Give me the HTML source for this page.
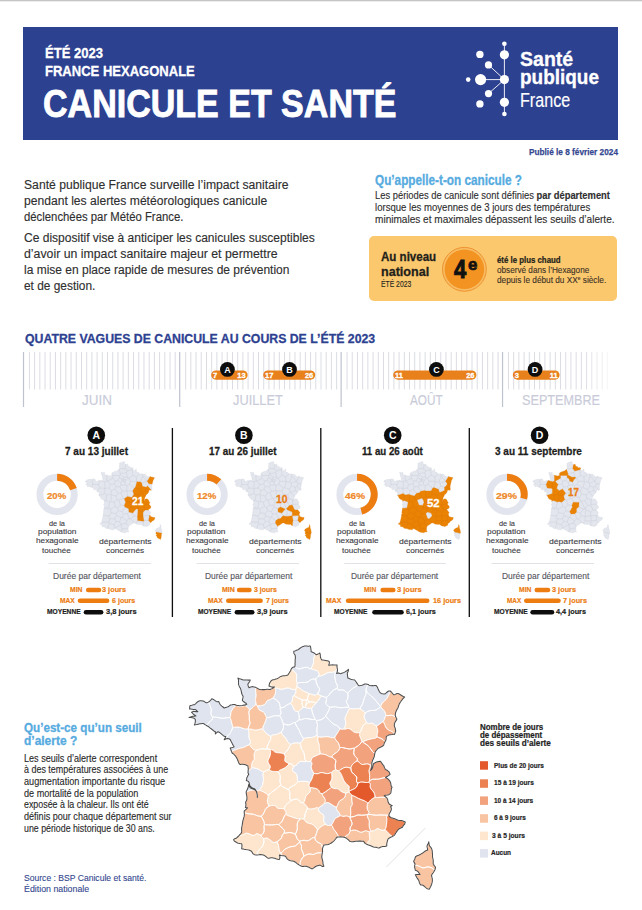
<!DOCTYPE html><html lang="fr"><head><meta charset="utf-8"><title>Canicule et santé — été 2023</title><style>
html,body{margin:0;padding:0;background:#fff}
body{width:642px;height:910px;position:relative;overflow:hidden;font-family:"Liberation Sans",sans-serif}
.t{position:absolute;white-space:nowrap;line-height:1;transform-origin:0 0;letter-spacing:0}
.t sup{font-size:0.6em;vertical-align:0;position:relative;top:-0.55em}
.abs{position:absolute}
svg{position:absolute;left:0;top:0;overflow:visible}

</style></head><body>
<div class="abs" style="left:0;top:0;width:642px;height:1px;background:#c6c6c6"></div>
<div class="abs" style="left:0;top:1px;width:642px;height:1px;background:#ececec"></div>
<div class="abs" style="left:23px;top:27px;width:595px;height:113px;background:#2d4191"></div>
<div class="abs" style="left:369px;top:236px;width:248px;height:65px;background:#fbc86e;border-radius:5px"></div>
<svg width="642" height="910" viewBox="0 0 642 910"><g fill="#fff" stroke="#fff"><line x1="504.4" y1="44" x2="504.4" y2="114" stroke-width="0.9"/><line x1="480.6" y1="79.6" x2="504.4" y2="79.6" stroke-width="0.9"/><line x1="488.5" y1="64.9" x2="504.4" y2="79.6" stroke-width="0.9"/><line x1="488.5" y1="93.6" x2="504.4" y2="79.6" stroke-width="0.9"/></g><g fill="#fff"><circle cx="504.4" cy="43.8" r="2.3"/><circle cx="504.4" cy="54.8" r="4.6"/><circle cx="504.4" cy="79.6" r="4.6"/><circle cx="504.4" cy="102.3" r="4.6"/><circle cx="504.4" cy="114" r="2.3"/><circle cx="480.6" cy="79.6" r="5.6"/><circle cx="468.2" cy="79.6" r="2.3"/><circle cx="479.9" cy="54.4" r="3.7"/><circle cx="488.5" cy="64.9" r="3.6"/><circle cx="488.5" cy="93.6" r="3.6"/><circle cx="479.9" cy="103.9" r="3.7"/></g><circle cx="464.4" cy="269.3" r="21.9" fill="#f8bd62" stroke="#ee9231" stroke-width="1"/><circle cx="464.4" cy="269.3" r="19.8" fill="#f39322"/><rect x="28.91" y="352" width="1" height="37.5" fill="#dcdde4" opacity="1.00"/><rect x="34.11" y="352" width="1" height="37.5" fill="#dcdde4" opacity="1.00"/><rect x="39.32" y="352" width="1" height="37.5" fill="#dcdde4" opacity="1.00"/><rect x="44.53" y="352" width="1" height="37.5" fill="#dcdde4" opacity="1.00"/><rect x="49.73" y="352" width="1" height="37.5" fill="#dcdde4" opacity="1.00"/><rect x="54.94" y="352" width="1" height="37.5" fill="#dcdde4" opacity="1.00"/><rect x="60.15" y="352" width="1" height="37.5" fill="#dcdde4" opacity="1.00"/><rect x="65.36" y="352" width="1" height="37.5" fill="#dcdde4" opacity="1.00"/><rect x="70.56" y="352" width="1" height="37.5" fill="#dcdde4" opacity="1.00"/><rect x="75.77" y="352" width="1" height="37.5" fill="#dcdde4" opacity="1.00"/><rect x="80.98" y="352" width="1" height="37.5" fill="#dcdde4" opacity="1.00"/><rect x="86.18" y="352" width="1" height="37.5" fill="#dcdde4" opacity="1.00"/><rect x="91.39" y="352" width="1" height="37.5" fill="#dcdde4" opacity="1.00"/><rect x="96.60" y="352" width="1" height="37.5" fill="#dcdde4" opacity="1.00"/><rect x="101.81" y="352" width="1" height="37.5" fill="#dcdde4" opacity="1.00"/><rect x="107.01" y="352" width="1" height="37.5" fill="#dcdde4" opacity="1.00"/><rect x="112.22" y="352" width="1" height="37.5" fill="#dcdde4" opacity="1.00"/><rect x="117.43" y="352" width="1" height="37.5" fill="#dcdde4" opacity="1.00"/><rect x="122.63" y="352" width="1" height="37.5" fill="#dcdde4" opacity="1.00"/><rect x="127.84" y="352" width="1" height="37.5" fill="#dcdde4" opacity="1.00"/><rect x="133.05" y="352" width="1" height="37.5" fill="#dcdde4" opacity="1.00"/><rect x="138.25" y="352" width="1" height="37.5" fill="#dcdde4" opacity="1.00"/><rect x="143.46" y="352" width="1" height="37.5" fill="#dcdde4" opacity="1.00"/><rect x="148.67" y="352" width="1" height="37.5" fill="#dcdde4" opacity="1.00"/><rect x="153.87" y="352" width="1" height="37.5" fill="#dcdde4" opacity="1.00"/><rect x="159.08" y="352" width="1" height="37.5" fill="#dcdde4" opacity="1.00"/><rect x="164.29" y="352" width="1" height="37.5" fill="#dcdde4" opacity="1.00"/><rect x="169.50" y="352" width="1" height="37.5" fill="#dcdde4" opacity="1.00"/><rect x="174.70" y="352" width="1" height="37.5" fill="#dcdde4" opacity="1.00"/><rect x="185.12" y="352" width="1" height="37.5" fill="#dcdde4" opacity="1.00"/><rect x="190.32" y="352" width="1" height="37.5" fill="#dcdde4" opacity="1.00"/><rect x="195.53" y="352" width="1" height="37.5" fill="#dcdde4" opacity="1.00"/><rect x="200.74" y="352" width="1" height="37.5" fill="#dcdde4" opacity="1.00"/><rect x="205.94" y="352" width="1" height="37.5" fill="#dcdde4" opacity="1.00"/><rect x="211.15" y="352" width="1" height="37.5" fill="#dcdde4" opacity="1.00"/><rect x="216.36" y="352" width="1" height="37.5" fill="#dcdde4" opacity="1.00"/><rect x="221.57" y="352" width="1" height="37.5" fill="#dcdde4" opacity="1.00"/><rect x="226.77" y="352" width="1" height="37.5" fill="#dcdde4" opacity="1.00"/><rect x="231.98" y="352" width="1" height="37.5" fill="#dcdde4" opacity="1.00"/><rect x="237.19" y="352" width="1" height="37.5" fill="#dcdde4" opacity="1.00"/><rect x="242.39" y="352" width="1" height="37.5" fill="#dcdde4" opacity="1.00"/><rect x="247.60" y="352" width="1" height="37.5" fill="#dcdde4" opacity="1.00"/><rect x="252.81" y="352" width="1" height="37.5" fill="#dcdde4" opacity="1.00"/><rect x="258.01" y="352" width="1" height="37.5" fill="#dcdde4" opacity="1.00"/><rect x="263.22" y="352" width="1" height="37.5" fill="#dcdde4" opacity="1.00"/><rect x="268.43" y="352" width="1" height="37.5" fill="#dcdde4" opacity="1.00"/><rect x="273.64" y="352" width="1" height="37.5" fill="#dcdde4" opacity="1.00"/><rect x="278.84" y="352" width="1" height="37.5" fill="#dcdde4" opacity="1.00"/><rect x="284.05" y="352" width="1" height="37.5" fill="#dcdde4" opacity="1.00"/><rect x="289.26" y="352" width="1" height="37.5" fill="#dcdde4" opacity="1.00"/><rect x="294.46" y="352" width="1" height="37.5" fill="#dcdde4" opacity="1.00"/><rect x="299.67" y="352" width="1" height="37.5" fill="#dcdde4" opacity="1.00"/><rect x="304.88" y="352" width="1" height="37.5" fill="#dcdde4" opacity="1.00"/><rect x="310.08" y="352" width="1" height="37.5" fill="#dcdde4" opacity="1.00"/><rect x="315.29" y="352" width="1" height="37.5" fill="#dcdde4" opacity="1.00"/><rect x="320.50" y="352" width="1" height="37.5" fill="#dcdde4" opacity="1.00"/><rect x="325.71" y="352" width="1" height="37.5" fill="#dcdde4" opacity="1.00"/><rect x="330.91" y="352" width="1" height="37.5" fill="#dcdde4" opacity="1.00"/><rect x="336.12" y="352" width="1" height="37.5" fill="#dcdde4" opacity="1.00"/><rect x="346.53" y="352" width="1" height="37.5" fill="#dcdde4" opacity="1.00"/><rect x="351.74" y="352" width="1" height="37.5" fill="#dcdde4" opacity="1.00"/><rect x="356.95" y="352" width="1" height="37.5" fill="#dcdde4" opacity="1.00"/><rect x="362.15" y="352" width="1" height="37.5" fill="#dcdde4" opacity="1.00"/><rect x="367.36" y="352" width="1" height="37.5" fill="#dcdde4" opacity="1.00"/><rect x="372.57" y="352" width="1" height="37.5" fill="#dcdde4" opacity="1.00"/><rect x="377.78" y="352" width="1" height="37.5" fill="#dcdde4" opacity="1.00"/><rect x="382.98" y="352" width="1" height="37.5" fill="#dcdde4" opacity="1.00"/><rect x="388.19" y="352" width="1" height="37.5" fill="#dcdde4" opacity="1.00"/><rect x="393.40" y="352" width="1" height="37.5" fill="#dcdde4" opacity="1.00"/><rect x="398.60" y="352" width="1" height="37.5" fill="#dcdde4" opacity="1.00"/><rect x="403.81" y="352" width="1" height="37.5" fill="#dcdde4" opacity="1.00"/><rect x="409.02" y="352" width="1" height="37.5" fill="#dcdde4" opacity="1.00"/><rect x="414.22" y="352" width="1" height="37.5" fill="#dcdde4" opacity="1.00"/><rect x="419.43" y="352" width="1" height="37.5" fill="#dcdde4" opacity="1.00"/><rect x="424.64" y="352" width="1" height="37.5" fill="#dcdde4" opacity="1.00"/><rect x="429.85" y="352" width="1" height="37.5" fill="#dcdde4" opacity="1.00"/><rect x="435.05" y="352" width="1" height="37.5" fill="#dcdde4" opacity="1.00"/><rect x="440.26" y="352" width="1" height="37.5" fill="#dcdde4" opacity="1.00"/><rect x="445.47" y="352" width="1" height="37.5" fill="#dcdde4" opacity="1.00"/><rect x="450.67" y="352" width="1" height="37.5" fill="#dcdde4" opacity="1.00"/><rect x="455.88" y="352" width="1" height="37.5" fill="#dcdde4" opacity="1.00"/><rect x="461.09" y="352" width="1" height="37.5" fill="#dcdde4" opacity="1.00"/><rect x="466.29" y="352" width="1" height="37.5" fill="#dcdde4" opacity="1.00"/><rect x="471.50" y="352" width="1" height="37.5" fill="#dcdde4" opacity="1.00"/><rect x="476.71" y="352" width="1" height="37.5" fill="#dcdde4" opacity="1.00"/><rect x="481.92" y="352" width="1" height="37.5" fill="#dcdde4" opacity="1.00"/><rect x="487.12" y="352" width="1" height="37.5" fill="#dcdde4" opacity="1.00"/><rect x="492.33" y="352" width="1" height="37.5" fill="#dcdde4" opacity="1.00"/><rect x="497.54" y="352" width="1" height="37.5" fill="#dcdde4" opacity="1.00"/><rect x="507.95" y="352" width="1" height="37.5" fill="#dcdde4" opacity="1.00"/><rect x="513.16" y="352" width="1" height="37.5" fill="#dcdde4" opacity="1.00"/><rect x="518.37" y="352" width="1" height="37.5" fill="#dcdde4" opacity="1.00"/><rect x="523.57" y="352" width="1" height="37.5" fill="#dcdde4" opacity="1.00"/><rect x="528.78" y="352" width="1" height="37.5" fill="#dcdde4" opacity="1.00"/><rect x="533.99" y="352" width="1" height="37.5" fill="#dcdde4" opacity="1.00"/><rect x="539.19" y="352" width="1" height="37.5" fill="#dcdde4" opacity="1.00"/><rect x="544.40" y="352" width="1" height="37.5" fill="#dcdde4" opacity="1.00"/><rect x="549.61" y="352" width="1" height="37.5" fill="#dcdde4" opacity="1.00"/><rect x="554.81" y="352" width="1" height="37.5" fill="#dcdde4" opacity="1.00"/><rect x="560.02" y="352" width="1" height="37.5" fill="#dcdde4" opacity="1.00"/><rect x="565.23" y="352" width="1" height="37.5" fill="#dcdde4" opacity="1.00"/><rect x="570.44" y="352" width="1" height="37.5" fill="#dcdde4" opacity="1.00"/><rect x="575.64" y="352" width="1" height="37.5" fill="#dcdde4" opacity="1.00"/><rect x="580.85" y="352" width="1" height="37.5" fill="#dcdde4" opacity="1.00"/><rect x="586.06" y="352" width="1" height="37.5" fill="#dcdde4" opacity="0.95"/><rect x="591.26" y="352" width="1" height="37.5" fill="#dcdde4" opacity="0.77"/><rect x="596.47" y="352" width="1" height="37.5" fill="#dcdde4" opacity="0.60"/><rect x="601.68" y="352" width="1" height="37.5" fill="#dcdde4" opacity="0.43"/><rect x="606.88" y="352" width="1" height="37.5" fill="#dcdde4" opacity="0.25"/><rect x="22.90" y="352" width="1.2" height="55" fill="#bfc2cf"/><rect x="179.11" y="352" width="1.2" height="55" fill="#bfc2cf"/><rect x="340.53" y="352" width="1.2" height="55" fill="#bfc2cf"/><rect x="501.94" y="352" width="1.2" height="55" fill="#bfc2cf"/><rect x="211.20" y="370.4" width="36.40" height="9.3" rx="4.65" fill="#e8801b"/><text x="213.10" y="377.9" font-size="7.5" font-weight="bold" fill="#fff" stroke="#fff" stroke-width="0.3" font-family="Liberation Sans">7</text><text x="245.70" y="377.9" font-size="7.5" font-weight="bold" fill="#fff" stroke="#fff" stroke-width="0.3" text-anchor="end" font-family="Liberation Sans">13</text><circle cx="227.40" cy="369.4" r="7.4" fill="#0d0d0d"/><text x="227.40" y="372.6" font-size="9" font-weight="bold" fill="#fff" text-anchor="middle" font-family="Liberation Sans">A</text><rect x="263.20" y="370.4" width="52.00" height="9.3" rx="4.65" fill="#e8801b"/><text x="265.10" y="377.9" font-size="7.5" font-weight="bold" fill="#fff" stroke="#fff" stroke-width="0.3" font-family="Liberation Sans">17</text><text x="313.30" y="377.9" font-size="7.5" font-weight="bold" fill="#fff" stroke="#fff" stroke-width="0.3" text-anchor="end" font-family="Liberation Sans">26</text><circle cx="289.50" cy="369.4" r="7.4" fill="#0d0d0d"/><text x="289.50" y="372.6" font-size="9" font-weight="bold" fill="#fff" text-anchor="middle" font-family="Liberation Sans">B</text><rect x="393.20" y="370.4" width="83.20" height="9.3" rx="4.65" fill="#e8801b"/><text x="395.10" y="377.9" font-size="7.5" font-weight="bold" fill="#fff" stroke="#fff" stroke-width="0.3" font-family="Liberation Sans">11</text><text x="474.50" y="377.9" font-size="7.5" font-weight="bold" fill="#fff" stroke="#fff" stroke-width="0.3" text-anchor="end" font-family="Liberation Sans">26</text><circle cx="436.40" cy="369.4" r="7.4" fill="#0d0d0d"/><text x="436.40" y="372.6" font-size="9" font-weight="bold" fill="#fff" text-anchor="middle" font-family="Liberation Sans">C</text><rect x="512.80" y="370.4" width="46.80" height="9.3" rx="4.65" fill="#e8801b"/><text x="514.70" y="377.9" font-size="7.5" font-weight="bold" fill="#fff" stroke="#fff" stroke-width="0.3" font-family="Liberation Sans">3</text><text x="557.70" y="377.9" font-size="7.5" font-weight="bold" fill="#fff" stroke="#fff" stroke-width="0.3" text-anchor="end" font-family="Liberation Sans">11</text><circle cx="535.10" cy="369.4" r="7.4" fill="#0d0d0d"/><text x="535.10" y="372.6" font-size="9" font-weight="bold" fill="#fff" text-anchor="middle" font-family="Liberation Sans">D</text><circle cx="96.3" cy="435.2" r="8.8" fill="#0d0d0d"/><text x="96.3" y="439.1" font-size="10.5" font-weight="bold" fill="#fff" text-anchor="middle" font-family="Liberation Sans">A</text><circle cx="57.10" cy="494.4" r="17.2" fill="none" stroke="#e3e5ee" stroke-width="6.9"/><path d="M57.10,477.20 A17.2,17.2 0 0 1 73.46,489.08" fill="none" stroke="#ee7d11" stroke-width="6.9"/><rect x="48.6" y="563" width="102.4" height="0.9" fill="#dedfe3"/><rect x="85.90" y="587.70" width="15.40" height="4.6" rx="2.3" fill="#ee7d11"/><rect x="77.70" y="598.40" width="31.70" height="4.6" rx="2.3" fill="#ee7d11"/><rect x="83.70" y="609.90" width="19.70" height="4.6" rx="2.3" fill="#0d0d0d"/><circle cx="243.9" cy="435.2" r="8.8" fill="#0d0d0d"/><text x="243.9" y="439.1" font-size="10.5" font-weight="bold" fill="#fff" text-anchor="middle" font-family="Liberation Sans">B</text><circle cx="207.07" cy="494.4" r="17.2" fill="none" stroke="#e3e5ee" stroke-width="6.9"/><path d="M207.07,477.20 A17.2,17.2 0 0 1 218.84,481.86" fill="none" stroke="#ee7d11" stroke-width="6.9"/><rect x="196.6" y="563" width="102.4" height="0.9" fill="#dedfe3"/><rect x="236.80" y="587.70" width="14.90" height="4.6" rx="2.3" fill="#ee7d11"/><rect x="226.00" y="598.40" width="36.90" height="4.6" rx="2.3" fill="#ee7d11"/><rect x="234.60" y="609.90" width="19.90" height="4.6" rx="2.3" fill="#0d0d0d"/><circle cx="392.7" cy="435.2" r="8.8" fill="#0d0d0d"/><text x="392.7" y="439.1" font-size="10.5" font-weight="bold" fill="#fff" text-anchor="middle" font-family="Liberation Sans">C</text><circle cx="357.04" cy="494.4" r="17.2" fill="none" stroke="#e3e5ee" stroke-width="6.9"/><path d="M357.04,477.20 A17.2,17.2 0 0 1 361.32,511.06" fill="none" stroke="#ee7d11" stroke-width="6.9"/><rect x="344.2" y="563" width="101.6" height="0.9" fill="#dedfe3"/><rect x="380.40" y="587.70" width="15.20" height="4.6" rx="2.3" fill="#ee7d11"/><rect x="345.80" y="598.40" width="83.70" height="4.6" rx="2.3" fill="#ee7d11"/><rect x="372.20" y="609.90" width="31.60" height="4.6" rx="2.3" fill="#0d0d0d"/><circle cx="539.6" cy="435.2" r="8.8" fill="#0d0d0d"/><text x="539.6" y="439.1" font-size="10.5" font-weight="bold" fill="#fff" text-anchor="middle" font-family="Liberation Sans">D</text><circle cx="507.01" cy="494.4" r="17.2" fill="none" stroke="#e3e5ee" stroke-width="6.9"/><path d="M507.01,477.20 A17.2,17.2 0 0 1 523.67,498.68" fill="none" stroke="#ee7d11" stroke-width="6.9"/><rect x="491.7" y="563" width="102.4" height="0.9" fill="#dedfe3"/><rect x="534.50" y="587.70" width="15.80" height="4.6" rx="2.3" fill="#ee7d11"/><rect x="524.00" y="598.40" width="36.80" height="4.6" rx="2.3" fill="#ee7d11"/><rect x="530.30" y="609.90" width="24.00" height="4.6" rx="2.3" fill="#0d0d0d"/><rect x="171.75" y="428" width="1.3" height="189" fill="#0d0d0d"/><rect x="320.15000000000003" y="428" width="1.3" height="189" fill="#0d0d0d"/><rect x="468.65000000000003" y="428" width="1.3" height="189" fill="#0d0d0d"/><path d="M129.05,478.24L132.77,475.29L132.24,469.63L127.17,471.06L126.42,472.57L127.43,477.10L128.21,477.92ZM148.59,520.43L149.55,515.48L143.02,515.86L143.89,520.71ZM149.55,515.48L149.95,515.09L150.22,513.22L150.88,512.77L148.88,510.28L148.69,510.10L145.43,509.90L143.10,511.97L143.01,515.86L143.02,515.86ZM137.56,516.38L138.00,509.69L137.34,508.72L135.99,508.96L132.67,513.11L133.84,515.87L137.50,516.43ZM132.24,469.63L132.77,475.29L136.43,476.89L139.70,474.07L138.58,472.62L136.47,471.87L136.14,470.25L136.50,469.02L135.59,469.45L134.34,470.71L132.78,470.50L133.00,468.72ZM122.11,529.01L121.11,524.57L115.01,527.79L114.91,528.59L116.09,528.94L118.75,530.61L120.42,531.44L120.81,531.65ZM129.54,484.26L134.23,488.15L135.37,487.61L136.91,481.73L136.57,481.37L130.63,481.29ZM126.17,523.04L121.17,524.36L121.11,524.57L122.11,529.01L128.14,528.07L128.13,527.95L128.46,526.72L128.63,526.46ZM129.27,518.75L127.39,513.65L123.45,513.89L122.17,517.15L126.71,520.60ZM143.57,521.18L137.62,520.52L135.69,523.42L135.70,523.43L137.08,524.29L138.66,524.33L139.84,524.45L141.29,524.16L141.74,524.87L142.70,525.41L143.21,525.64ZM106.93,480.99L107.59,481.14L112.84,478.26L112.92,475.43L112.58,474.86L112.35,474.99L111.55,475.45L109.86,475.97L108.04,475.49L106.70,475.18ZM111.85,473.66L111.57,474.31L112.44,474.63ZM122.13,511.75L123.45,513.89L127.39,513.65L128.95,511.93L128.72,508.68L124.94,506.90ZM111.07,501.49L109.78,501.97L108.58,508.04L110.34,509.24L115.23,506.55L114.10,502.14ZM104.03,501.21L104.01,501.28L104.79,502.94L103.91,504.12L103.61,504.92L104.82,505.63L106.34,507.48L106.61,508.13L108.58,508.04L109.78,501.97L105.83,500.43ZM106.45,508.14L104.64,506.11L104.00,508.20L104.00,508.25ZM123.25,498.32L124.32,498.69L127.44,496.38L126.99,490.89L126.59,490.54L122.21,491.27L121.00,492.86ZM117.45,507.62L118.34,510.71L122.13,511.75L124.94,506.90L124.25,505.43L120.58,505.12ZM92.77,484.53L98.53,484.53L100.26,480.72L98.76,480.40L97.51,480.98L96.40,481.72L95.65,480.85L94.94,479.17L92.84,478.77L92.10,479.61L91.95,479.60ZM120.58,505.12L124.25,505.43L125.66,502.26L124.32,498.69L123.25,498.32L118.66,500.10ZM115.23,506.55L110.34,509.24L111.16,512.58L115.86,513.73L118.34,510.71L117.45,507.62ZM119.54,475.47L112.92,475.43L112.84,478.26L115.28,481.20L117.84,480.39L119.46,477.53ZM117.84,480.39L115.28,481.20L114.51,484.07L116.06,486.76L119.88,486.61L121.01,485.23L120.58,482.62ZM92.77,484.53L91.95,479.60L89.98,479.36L87.99,479.68L86.62,480.13L85.60,480.86L85.55,482.24L87.28,481.99L88.03,482.71L86.69,482.75L86.28,483.12L86.89,483.67L87.92,484.33L86.72,484.47L85.57,484.61L87.31,485.25L87.36,486.73L88.85,486.36L89.82,486.45L91.31,487.13ZM137.62,520.52L137.50,516.43L133.84,515.87L130.95,518.84L133.95,522.88L134.34,522.81L135.69,523.42ZM119.50,521.83L116.16,521.49L113.89,524.81L115.01,527.79L121.11,524.57L121.17,524.36ZM108.80,522.05L109.39,523.25L113.89,524.81L116.16,521.49L114.71,518.92L109.82,518.85ZM108.65,516.04L111.16,512.58L110.34,509.24L108.58,508.04L106.61,508.13L107.25,509.72L106.60,508.31L106.45,508.14L104.00,508.25L103.68,511.03L103.31,513.37L104.17,513.49L103.28,514.27L103.18,515.03ZM130.95,518.84L129.27,518.75L126.71,520.60L126.17,523.04L128.63,526.46L129.20,525.58L130.48,525.07L131.92,524.07L133.35,522.99L133.95,522.88ZM100.75,480.58L100.34,480.74L100.26,480.72L98.53,484.53L99.67,487.98L104.67,488.38L104.98,481.82ZM123.25,498.32L121.00,492.86L118.09,493.35L116.01,496.05L117.12,499.69L118.66,500.10ZM114.97,489.10L111.58,490.63L110.78,494.36L111.28,494.86L116.01,496.05L118.09,493.35ZM108.80,522.05L109.82,518.85L108.65,516.04L103.18,515.03L102.90,517.10L102.35,519.51L101.87,521.53L101.57,522.21ZM122.21,491.27L119.88,486.61L116.06,486.76L114.97,489.10L118.09,493.35L121.00,492.86ZM104.80,493.56L104.70,488.40L104.67,488.38L99.67,487.98L97.02,491.39L96.97,491.61L98.87,491.89L99.08,493.13L99.71,493.73L98.47,494.47L99.19,495.45ZM121.01,485.23L119.88,486.61L122.21,491.27L126.59,490.54L126.85,485.73L125.51,484.94ZM118.34,510.71L115.86,513.73L116.43,515.67L121.33,517.55L122.17,517.15L123.45,513.89L122.13,511.75ZM114.71,518.92L116.43,515.67L115.86,513.73L111.16,512.58L108.65,516.04L109.82,518.85ZM132.67,513.11L128.95,511.93L127.39,513.65L129.27,518.75L130.95,518.84L133.84,515.87ZM104.80,493.56L106.86,495.04L110.78,494.36L111.58,490.63L108.95,488.14L104.70,488.40ZM106.70,475.18L105.95,475.00L105.00,475.20L104.58,473.63L104.67,472.50L102.79,472.73L101.14,472.07L101.55,473.48L101.75,474.95L102.70,477.61L102.79,479.33L103.64,480.84L103.05,481.05L101.26,480.39L100.75,480.58L104.98,481.82L106.93,480.99ZM130.63,481.29L136.57,481.37L136.43,476.89L132.77,475.29L129.05,478.24ZM104.98,481.82L104.67,488.38L104.70,488.40L108.95,488.14L110.43,484.41L107.59,481.14L106.93,480.99ZM147.18,481.26L147.18,481.22L142.72,476.11L140.55,482.08L141.77,483.06ZM140.55,482.08L142.72,476.11L142.50,474.07L141.61,473.72L139.81,474.20L139.70,474.07L136.43,476.89L136.57,481.37L136.91,481.73ZM99.67,487.98L98.53,484.53L92.77,484.53L91.31,487.13L91.77,487.33L92.70,487.97L94.00,489.05L93.90,489.85L94.91,489.36L95.97,489.84L97.30,490.33L97.02,491.39ZM150.23,476.46L150.08,476.37L148.27,476.89L147.18,476.30L146.34,475.53L145.49,474.60L144.52,474.24L143.11,474.31L142.50,474.07L142.72,476.11L147.18,481.22ZM127.44,496.38L131.86,497.54L133.93,494.15L132.71,490.99L126.99,490.89ZM133.00,468.72L133.11,467.89L131.65,467.51L130.38,467.94L130.09,466.72L128.18,466.17L127.47,463.98L126.20,464.72L125.87,464.49L125.15,468.58L127.17,471.06L132.24,469.63ZM127.43,477.10L126.42,472.57L120.41,473.67L120.10,474.76L124.35,477.26ZM110.43,484.41L114.51,484.07L115.28,481.20L112.84,478.26L107.59,481.14ZM125.15,468.58L125.87,464.49L124.76,463.75L124.37,461.55L123.47,461.87L121.19,462.44L119.46,463.32L119.61,464.54L119.41,466.17L119.31,467.55L119.72,468.62L119.69,468.63ZM109.39,523.25L108.80,522.05L101.57,522.21L101.42,522.56L101.05,523.11L99.85,523.70L100.18,524.29L102.04,524.79L102.09,526.59L104.61,527.11L105.76,528.22L107.57,528.46ZM107.57,528.46L108.41,528.57L110.76,529.62L114.19,529.80L114.32,528.41L114.91,528.59L115.01,527.79L113.89,524.81L109.39,523.25ZM122.11,529.01L120.81,531.65L122.03,532.27L125.13,532.85L127.38,531.86L128.98,531.93L128.25,531.04L128.16,529.41L128.14,528.07ZM148.94,483.69L147.68,486.12L151.31,490.31L151.38,490.32L152.01,489.22L151.71,487.44L151.90,484.98L152.16,483.98ZM114.51,484.07L110.43,484.41L108.95,488.14L111.58,490.63L114.97,489.10L116.06,486.76ZM123.09,478.77L123.31,480.59L124.13,479.79L123.30,478.65ZM118.83,469.25L118.43,469.82L116.87,470.94L115.00,471.39L113.17,472.16L112.28,472.63L111.85,473.66L112.44,474.63L112.77,474.76L112.58,474.86L112.92,475.43L119.54,475.47L120.10,474.76L120.41,473.67ZM126.19,479.86L124.89,482.13L125.51,484.94L126.85,485.73L129.54,484.26L130.63,481.29L129.05,478.24L128.21,477.92ZM121.69,479.06L119.46,477.53L117.84,480.39L120.58,482.62L122.15,481.27ZM110.78,494.36L106.86,495.04L105.83,500.43L109.78,501.97L111.07,501.49L111.28,494.86ZM120.41,473.67L126.42,472.57L127.17,471.06L125.15,468.58L119.69,468.63L119.05,468.94L118.83,469.25ZM122.17,517.15L121.33,517.55L119.50,521.83L121.17,524.36L126.17,523.04L126.71,520.60ZM114.71,518.92L116.16,521.49L119.50,521.83L121.33,517.55L116.43,515.67ZM148.59,520.43L143.89,520.71L143.57,521.18L143.21,525.64L144.33,526.16L145.10,526.12L146.42,526.63L147.56,526.01L149.28,525.26L149.58,523.62L150.75,522.74ZM105.83,500.43L106.86,495.04L104.80,493.56L99.19,495.45L100.03,496.60L100.89,498.36L102.40,499.57L104.33,500.07L104.03,501.21ZM116.01,496.05L111.28,494.86L111.07,501.49L114.10,502.14L117.12,499.69ZM117.12,499.69L114.10,502.14L115.23,506.55L117.45,507.62L120.58,505.12L118.66,500.10ZM147.18,481.26L141.77,483.06L142.30,486.14L146.04,487.24L147.68,486.12L148.94,483.69ZM126.59,490.54L126.99,490.89L132.71,490.99L134.23,488.15L129.54,484.26L126.85,485.73ZM124.89,482.13L123.04,481.21L122.15,481.27L120.58,482.62L121.01,485.23L125.51,484.94ZM121.69,479.06L122.15,481.27L123.04,481.21L123.31,480.59L123.09,478.77ZM124.13,479.79L126.19,479.86L128.21,477.92L127.43,477.10L124.35,477.26L123.30,478.65ZM123.31,480.59L123.04,481.21L124.89,482.13L126.19,479.86L124.13,479.79ZM124.35,477.26L120.10,474.76L119.54,475.47L119.46,477.53L121.69,479.06L123.09,478.77L123.30,478.65ZM161.89,533.36L162.13,532.62L161.72,529.90L160.96,527.68L160.95,526.30L160.29,524.43L160.06,525.46L159.91,527.31L157.96,527.94L156.04,529.01L155.18,530.73L156.29,531.74L156.20,532.05Z" fill="#e4e6ee" stroke="#cbcfda" stroke-width="0.3" stroke-linejoin="round"/><path d="M143.38,504.44L143.50,499.85L139.29,498.55L137.29,500.66L140.09,505.54L143.01,504.93ZM124.32,498.69L125.66,502.26L131.41,502.44L132.88,500.96L131.86,497.54L127.44,496.38ZM149.55,515.48L148.59,520.43L150.75,522.74L150.76,522.73L151.24,522.13L151.94,521.28L152.61,520.83L153.46,520.45L154.06,520.00L154.81,518.40L154.98,517.57L152.82,517.31L150.74,516.62L149.95,515.11L149.95,515.09ZM138.67,494.80L141.02,492.32L140.06,489.36L135.37,487.61L134.23,488.15L132.71,490.99L133.93,494.15ZM146.21,490.53L141.43,492.42L145.44,496.33L146.21,494.69L147.77,493.39L148.56,492.03ZM137.56,516.38L143.01,515.86L143.10,511.97L138.00,509.69ZM138.00,509.69L143.10,511.97L145.43,509.90L143.01,504.93L140.09,505.54L137.45,508.47L137.34,508.72ZM141.43,492.42L141.02,492.32L138.67,494.80L139.29,498.55L143.50,499.85L144.46,499.13L144.64,498.03L145.44,496.33ZM135.99,508.96L137.34,508.72L137.45,508.47L133.59,501.11L132.88,500.96L131.41,502.44L131.17,506.93ZM128.72,508.68L128.95,511.93L132.67,513.11L135.99,508.96L131.17,506.93ZM140.06,489.36L142.30,486.14L141.77,483.06L140.55,482.08L136.91,481.73L135.37,487.61ZM124.94,506.90L128.72,508.68L131.17,506.93L131.41,502.44L125.66,502.26L124.25,505.43ZM147.18,481.22L147.18,481.26L148.94,483.69L152.16,483.98L152.44,482.91L153.04,480.42L153.97,478.72L154.57,477.70L152.94,477.16L151.19,477.03L150.23,476.46ZM140.09,505.54L137.29,500.66L133.59,501.11L137.45,508.47ZM146.21,490.53L146.04,487.24L142.30,486.14L140.06,489.36L141.02,492.32L141.43,492.42ZM133.59,501.11L137.29,500.66L139.29,498.55L138.67,494.80L133.93,494.15L131.86,497.54L132.88,500.96ZM143.38,504.44L143.01,504.93L145.43,509.90L148.69,510.10L148.16,509.58L150.19,508.57L151.10,507.05L149.96,505.16L148.78,504.11ZM143.50,499.85L143.38,504.44L148.78,504.11L148.76,504.09L150.02,502.88L149.02,501.31L148.36,499.71L146.85,498.73L145.10,499.23L144.61,500.31L143.95,501.40L144.44,499.26L144.46,499.13ZM143.57,521.18L143.89,520.71L143.02,515.86L143.01,515.86L137.56,516.38L137.50,516.43L137.62,520.52ZM147.68,486.12L146.04,487.24L146.21,490.53L148.56,492.03L148.75,491.70L148.94,490.47L149.73,490.02L151.31,490.31ZM156.20,532.05L155.78,533.61L157.24,534.69L155.90,534.98L157.08,536.72L157.55,538.06L159.33,538.83L160.56,539.46L161.24,537.29L161.35,534.98L161.89,533.36Z" fill="#ea8204" stroke="#dc7a08" stroke-width="0.25" stroke-linejoin="round"/><path d="M292.58,504.44L292.70,499.85L288.49,498.55L286.49,500.66L289.29,505.54L292.21,504.93ZM278.25,478.24L281.97,475.29L281.44,469.63L276.37,471.06L275.62,472.57L276.63,477.10L277.41,477.92ZM273.52,498.69L274.86,502.26L280.61,502.44L282.08,500.96L281.06,497.54L276.64,496.38ZM297.79,520.43L298.75,515.48L292.22,515.86L293.09,520.71ZM286.76,516.38L287.20,509.69L286.54,508.72L285.19,508.96L281.87,513.11L283.04,515.87L286.70,516.43ZM281.44,469.63L281.97,475.29L285.63,476.89L288.90,474.07L287.78,472.62L285.67,471.87L285.34,470.25L285.70,469.02L284.79,469.45L283.54,470.71L281.98,470.50L282.20,468.72ZM271.31,529.01L270.31,524.57L264.21,527.79L264.11,528.59L265.29,528.94L267.95,530.61L269.62,531.44L270.01,531.65ZM278.74,484.26L283.43,488.15L284.57,487.61L286.11,481.73L285.77,481.37L279.83,481.29ZM275.37,523.04L270.37,524.36L270.31,524.57L271.31,529.01L277.34,528.07L277.33,527.95L277.66,526.72L277.83,526.46ZM278.47,518.75L276.59,513.65L272.65,513.89L271.37,517.15L275.91,520.60ZM256.13,480.99L256.79,481.14L262.04,478.26L262.12,475.43L261.78,474.86L261.55,474.99L260.75,475.45L259.06,475.97L257.24,475.49L255.90,475.18ZM261.05,473.66L260.77,474.31L261.64,474.63ZM271.33,511.75L272.65,513.89L276.59,513.65L278.15,511.93L277.92,508.68L274.14,506.90ZM260.27,501.49L258.98,501.97L257.78,508.04L259.54,509.24L264.43,506.55L263.30,502.14ZM253.23,501.21L253.21,501.28L253.99,502.94L253.11,504.12L252.81,504.92L254.02,505.63L255.54,507.48L255.81,508.13L257.78,508.04L258.98,501.97L255.03,500.43ZM255.65,508.14L253.84,506.11L253.20,508.20L253.20,508.25ZM272.45,498.32L273.52,498.69L276.64,496.38L276.19,490.89L275.79,490.54L271.41,491.27L270.20,492.86ZM266.65,507.62L267.54,510.71L271.33,511.75L274.14,506.90L273.45,505.43L269.78,505.12ZM287.87,494.80L290.22,492.32L289.26,489.36L284.57,487.61L283.43,488.15L281.91,490.99L283.13,494.15ZM241.97,484.53L247.73,484.53L249.46,480.72L247.96,480.40L246.71,480.98L245.60,481.72L244.85,480.85L244.14,479.17L242.04,478.77L241.30,479.61L241.15,479.60ZM269.78,505.12L273.45,505.43L274.86,502.26L273.52,498.69L272.45,498.32L267.86,500.10ZM264.43,506.55L259.54,509.24L260.36,512.58L265.06,513.73L267.54,510.71L266.65,507.62ZM295.41,490.53L290.63,492.42L294.64,496.33L295.41,494.69L296.97,493.39L297.76,492.03ZM286.76,516.38L292.21,515.86L292.30,511.97L287.20,509.69ZM268.74,475.47L262.12,475.43L262.04,478.26L264.48,481.20L267.04,480.39L268.66,477.53ZM267.04,480.39L264.48,481.20L263.71,484.07L265.26,486.76L269.08,486.61L270.21,485.23L269.78,482.62ZM241.97,484.53L241.15,479.60L239.18,479.36L237.19,479.68L235.82,480.13L234.80,480.86L234.75,482.24L236.48,481.99L237.23,482.71L235.89,482.75L235.48,483.12L236.09,483.67L237.12,484.33L235.92,484.47L234.77,484.61L236.51,485.25L236.56,486.73L238.05,486.36L239.02,486.45L240.51,487.13ZM268.70,521.83L265.36,521.49L263.09,524.81L264.21,527.79L270.31,524.57L270.37,524.36ZM258.00,522.05L258.59,523.25L263.09,524.81L265.36,521.49L263.91,518.92L259.02,518.85ZM257.85,516.04L260.36,512.58L259.54,509.24L257.78,508.04L255.81,508.13L256.45,509.72L255.80,508.31L255.65,508.14L253.20,508.25L252.88,511.03L252.51,513.37L253.37,513.49L252.48,514.27L252.38,515.03ZM249.95,480.58L249.54,480.74L249.46,480.72L247.73,484.53L248.87,487.98L253.87,488.38L254.18,481.82ZM272.45,498.32L270.20,492.86L267.29,493.35L265.21,496.05L266.32,499.69L267.86,500.10ZM264.17,489.10L260.78,490.63L259.98,494.36L260.48,494.86L265.21,496.05L267.29,493.35ZM290.63,492.42L290.22,492.32L287.87,494.80L288.49,498.55L292.70,499.85L293.66,499.13L293.84,498.03L294.64,496.33ZM258.00,522.05L259.02,518.85L257.85,516.04L252.38,515.03L252.10,517.10L251.55,519.51L251.07,521.53L250.77,522.21ZM271.41,491.27L269.08,486.61L265.26,486.76L264.17,489.10L267.29,493.35L270.20,492.86ZM285.19,508.96L286.54,508.72L286.65,508.47L282.79,501.11L282.08,500.96L280.61,502.44L280.37,506.93ZM254.00,493.56L253.90,488.40L253.87,488.38L248.87,487.98L246.22,491.39L246.17,491.61L248.07,491.89L248.28,493.13L248.91,493.73L247.67,494.47L248.39,495.45ZM270.21,485.23L269.08,486.61L271.41,491.27L275.79,490.54L276.05,485.73L274.71,484.94ZM267.54,510.71L265.06,513.73L265.63,515.67L270.53,517.55L271.37,517.15L272.65,513.89L271.33,511.75ZM263.91,518.92L265.63,515.67L265.06,513.73L260.36,512.58L257.85,516.04L259.02,518.85ZM281.87,513.11L278.15,511.93L276.59,513.65L278.47,518.75L280.15,518.84L283.04,515.87ZM254.00,493.56L256.06,495.04L259.98,494.36L260.78,490.63L258.15,488.14L253.90,488.40ZM255.90,475.18L255.15,475.00L254.20,475.20L253.78,473.63L253.87,472.50L251.99,472.73L250.34,472.07L250.75,473.48L250.95,474.95L251.90,477.61L251.99,479.33L252.84,480.84L252.25,481.05L250.46,480.39L249.95,480.58L254.18,481.82L256.13,480.99ZM279.83,481.29L285.77,481.37L285.63,476.89L281.97,475.29L278.25,478.24ZM289.26,489.36L291.50,486.14L290.97,483.06L289.75,482.08L286.11,481.73L284.57,487.61ZM254.18,481.82L253.87,488.38L253.90,488.40L258.15,488.14L259.63,484.41L256.79,481.14L256.13,480.99ZM296.38,481.26L296.38,481.22L291.92,476.11L289.75,482.08L290.97,483.06ZM289.75,482.08L291.92,476.11L291.70,474.07L290.81,473.72L289.01,474.20L288.90,474.07L285.63,476.89L285.77,481.37L286.11,481.73ZM248.87,487.98L247.73,484.53L241.97,484.53L240.51,487.13L240.97,487.33L241.90,487.97L243.20,489.05L243.10,489.85L244.11,489.36L245.17,489.84L246.50,490.33L246.22,491.39ZM299.43,476.46L299.28,476.37L297.47,476.89L296.38,476.30L295.54,475.53L294.69,474.60L293.72,474.24L292.31,474.31L291.70,474.07L291.92,476.11L296.38,481.22ZM276.64,496.38L281.06,497.54L283.13,494.15L281.91,490.99L276.19,490.89ZM282.20,468.72L282.31,467.89L280.85,467.51L279.58,467.94L279.29,466.72L277.38,466.17L276.67,463.98L275.40,464.72L275.07,464.49L274.35,468.58L276.37,471.06L281.44,469.63ZM276.63,477.10L275.62,472.57L269.61,473.67L269.30,474.76L273.55,477.26ZM259.63,484.41L263.71,484.07L264.48,481.20L262.04,478.26L256.79,481.14ZM274.35,468.58L275.07,464.49L273.96,463.75L273.57,461.55L272.67,461.87L270.39,462.44L268.66,463.32L268.81,464.54L268.61,466.17L268.51,467.55L268.92,468.62L268.89,468.63ZM274.14,506.90L277.92,508.68L280.37,506.93L280.61,502.44L274.86,502.26L273.45,505.43ZM258.59,523.25L258.00,522.05L250.77,522.21L250.62,522.56L250.25,523.11L249.05,523.70L249.38,524.29L251.24,524.79L251.29,526.59L253.81,527.11L254.96,528.22L256.77,528.46ZM256.77,528.46L257.61,528.57L259.96,529.62L263.39,529.80L263.52,528.41L264.11,528.59L264.21,527.79L263.09,524.81L258.59,523.25ZM271.31,529.01L270.01,531.65L271.23,532.27L274.33,532.85L276.58,531.86L278.18,531.93L277.45,531.04L277.36,529.41L277.34,528.07ZM296.38,481.22L296.38,481.26L298.14,483.69L301.36,483.98L301.64,482.91L302.24,480.42L303.17,478.72L303.77,477.70L302.14,477.16L300.39,477.03L299.43,476.46ZM298.14,483.69L296.88,486.12L300.51,490.31L300.58,490.32L301.21,489.22L300.91,487.44L301.10,484.98L301.36,483.98ZM289.29,505.54L286.49,500.66L282.79,501.11L286.65,508.47ZM295.41,490.53L295.24,487.24L291.50,486.14L289.26,489.36L290.22,492.32L290.63,492.42ZM282.79,501.11L286.49,500.66L288.49,498.55L287.87,494.80L283.13,494.15L281.06,497.54L282.08,500.96ZM263.71,484.07L259.63,484.41L258.15,488.14L260.78,490.63L264.17,489.10L265.26,486.76ZM292.58,504.44L292.21,504.93L294.63,509.90L297.89,510.10L297.36,509.58L299.39,508.57L300.30,507.05L299.16,505.16L297.98,504.11ZM292.70,499.85L292.58,504.44L297.98,504.11L297.96,504.09L299.22,502.88L298.22,501.31L297.56,499.71L296.05,498.73L294.30,499.23L293.81,500.31L293.15,501.40L293.64,499.26L293.66,499.13ZM272.29,478.77L272.51,480.59L273.33,479.79L272.50,478.65ZM268.03,469.25L267.63,469.82L266.07,470.94L264.20,471.39L262.37,472.16L261.48,472.63L261.05,473.66L261.64,474.63L261.97,474.76L261.78,474.86L262.12,475.43L268.74,475.47L269.30,474.76L269.61,473.67ZM275.39,479.86L274.09,482.13L274.71,484.94L276.05,485.73L278.74,484.26L279.83,481.29L278.25,478.24L277.41,477.92ZM270.89,479.06L268.66,477.53L267.04,480.39L269.78,482.62L271.35,481.27ZM259.98,494.36L256.06,495.04L255.03,500.43L258.98,501.97L260.27,501.49L260.48,494.86ZM269.61,473.67L275.62,472.57L276.37,471.06L274.35,468.58L268.89,468.63L268.25,468.94L268.03,469.25ZM271.37,517.15L270.53,517.55L268.70,521.83L270.37,524.36L275.37,523.04L275.91,520.60ZM263.91,518.92L265.36,521.49L268.70,521.83L270.53,517.55L265.63,515.67ZM297.79,520.43L293.09,520.71L292.77,521.18L292.41,525.64L293.53,526.16L294.30,526.12L295.62,526.63L296.76,526.01L298.48,525.26L298.78,523.62L299.95,522.74ZM255.03,500.43L256.06,495.04L254.00,493.56L248.39,495.45L249.23,496.60L250.09,498.36L251.60,499.57L253.53,500.07L253.23,501.21ZM265.21,496.05L260.48,494.86L260.27,501.49L263.30,502.14L266.32,499.69ZM266.32,499.69L263.30,502.14L264.43,506.55L266.65,507.62L269.78,505.12L267.86,500.10ZM296.38,481.26L290.97,483.06L291.50,486.14L295.24,487.24L296.88,486.12L298.14,483.69ZM275.79,490.54L276.19,490.89L281.91,490.99L283.43,488.15L278.74,484.26L276.05,485.73ZM296.88,486.12L295.24,487.24L295.41,490.53L297.76,492.03L297.95,491.70L298.14,490.47L298.93,490.02L300.51,490.31ZM274.09,482.13L272.24,481.21L271.35,481.27L269.78,482.62L270.21,485.23L274.71,484.94ZM270.89,479.06L271.35,481.27L272.24,481.21L272.51,480.59L272.29,478.77ZM273.33,479.79L275.39,479.86L277.41,477.92L276.63,477.10L273.55,477.26L272.50,478.65ZM272.51,480.59L272.24,481.21L274.09,482.13L275.39,479.86L273.33,479.79ZM273.55,477.26L269.30,474.76L268.74,475.47L268.66,477.53L270.89,479.06L272.29,478.77L272.50,478.65Z" fill="#e4e6ee" stroke="#cbcfda" stroke-width="0.3" stroke-linejoin="round"/><path d="M298.75,515.48L299.15,515.09L299.42,513.22L300.08,512.77L298.08,510.28L297.89,510.10L294.63,509.90L292.30,511.97L292.21,515.86L292.22,515.86ZM298.75,515.48L297.79,520.43L299.95,522.74L299.96,522.73L300.44,522.13L301.14,521.28L301.81,520.83L302.66,520.45L303.26,520.00L304.01,518.40L304.18,517.57L302.02,517.31L299.94,516.62L299.15,515.11L299.15,515.09ZM292.77,521.18L286.82,520.52L284.89,523.42L284.90,523.43L286.28,524.29L287.86,524.33L289.04,524.45L290.49,524.16L290.94,524.87L291.90,525.41L292.41,525.64ZM286.82,520.52L286.70,516.43L283.04,515.87L280.15,518.84L283.15,522.88L283.54,522.81L284.89,523.42ZM280.15,518.84L278.47,518.75L275.91,520.60L275.37,523.04L277.83,526.46L278.40,525.58L279.68,525.07L281.12,524.07L282.55,522.99L283.15,522.88ZM287.20,509.69L292.30,511.97L294.63,509.90L292.21,504.93L289.29,505.54L286.65,508.47L286.54,508.72ZM277.92,508.68L278.15,511.93L281.87,513.11L285.19,508.96L280.37,506.93ZM292.77,521.18L293.09,520.71L292.22,515.86L292.21,515.86L286.76,516.38L286.70,516.43L286.82,520.52ZM305.40,532.05L304.98,533.61L306.44,534.69L305.10,534.98L306.28,536.72L306.75,538.06L308.53,538.83L309.76,539.46L310.44,537.29L310.55,534.98L311.09,533.36ZM311.09,533.36L311.33,532.62L310.92,529.90L310.16,527.68L310.15,526.30L309.49,524.43L309.26,525.46L309.11,527.31L307.16,527.94L305.24,529.01L304.38,530.73L305.49,531.74L305.40,532.05Z" fill="#ea8204" stroke="#dc7a08" stroke-width="0.25" stroke-linejoin="round"/><path d="M427.45,478.24L431.17,475.29L430.64,469.63L425.57,471.06L424.82,472.57L425.83,477.10L426.61,477.92ZM430.64,469.63L431.17,475.29L434.83,476.89L438.10,474.07L436.98,472.62L434.87,471.87L434.54,470.25L434.90,469.02L433.99,469.45L432.74,470.71L431.18,470.50L431.40,468.72ZM427.94,484.26L432.63,488.15L433.77,487.61L435.31,481.73L434.97,481.37L429.03,481.29ZM405.33,480.99L405.99,481.14L411.24,478.26L411.32,475.43L410.98,474.86L410.75,474.99L409.95,475.45L408.26,475.97L406.44,475.49L405.10,475.18ZM410.25,473.66L409.97,474.31L410.84,474.63ZM402.43,501.21L402.41,501.28L403.19,502.94L402.31,504.12L402.01,504.92L403.22,505.63L404.74,507.48L405.01,508.13L406.98,508.04L408.18,501.97L404.23,500.43ZM404.85,508.14L403.04,506.11L402.40,508.20L402.40,508.25ZM391.17,484.53L396.93,484.53L398.66,480.72L397.16,480.40L395.91,480.98L394.80,481.72L394.05,480.85L393.34,479.17L391.24,478.77L390.50,479.61L390.35,479.60ZM418.98,505.12L422.65,505.43L424.06,502.26L422.72,498.69L421.65,498.32L417.06,500.10ZM417.94,475.47L411.32,475.43L411.24,478.26L413.68,481.20L416.24,480.39L417.86,477.53ZM416.24,480.39L413.68,481.20L412.91,484.07L414.46,486.76L418.28,486.61L419.41,485.23L418.98,482.62ZM391.17,484.53L390.35,479.60L388.38,479.36L386.39,479.68L385.02,480.13L384.00,480.86L383.95,482.24L385.68,481.99L386.43,482.71L385.09,482.75L384.68,483.12L385.29,483.67L386.32,484.33L385.12,484.47L383.97,484.61L385.71,485.25L385.76,486.73L387.25,486.36L388.22,486.45L389.71,487.13ZM399.15,480.58L398.74,480.74L398.66,480.72L396.93,484.53L398.07,487.98L403.07,488.38L403.38,481.82ZM413.37,489.10L409.98,490.63L409.18,494.36L409.68,494.86L414.41,496.05L416.49,493.35ZM420.61,491.27L418.28,486.61L414.46,486.76L413.37,489.10L416.49,493.35L419.40,492.86ZM403.20,493.56L403.10,488.40L403.07,488.38L398.07,487.98L395.42,491.39L395.37,491.61L397.27,491.89L397.48,493.13L398.11,493.73L396.87,494.47L397.59,495.45ZM419.41,485.23L418.28,486.61L420.61,491.27L424.99,490.54L425.25,485.73L423.91,484.94ZM431.07,513.11L427.35,511.93L425.79,513.65L427.67,518.75L429.35,518.84L432.24,515.87ZM403.20,493.56L405.26,495.04L409.18,494.36L409.98,490.63L407.35,488.14L403.10,488.40ZM405.10,475.18L404.35,475.00L403.40,475.20L402.98,473.63L403.07,472.50L401.19,472.73L399.54,472.07L399.95,473.48L400.15,474.95L401.10,477.61L401.19,479.33L402.04,480.84L401.45,481.05L399.66,480.39L399.15,480.58L403.38,481.82L405.33,480.99ZM429.03,481.29L434.97,481.37L434.83,476.89L431.17,475.29L427.45,478.24ZM438.46,489.36L440.70,486.14L440.17,483.06L438.95,482.08L435.31,481.73L433.77,487.61ZM403.38,481.82L403.07,488.38L403.10,488.40L407.35,488.14L408.83,484.41L405.99,481.14L405.33,480.99ZM445.58,481.26L445.58,481.22L441.12,476.11L438.95,482.08L440.17,483.06ZM438.95,482.08L441.12,476.11L440.90,474.07L440.01,473.72L438.21,474.20L438.10,474.07L434.83,476.89L434.97,481.37L435.31,481.73ZM398.07,487.98L396.93,484.53L391.17,484.53L389.71,487.13L390.17,487.33L391.10,487.97L392.40,489.05L392.30,489.85L393.31,489.36L394.37,489.84L395.70,490.33L395.42,491.39ZM448.63,476.46L448.48,476.37L446.67,476.89L445.58,476.30L444.74,475.53L443.89,474.60L442.92,474.24L441.51,474.31L440.90,474.07L441.12,476.11L445.58,481.22ZM431.40,468.72L431.51,467.89L430.05,467.51L428.78,467.94L428.49,466.72L426.58,466.17L425.87,463.98L424.60,464.72L424.27,464.49L423.55,468.58L425.57,471.06L430.64,469.63ZM425.83,477.10L424.82,472.57L418.81,473.67L418.50,474.76L422.75,477.26ZM408.83,484.41L412.91,484.07L413.68,481.20L411.24,478.26L405.99,481.14ZM423.55,468.58L424.27,464.49L423.16,463.75L422.77,461.55L421.87,461.87L419.59,462.44L417.86,463.32L418.01,464.54L417.81,466.17L417.71,467.55L418.12,468.62L418.09,468.63ZM444.61,490.53L444.44,487.24L440.70,486.14L438.46,489.36L439.42,492.32L439.83,492.42ZM412.91,484.07L408.83,484.41L407.35,488.14L409.98,490.63L413.37,489.10L414.46,486.76ZM421.49,478.77L421.71,480.59L422.53,479.79L421.70,478.65ZM417.23,469.25L416.83,469.82L415.27,470.94L413.40,471.39L411.57,472.16L410.68,472.63L410.25,473.66L410.84,474.63L411.17,474.76L410.98,474.86L411.32,475.43L417.94,475.47L418.50,474.76L418.81,473.67ZM424.59,479.86L423.29,482.13L423.91,484.94L425.25,485.73L427.94,484.26L429.03,481.29L427.45,478.24L426.61,477.92ZM420.09,479.06L417.86,477.53L416.24,480.39L418.98,482.62L420.55,481.27ZM418.81,473.67L424.82,472.57L425.57,471.06L423.55,468.58L418.09,468.63L417.45,468.94L417.23,469.25ZM445.58,481.26L440.17,483.06L440.70,486.14L444.44,487.24L446.08,486.12L447.34,483.69ZM424.99,490.54L425.39,490.89L431.11,490.99L432.63,488.15L427.94,484.26L425.25,485.73ZM423.29,482.13L421.44,481.21L420.55,481.27L418.98,482.62L419.41,485.23L423.91,484.94ZM420.09,479.06L420.55,481.27L421.44,481.21L421.71,480.59L421.49,478.77ZM422.53,479.79L424.59,479.86L426.61,477.92L425.83,477.10L422.75,477.26L421.70,478.65ZM421.71,480.59L421.44,481.21L423.29,482.13L424.59,479.86L422.53,479.79ZM422.75,477.26L418.50,474.76L417.94,475.47L417.86,477.53L420.09,479.06L421.49,478.77L421.70,478.65ZM454.60,532.05L454.18,533.61L455.64,534.69L454.30,534.98L455.48,536.72L455.95,538.06L457.73,538.83L458.96,539.46L459.64,537.29L459.75,534.98L460.29,533.36Z" fill="#e4e6ee" stroke="#cbcfda" stroke-width="0.3" stroke-linejoin="round"/><path d="M441.78,504.44L441.90,499.85L437.69,498.55L435.69,500.66L438.49,505.54L441.41,504.93ZM422.72,498.69L424.06,502.26L429.81,502.44L431.28,500.96L430.26,497.54L425.84,496.38ZM446.99,520.43L447.95,515.48L441.42,515.86L442.29,520.71ZM447.95,515.48L448.35,515.09L448.62,513.22L449.28,512.77L447.28,510.28L447.09,510.10L443.83,509.90L441.50,511.97L441.41,515.86L441.42,515.86ZM447.95,515.48L446.99,520.43L449.15,522.74L449.16,522.73L449.64,522.13L450.34,521.28L451.01,520.83L451.86,520.45L452.46,520.00L453.21,518.40L453.38,517.57L451.22,517.31L449.14,516.62L448.35,515.11L448.35,515.09ZM435.96,516.38L436.40,509.69L435.74,508.72L434.39,508.96L431.07,513.11L432.24,515.87L435.90,516.43ZM420.51,529.01L419.51,524.57L413.41,527.79L413.31,528.59L414.49,528.94L417.15,530.61L418.82,531.44L419.21,531.65ZM424.57,523.04L419.57,524.36L419.51,524.57L420.51,529.01L426.54,528.07L426.53,527.95L426.86,526.72L427.03,526.46ZM427.67,518.75L425.79,513.65L421.85,513.89L420.57,517.15L425.11,520.60ZM441.97,521.18L436.02,520.52L434.09,523.42L434.10,523.43L435.48,524.29L437.06,524.33L438.24,524.45L439.69,524.16L440.14,524.87L441.10,525.41L441.61,525.64ZM420.53,511.75L421.85,513.89L425.79,513.65L427.35,511.93L427.12,508.68L423.34,506.90ZM409.47,501.49L408.18,501.97L406.98,508.04L408.74,509.24L413.63,506.55L412.50,502.14ZM421.65,498.32L422.72,498.69L425.84,496.38L425.39,490.89L424.99,490.54L420.61,491.27L419.40,492.86ZM415.85,507.62L416.74,510.71L420.53,511.75L423.34,506.90L422.65,505.43L418.98,505.12ZM437.07,494.80L439.42,492.32L438.46,489.36L433.77,487.61L432.63,488.15L431.11,490.99L432.33,494.15ZM413.63,506.55L408.74,509.24L409.56,512.58L414.26,513.73L416.74,510.71L415.85,507.62ZM444.61,490.53L439.83,492.42L443.84,496.33L444.61,494.69L446.17,493.39L446.96,492.03ZM435.96,516.38L441.41,515.86L441.50,511.97L436.40,509.69ZM436.02,520.52L435.90,516.43L432.24,515.87L429.35,518.84L432.35,522.88L432.74,522.81L434.09,523.42ZM417.90,521.83L414.56,521.49L412.29,524.81L413.41,527.79L419.51,524.57L419.57,524.36ZM407.20,522.05L407.79,523.25L412.29,524.81L414.56,521.49L413.11,518.92L408.22,518.85ZM407.05,516.04L409.56,512.58L408.74,509.24L406.98,508.04L405.01,508.13L405.65,509.72L405.00,508.31L404.85,508.14L402.40,508.25L402.08,511.03L401.71,513.37L402.57,513.49L401.68,514.27L401.58,515.03ZM429.35,518.84L427.67,518.75L425.11,520.60L424.57,523.04L427.03,526.46L427.60,525.58L428.88,525.07L430.32,524.07L431.75,522.99L432.35,522.88ZM421.65,498.32L419.40,492.86L416.49,493.35L414.41,496.05L415.52,499.69L417.06,500.10ZM436.40,509.69L441.50,511.97L443.83,509.90L441.41,504.93L438.49,505.54L435.85,508.47L435.74,508.72ZM439.83,492.42L439.42,492.32L437.07,494.80L437.69,498.55L441.90,499.85L442.86,499.13L443.04,498.03L443.84,496.33ZM407.20,522.05L408.22,518.85L407.05,516.04L401.58,515.03L401.30,517.10L400.75,519.51L400.27,521.53L399.97,522.21ZM434.39,508.96L435.74,508.72L435.85,508.47L431.99,501.11L431.28,500.96L429.81,502.44L429.57,506.93ZM427.12,508.68L427.35,511.93L431.07,513.11L434.39,508.96L429.57,506.93ZM416.74,510.71L414.26,513.73L414.83,515.67L419.73,517.55L420.57,517.15L421.85,513.89L420.53,511.75ZM413.11,518.92L414.83,515.67L414.26,513.73L409.56,512.58L407.05,516.04L408.22,518.85ZM425.84,496.38L430.26,497.54L432.33,494.15L431.11,490.99L425.39,490.89ZM423.34,506.90L427.12,508.68L429.57,506.93L429.81,502.44L424.06,502.26L422.65,505.43ZM407.79,523.25L407.20,522.05L399.97,522.21L399.82,522.56L399.45,523.11L398.25,523.70L398.58,524.29L400.44,524.79L400.49,526.59L403.01,527.11L404.16,528.22L405.97,528.46ZM405.97,528.46L406.81,528.57L409.16,529.62L412.59,529.80L412.72,528.41L413.31,528.59L413.41,527.79L412.29,524.81L407.79,523.25ZM420.51,529.01L419.21,531.65L420.43,532.27L423.53,532.85L425.78,531.86L427.38,531.93L426.65,531.04L426.56,529.41L426.54,528.07ZM445.58,481.22L445.58,481.26L447.34,483.69L450.56,483.98L450.84,482.91L451.44,480.42L452.37,478.72L452.97,477.70L451.34,477.16L449.59,477.03L448.63,476.46ZM447.34,483.69L446.08,486.12L449.71,490.31L449.78,490.32L450.41,489.22L450.11,487.44L450.30,484.98L450.56,483.98ZM438.49,505.54L435.69,500.66L431.99,501.11L435.85,508.47ZM431.99,501.11L435.69,500.66L437.69,498.55L437.07,494.80L432.33,494.15L430.26,497.54L431.28,500.96ZM441.78,504.44L441.41,504.93L443.83,509.90L447.09,510.10L446.56,509.58L448.59,508.57L449.50,507.05L448.36,505.16L447.18,504.11ZM441.90,499.85L441.78,504.44L447.18,504.11L447.16,504.09L448.42,502.88L447.42,501.31L446.76,499.71L445.25,498.73L443.50,499.23L443.01,500.31L442.35,501.40L442.84,499.26L442.86,499.13ZM409.18,494.36L405.26,495.04L404.23,500.43L408.18,501.97L409.47,501.49L409.68,494.86ZM420.57,517.15L419.73,517.55L417.90,521.83L419.57,524.36L424.57,523.04L425.11,520.60ZM413.11,518.92L414.56,521.49L417.90,521.83L419.73,517.55L414.83,515.67ZM446.99,520.43L442.29,520.71L441.97,521.18L441.61,525.64L442.73,526.16L443.50,526.12L444.82,526.63L445.96,526.01L447.68,525.26L447.98,523.62L449.15,522.74ZM441.97,521.18L442.29,520.71L441.42,515.86L441.41,515.86L435.96,516.38L435.90,516.43L436.02,520.52ZM404.23,500.43L405.26,495.04L403.20,493.56L397.59,495.45L398.43,496.60L399.29,498.36L400.80,499.57L402.73,500.07L402.43,501.21ZM414.41,496.05L409.68,494.86L409.47,501.49L412.50,502.14L415.52,499.69ZM415.52,499.69L412.50,502.14L413.63,506.55L415.85,507.62L418.98,505.12L417.06,500.10ZM446.08,486.12L444.44,487.24L444.61,490.53L446.96,492.03L447.15,491.70L447.34,490.47L448.13,490.02L449.71,490.31ZM460.29,533.36L460.53,532.62L460.12,529.90L459.36,527.68L459.35,526.30L458.69,524.43L458.46,525.46L458.31,527.31L456.36,527.94L454.44,529.01L453.58,530.73L454.69,531.74L454.60,532.05Z" fill="#ea8204" stroke="#dc7a08" stroke-width="0.25" stroke-linejoin="round"/><path d="M590.98,504.44L591.10,499.85L586.89,498.55L584.89,500.66L587.69,505.54L590.61,504.93ZM576.65,478.24L580.37,475.29L579.84,469.63L574.77,471.06L574.02,472.57L575.03,477.10L575.81,477.92ZM571.92,498.69L573.26,502.26L579.01,502.44L580.48,500.96L579.46,497.54L575.04,496.38ZM596.19,520.43L597.15,515.48L590.62,515.86L591.49,520.71ZM597.15,515.48L597.55,515.09L597.82,513.22L598.48,512.77L596.48,510.28L596.29,510.10L593.03,509.90L590.70,511.97L590.61,515.86L590.62,515.86ZM597.15,515.48L596.19,520.43L598.35,522.74L598.36,522.73L598.84,522.13L599.54,521.28L600.21,520.83L601.06,520.45L601.66,520.00L602.41,518.40L602.58,517.57L600.42,517.31L598.34,516.62L597.55,515.11L597.55,515.09ZM585.16,516.38L585.60,509.69L584.94,508.72L583.59,508.96L580.27,513.11L581.44,515.87L585.10,516.43ZM579.84,469.63L580.37,475.29L584.03,476.89L587.30,474.07L586.18,472.62L584.07,471.87L583.74,470.25L584.10,469.02L583.19,469.45L581.94,470.71L580.38,470.50L580.60,468.72ZM569.71,529.01L568.71,524.57L562.61,527.79L562.51,528.59L563.69,528.94L566.35,530.61L568.02,531.44L568.41,531.65ZM577.14,484.26L581.83,488.15L582.97,487.61L584.51,481.73L584.17,481.37L578.23,481.29ZM573.77,523.04L568.77,524.36L568.71,524.57L569.71,529.01L575.74,528.07L575.73,527.95L576.06,526.72L576.23,526.46ZM576.87,518.75L574.99,513.65L571.05,513.89L569.77,517.15L574.31,520.60ZM591.17,521.18L585.22,520.52L583.29,523.42L583.30,523.43L584.68,524.29L586.26,524.33L587.44,524.45L588.89,524.16L589.34,524.87L590.30,525.41L590.81,525.64ZM558.67,501.49L557.38,501.97L556.18,508.04L557.94,509.24L562.83,506.55L561.70,502.14ZM551.63,501.21L551.61,501.28L552.39,502.94L551.51,504.12L551.21,504.92L552.42,505.63L553.94,507.48L554.21,508.13L556.18,508.04L557.38,501.97L553.43,500.43ZM554.05,508.14L552.24,506.11L551.60,508.20L551.60,508.25ZM570.85,498.32L571.92,498.69L575.04,496.38L574.59,490.89L574.19,490.54L569.81,491.27L568.60,492.86ZM565.05,507.62L565.94,510.71L569.73,511.75L572.54,506.90L571.85,505.43L568.18,505.12ZM586.27,494.80L588.62,492.32L587.66,489.36L582.97,487.61L581.83,488.15L580.31,490.99L581.53,494.15ZM540.37,484.53L546.13,484.53L547.86,480.72L546.36,480.40L545.11,480.98L544.00,481.72L543.25,480.85L542.54,479.17L540.44,478.77L539.70,479.61L539.55,479.60ZM568.18,505.12L571.85,505.43L573.26,502.26L571.92,498.69L570.85,498.32L566.26,500.10ZM562.83,506.55L557.94,509.24L558.76,512.58L563.46,513.73L565.94,510.71L565.05,507.62ZM593.81,490.53L589.03,492.42L593.04,496.33L593.81,494.69L595.37,493.39L596.16,492.03ZM585.16,516.38L590.61,515.86L590.70,511.97L585.60,509.69ZM567.14,475.47L560.52,475.43L560.44,478.26L562.88,481.20L565.44,480.39L567.06,477.53ZM565.44,480.39L562.88,481.20L562.11,484.07L563.66,486.76L567.48,486.61L568.61,485.23L568.18,482.62ZM540.37,484.53L539.55,479.60L537.58,479.36L535.59,479.68L534.22,480.13L533.20,480.86L533.15,482.24L534.88,481.99L535.63,482.71L534.29,482.75L533.88,483.12L534.49,483.67L535.52,484.33L534.32,484.47L533.17,484.61L534.91,485.25L534.96,486.73L536.45,486.36L537.42,486.45L538.91,487.13ZM585.22,520.52L585.10,516.43L581.44,515.87L578.55,518.84L581.55,522.88L581.94,522.81L583.29,523.42ZM567.10,521.83L563.76,521.49L561.49,524.81L562.61,527.79L568.71,524.57L568.77,524.36ZM556.40,522.05L556.99,523.25L561.49,524.81L563.76,521.49L562.31,518.92L557.42,518.85ZM556.25,516.04L558.76,512.58L557.94,509.24L556.18,508.04L554.21,508.13L554.85,509.72L554.20,508.31L554.05,508.14L551.60,508.25L551.28,511.03L550.91,513.37L551.77,513.49L550.88,514.27L550.78,515.03ZM578.55,518.84L576.87,518.75L574.31,520.60L573.77,523.04L576.23,526.46L576.80,525.58L578.08,525.07L579.52,524.07L580.95,522.99L581.55,522.88ZM570.85,498.32L568.60,492.86L565.69,493.35L563.61,496.05L564.72,499.69L566.26,500.10ZM585.60,509.69L590.70,511.97L593.03,509.90L590.61,504.93L587.69,505.54L585.05,508.47L584.94,508.72ZM589.03,492.42L588.62,492.32L586.27,494.80L586.89,498.55L591.10,499.85L592.06,499.13L592.24,498.03L593.04,496.33ZM556.40,522.05L557.42,518.85L556.25,516.04L550.78,515.03L550.50,517.10L549.95,519.51L549.47,521.53L549.17,522.21ZM569.81,491.27L567.48,486.61L563.66,486.76L562.57,489.10L565.69,493.35L568.60,492.86ZM583.59,508.96L584.94,508.72L585.05,508.47L581.19,501.11L580.48,500.96L579.01,502.44L578.77,506.93ZM576.32,508.68L576.55,511.93L580.27,513.11L583.59,508.96L578.77,506.93ZM552.40,493.56L552.30,488.40L552.27,488.38L547.27,487.98L544.62,491.39L544.57,491.61L546.47,491.89L546.68,493.13L547.31,493.73L546.07,494.47L546.79,495.45ZM568.61,485.23L567.48,486.61L569.81,491.27L574.19,490.54L574.45,485.73L573.11,484.94ZM565.94,510.71L563.46,513.73L564.03,515.67L568.93,517.55L569.77,517.15L571.05,513.89L569.73,511.75ZM562.31,518.92L564.03,515.67L563.46,513.73L558.76,512.58L556.25,516.04L557.42,518.85ZM580.27,513.11L576.55,511.93L574.99,513.65L576.87,518.75L578.55,518.84L581.44,515.87ZM554.30,475.18L553.55,475.00L552.60,475.20L552.18,473.63L552.27,472.50L550.39,472.73L548.74,472.07L549.15,473.48L549.35,474.95L550.30,477.61L550.39,479.33L551.24,480.84L550.65,481.05L548.86,480.39L548.35,480.58L552.58,481.82L554.53,480.99ZM578.23,481.29L584.17,481.37L584.03,476.89L580.37,475.29L576.65,478.24ZM587.66,489.36L589.90,486.14L589.37,483.06L588.15,482.08L584.51,481.73L582.97,487.61ZM594.78,481.26L594.78,481.22L590.32,476.11L588.15,482.08L589.37,483.06ZM588.15,482.08L590.32,476.11L590.10,474.07L589.21,473.72L587.41,474.20L587.30,474.07L584.03,476.89L584.17,481.37L584.51,481.73ZM547.27,487.98L546.13,484.53L540.37,484.53L538.91,487.13L539.37,487.33L540.30,487.97L541.60,489.05L541.50,489.85L542.51,489.36L543.57,489.84L544.90,490.33L544.62,491.39ZM597.83,476.46L597.68,476.37L595.87,476.89L594.78,476.30L593.94,475.53L593.09,474.60L592.12,474.24L590.71,474.31L590.10,474.07L590.32,476.11L594.78,481.22ZM575.04,496.38L579.46,497.54L581.53,494.15L580.31,490.99L574.59,490.89ZM575.03,477.10L574.02,472.57L568.01,473.67L567.70,474.76L571.95,477.26ZM558.03,484.41L562.11,484.07L562.88,481.20L560.44,478.26L555.19,481.14ZM572.75,468.58L573.47,464.49L572.36,463.75L571.97,461.55L571.07,461.87L568.79,462.44L567.06,463.32L567.21,464.54L567.01,466.17L566.91,467.55L567.32,468.62L567.29,468.63ZM556.99,523.25L556.40,522.05L549.17,522.21L549.02,522.56L548.65,523.11L547.45,523.70L547.78,524.29L549.64,524.79L549.69,526.59L552.21,527.11L553.36,528.22L555.17,528.46ZM555.17,528.46L556.01,528.57L558.36,529.62L561.79,529.80L561.92,528.41L562.51,528.59L562.61,527.79L561.49,524.81L556.99,523.25ZM569.71,529.01L568.41,531.65L569.63,532.27L572.73,532.85L574.98,531.86L576.58,531.93L575.85,531.04L575.76,529.41L575.74,528.07ZM594.78,481.22L594.78,481.26L596.54,483.69L599.76,483.98L600.04,482.91L600.64,480.42L601.57,478.72L602.17,477.70L600.54,477.16L598.79,477.03L597.83,476.46ZM596.54,483.69L595.28,486.12L598.91,490.31L598.98,490.32L599.61,489.22L599.31,487.44L599.50,484.98L599.76,483.98ZM587.69,505.54L584.89,500.66L581.19,501.11L585.05,508.47ZM593.81,490.53L593.64,487.24L589.90,486.14L587.66,489.36L588.62,492.32L589.03,492.42ZM581.19,501.11L584.89,500.66L586.89,498.55L586.27,494.80L581.53,494.15L579.46,497.54L580.48,500.96ZM562.11,484.07L558.03,484.41L556.55,488.14L559.18,490.63L562.57,489.10L563.66,486.76ZM590.98,504.44L590.61,504.93L593.03,509.90L596.29,510.10L595.76,509.58L597.79,508.57L598.70,507.05L597.56,505.16L596.38,504.11ZM591.10,499.85L590.98,504.44L596.38,504.11L596.36,504.09L597.62,502.88L596.62,501.31L595.96,499.71L594.45,498.73L592.70,499.23L592.21,500.31L591.55,501.40L592.04,499.26L592.06,499.13ZM573.79,479.86L572.49,482.13L573.11,484.94L574.45,485.73L577.14,484.26L578.23,481.29L576.65,478.24L575.81,477.92ZM569.29,479.06L567.06,477.53L565.44,480.39L568.18,482.62L569.75,481.27ZM568.01,473.67L574.02,472.57L574.77,471.06L572.75,468.58L567.29,468.63L566.65,468.94L566.43,469.25ZM569.77,517.15L568.93,517.55L567.10,521.83L568.77,524.36L573.77,523.04L574.31,520.60ZM562.31,518.92L563.76,521.49L567.10,521.83L568.93,517.55L564.03,515.67ZM596.19,520.43L591.49,520.71L591.17,521.18L590.81,525.64L591.93,526.16L592.70,526.12L594.02,526.63L595.16,526.01L596.88,525.26L597.18,523.62L598.35,522.74ZM591.17,521.18L591.49,520.71L590.62,515.86L590.61,515.86L585.16,516.38L585.10,516.43L585.22,520.52ZM564.72,499.69L561.70,502.14L562.83,506.55L565.05,507.62L568.18,505.12L566.26,500.10ZM594.78,481.26L589.37,483.06L589.90,486.14L593.64,487.24L595.28,486.12L596.54,483.69ZM574.19,490.54L574.59,490.89L580.31,490.99L581.83,488.15L577.14,484.26L574.45,485.73ZM595.28,486.12L593.64,487.24L593.81,490.53L596.16,492.03L596.35,491.70L596.54,490.47L597.33,490.02L598.91,490.31ZM572.49,482.13L570.64,481.21L569.75,481.27L568.18,482.62L568.61,485.23L573.11,484.94ZM603.80,532.05L603.38,533.61L604.84,534.69L603.50,534.98L604.68,536.72L605.15,538.06L606.93,538.83L608.16,539.46L608.84,537.29L608.95,534.98L609.49,533.36ZM609.49,533.36L609.73,532.62L609.32,529.90L608.56,527.68L608.55,526.30L607.89,524.43L607.66,525.46L607.51,527.31L605.56,527.94L603.64,529.01L602.78,530.73L603.89,531.74L603.80,532.05Z" fill="#e4e6ee" stroke="#cbcfda" stroke-width="0.3" stroke-linejoin="round"/><path d="M554.53,480.99L555.19,481.14L560.44,478.26L560.52,475.43L560.18,474.86L559.95,474.99L559.15,475.45L557.46,475.97L555.64,475.49L554.30,475.18ZM559.45,473.66L559.17,474.31L560.04,474.63ZM569.73,511.75L571.05,513.89L574.99,513.65L576.55,511.93L576.32,508.68L572.54,506.90ZM548.35,480.58L547.94,480.74L547.86,480.72L546.13,484.53L547.27,487.98L552.27,488.38L552.58,481.82ZM562.57,489.10L559.18,490.63L558.38,494.36L558.88,494.86L563.61,496.05L565.69,493.35ZM552.40,493.56L554.46,495.04L558.38,494.36L559.18,490.63L556.55,488.14L552.30,488.40ZM552.58,481.82L552.27,488.38L552.30,488.40L556.55,488.14L558.03,484.41L555.19,481.14L554.53,480.99ZM580.60,468.72L580.71,467.89L579.25,467.51L577.98,467.94L577.69,466.72L575.78,466.17L575.07,463.98L573.80,464.72L573.47,464.49L572.75,468.58L574.77,471.06L579.84,469.63ZM572.54,506.90L576.32,508.68L578.77,506.93L579.01,502.44L573.26,502.26L571.85,505.43ZM570.69,478.77L570.91,480.59L571.73,479.79L570.90,478.65ZM566.43,469.25L566.03,469.82L564.47,470.94L562.60,471.39L560.77,472.16L559.88,472.63L559.45,473.66L560.04,474.63L560.37,474.76L560.18,474.86L560.52,475.43L567.14,475.47L567.70,474.76L568.01,473.67ZM558.38,494.36L554.46,495.04L553.43,500.43L557.38,501.97L558.67,501.49L558.88,494.86ZM553.43,500.43L554.46,495.04L552.40,493.56L546.79,495.45L547.63,496.60L548.49,498.36L550.00,499.57L551.93,500.07L551.63,501.21ZM563.61,496.05L558.88,494.86L558.67,501.49L561.70,502.14L564.72,499.69ZM569.29,479.06L569.75,481.27L570.64,481.21L570.91,480.59L570.69,478.77ZM571.73,479.79L573.79,479.86L575.81,477.92L575.03,477.10L571.95,477.26L570.90,478.65ZM570.91,480.59L570.64,481.21L572.49,482.13L573.79,479.86L571.73,479.79ZM571.95,477.26L567.70,474.76L567.14,475.47L567.06,477.53L569.29,479.06L570.69,478.77L570.90,478.65Z" fill="#ea8204" stroke="#dc7a08" stroke-width="0.25" stroke-linejoin="round"/><path d="M325.8,697.5L326.6,697.2L327.2,696.9L327.8,696.4L328.4,695.8L329.1,694.9L329.8,693.9L330.6,692.8L331.6,691.7L332.7,690.7L333.9,689.9L335.1,689.2L336.3,688.7L337.3,688.1L337.5,686.5L337.2,685.1L336.7,684.0L336.2,683.2L335.8,682.4L335.6,681.5L335.4,680.4L335.2,679.1L335.0,677.8L334.8,676.5L334.7,675.4L334.8,674.5L335.0,673.6L335.2,672.7L335.1,671.5L333.6,671.9L332.2,672.2L330.9,672.2L329.8,672.2L328.9,672.3L327.9,672.5L326.9,673.0L325.8,673.6L324.5,674.3L323.2,675.0L322.0,675.5L320.8,675.9L319.9,676.0L319.0,676.0L318.1,676.6L317.3,677.2L316.6,677.8L316.1,678.4L315.7,679.1L315.9,680.3L316.2,681.7L316.7,683.3L317.2,684.9L317.9,686.2L318.6,687.3L319.2,688.2L319.6,689.0L319.6,689.9L319.2,690.8L318.6,691.9L318.0,693.0L317.8,694.1L318.7,694.7L320.0,695.4L321.6,696.1L323.2,696.5L324.6,697.0ZM335.1,671.5L335.2,672.7L335.0,673.6L334.8,674.5L334.7,675.4L334.8,676.5L335.0,677.8L335.2,679.1L335.4,680.4L335.6,681.5L335.8,682.4L336.2,683.2L336.7,684.0L337.2,685.1L337.5,686.5L337.3,688.1L337.8,689.2L338.1,690.0L338.5,690.3L339.1,690.2L340.0,690.0L341.2,689.8L342.6,689.9L344.1,690.4L345.4,691.3L346.6,692.3L347.6,693.3L348.2,692.7L348.8,691.9L349.6,691.1L350.5,690.3L351.4,689.4L352.5,688.6L353.5,687.8L354.6,687.2L355.6,686.6L356.5,686.0L357.3,685.5L358.0,684.9L357.2,683.6L356.4,682.3L355.7,681.3L355.1,680.6L354.5,679.9L353.3,679.8L352.0,679.6L350.8,679.2L349.7,678.8L348.7,678.3L347.8,677.9L347.7,676.7L347.5,675.5L347.4,674.4L347.3,673.5L347.4,672.7L347.9,672.0L348.2,671.2L348.4,670.3L348.5,669.3L347.8,670.0L347.0,670.7L346.0,671.2L345.1,671.9L344.1,672.4L343.0,672.8L341.8,673.2L340.6,673.7L339.7,673.4L338.9,673.1L338.1,673.1L337.4,673.2L336.5,673.4L337.0,672.5L337.4,671.5L337.5,670.3L337.4,669.1L337.1,667.7L336.8,668.7L336.3,669.7L335.7,670.6ZM325.7,716.3L326.3,716.9L327.0,717.7L327.8,718.6L328.7,719.6L329.9,720.8L331.1,722.1L332.4,723.2L333.6,724.1L334.6,724.7L335.5,725.0L336.3,725.2L336.9,725.5L337.6,726.0L338.4,726.7L339.2,727.7L340.2,729.0L341.1,729.2L342.0,729.3L342.9,729.3L343.9,729.0L344.6,727.5L345.3,725.9L345.8,724.1L345.8,722.5L345.6,721.1L345.2,719.9L345.1,718.8L345.2,717.8L345.6,716.6L346.2,715.3L346.8,714.0L347.4,712.7L348.0,711.5L348.5,710.4L349.0,709.4L349.6,708.5L349.1,707.9L348.5,707.3L347.3,707.3L346.1,707.3L344.7,707.4L343.3,707.5L341.7,707.7L340.2,707.7L338.8,707.6L337.7,707.4L336.8,707.1L336.2,706.9L335.5,706.7L334.8,706.7L333.7,706.8L332.4,707.0L330.9,707.2L329.5,707.2L329.4,708.4L329.1,709.5L328.7,710.5L328.2,711.5L327.7,712.5L327.2,713.3L326.7,714.2L326.2,715.2ZM248.2,770.3L248.1,770.4L248.2,771.3L248.0,771.9L248.0,772.6L248.2,773.3L248.8,774.4L248.3,775.0L247.8,775.8L247.4,776.8L246.8,777.8L246.7,778.8L246.6,779.7L246.3,780.5L247.5,780.9L248.3,781.4L248.9,782.2L249.2,783.0L249.3,784.0L249.6,785.1L250.2,786.1L251.0,786.9L252.1,787.6L253.2,788.2L254.4,788.7L255.1,789.4L255.8,790.3L256.9,790.5L257.6,790.7L258.2,790.8L258.7,790.7L259.1,790.6L259.7,790.3L260.0,789.4L260.5,788.5L261.1,787.7L261.8,786.8L262.3,785.6L262.7,784.4L263.0,783.0L263.2,781.7L263.4,780.5L263.5,779.6L263.6,778.9L263.5,778.2L263.3,777.4L263.1,776.5L263.0,775.2L263.2,773.6L263.8,771.9L262.8,771.6L261.9,771.3L261.3,771.0L260.8,770.6L260.2,770.2L259.4,769.7L258.4,769.1L257.1,768.6L255.7,768.2L254.2,767.9L252.8,767.7L251.7,767.6L251.0,768.5L250.5,769.2L250.0,769.7L249.5,770.0L248.9,770.1ZM255.3,790.2L254.2,789.5L253.0,789.0L251.9,788.6L250.8,788.2L250.0,787.6L249.4,786.7L249.0,785.7L248.7,784.5L248.5,785.8L248.2,787.1L247.8,788.3L247.3,789.5L246.7,790.6L246.2,791.7L246.2,791.8L247.3,791.6L248.4,791.3L249.6,790.8L250.9,790.4L252.4,790.2L253.9,790.1ZM212.7,717.1L213.7,717.1L214.6,717.1L215.5,717.1L216.6,717.3L217.8,717.5L219.3,717.8L220.8,718.0L222.1,718.2L223.2,718.3L224.1,718.2L224.9,718.0L225.8,717.8L226.9,717.7L228.3,717.6L229.9,717.7L230.3,716.8L230.6,715.7L230.7,714.3L230.9,712.8L231.4,711.3L232.1,709.9L232.9,708.7L233.9,707.6L234.7,706.7L235.4,705.9L235.9,705.1L235.0,704.5L233.9,704.4L232.3,704.6L230.5,705.0L229.3,705.9L228.1,706.7L227.2,707.1L226.4,707.3L225.9,707.5L225.5,707.6L224.9,707.8L224.2,708.1L223.0,707.0L221.8,706.1L220.7,705.2L220.0,704.2L219.5,703.3L219.2,702.6L219.0,702.0L218.6,701.5L217.4,701.7L216.3,701.4L215.2,700.7L214.1,699.9L213.0,699.2L211.8,698.7L211.1,699.6L210.3,700.5L209.4,701.5L208.9,701.7L208.9,702.3L209.0,703.1L209.4,704.1L209.9,705.3L210.5,706.9L211.0,708.4L211.3,709.9L211.2,711.1L211.0,712.2L210.8,713.1L210.8,713.9L211.2,714.9L211.9,716.0ZM297.9,781.7L298.8,781.7L299.7,781.6L300.9,781.4L302.3,781.3L303.9,781.3L305.6,781.4L307.0,781.7L308.2,782.1L309.1,782.4L309.7,782.7L310.6,781.4L311.3,780.1L311.9,779.0L312.2,778.1L312.5,777.3L312.7,776.6L312.9,776.0L313.2,775.2L313.5,774.4L313.8,773.4L313.0,771.8L312.1,770.1L311.5,768.5L311.2,767.1L311.2,766.0L311.6,765.2L312.0,764.3L312.0,763.5L311.7,762.5L310.9,761.4L309.6,761.6L308.1,761.6L306.4,761.4L305.1,761.7L303.7,761.6L302.6,761.4L301.5,761.2L300.6,761.2L299.7,761.6L298.8,762.4L297.9,763.4L296.9,764.5L295.9,765.4L294.9,766.0L294.1,766.3L293.3,766.3L293.0,768.0L292.6,769.4L292.4,770.5L292.7,771.2L293.5,771.8L294.6,772.4L295.7,773.2L296.5,774.3L296.9,775.6L297.1,776.9L297.2,778.1L297.3,779.3L297.5,780.4ZM295.8,689.5L294.7,689.7L293.5,689.6L292.1,689.2L290.7,688.7L289.4,688.2L288.2,687.9L287.0,687.9L285.8,688.2L284.5,688.6L283.1,689.0L281.6,689.2L280.3,689.1L279.1,688.8L278.3,688.4L277.6,688.1L277.0,688.0L276.3,688.1L275.4,688.4L275.5,689.3L275.6,690.4L275.6,691.7L275.4,693.0L275.0,694.3L274.4,695.5L273.7,696.7L273.2,697.8L274.0,698.5L275.1,699.2L276.4,700.0L277.6,701.0L278.7,702.1L279.3,703.3L279.7,704.4L279.8,705.5L280.0,706.6L280.5,707.7L281.8,707.7L283.1,707.4L284.4,706.8L285.7,705.9L287.1,704.9L288.6,704.1L290.3,703.5L291.2,702.5L291.9,701.7L292.3,700.9L292.4,700.1L292.4,699.3L292.5,698.4L292.7,697.5L293.2,696.5L294.1,695.4L294.6,694.4L295.2,693.5L295.7,692.6L296.0,691.7L296.0,690.6ZM290.3,703.5L288.6,704.1L287.1,704.9L285.7,705.9L284.4,706.8L283.1,707.4L281.8,707.7L280.5,707.7L280.2,708.5L280.3,709.4L280.6,710.4L280.9,711.5L281.0,712.6L280.8,713.7L280.4,714.7L279.7,715.7L280.3,716.6L280.8,717.4L281.3,718.3L281.7,719.3L282.0,720.2L282.3,721.1L282.5,722.0L282.9,722.8L283.4,723.6L284.4,724.0L285.6,724.5L287.0,724.9L288.6,724.9L290.2,724.6L291.6,723.9L292.8,723.2L293.7,722.7L294.4,722.5L295.2,722.7L295.9,722.0L296.7,721.4L297.5,720.9L298.3,720.3L299.2,719.7L299.3,718.6L299.3,717.3L299.1,715.9L298.9,714.6L298.8,713.5L298.6,712.6L298.2,711.7L297.0,711.5L295.9,711.2L295.1,710.7L294.4,710.0L293.9,709.0L293.4,707.7L292.9,706.4L292.2,705.2L291.3,704.2ZM212.7,717.1L211.9,716.0L211.2,714.9L210.8,713.9L210.8,713.1L211.0,712.2L211.2,711.1L211.3,709.9L211.0,708.4L210.5,706.9L209.9,705.3L209.4,704.1L209.0,703.1L208.9,702.3L208.9,701.7L207.9,702.3L207.1,702.7L206.4,702.8L205.8,702.6L205.0,702.1L204.0,701.3L202.8,700.9L201.4,700.7L200.0,700.8L198.6,701.3L197.4,702.0L196.4,702.8L195.6,703.8L194.8,704.4L194.1,704.7L193.3,704.8L192.5,705.1L191.7,705.3L190.8,705.5L189.9,705.8L189.8,706.6L189.7,707.3L189.7,708.1L189.5,709.0L190.8,709.0L192.1,709.2L193.3,709.4L194.4,709.5L195.3,709.5L196.2,710.1L197.0,710.9L197.8,711.6L196.7,711.6L195.6,711.6L194.6,711.5L193.5,711.3L192.6,711.8L191.6,712.3L192.2,712.9L192.7,713.5L193.2,714.0L193.9,714.5L194.5,715.0L195.2,715.5L195.9,716.0L195.1,716.1L194.4,716.1L193.8,716.2L193.0,716.2L191.9,716.5L190.6,716.9L189.0,717.4L190.8,717.5L192.4,717.7L193.7,718.1L194.6,718.7L195.3,719.4L195.4,721.0L195.2,722.6L194.8,723.9L194.4,724.9L195.5,724.8L196.7,724.6L198.2,724.2L199.7,723.8L200.9,723.7L202.1,723.5L203.0,723.4L203.8,723.7L204.4,724.1L205.0,724.5L205.6,725.0L206.4,725.4L207.1,724.4L208.0,723.3L209.1,722.3L210.3,721.3L211.3,720.3L212.1,719.3L212.5,718.2ZM303.5,738.8L302.9,737.7L302.1,736.5L301.3,735.3L300.7,734.1L300.2,733.1L299.9,732.3L299.8,731.7L299.6,731.1L299.2,730.2L298.5,729.1L297.5,727.6L296.5,725.9L295.7,724.2L295.2,722.7L294.4,722.5L293.7,722.7L292.8,723.2L291.6,723.9L290.2,724.6L288.6,724.9L287.0,724.9L285.6,724.5L284.4,724.0L283.4,723.6L283.3,724.3L283.4,725.0L283.5,726.0L283.5,727.3L283.2,728.7L282.5,730.3L281.4,731.9L281.6,732.9L281.8,733.8L282.2,734.6L282.9,735.3L283.8,736.2L284.7,737.1L285.6,738.1L286.3,739.2L286.9,740.3L287.4,741.3L287.9,742.1L288.6,742.8L289.5,743.5L290.5,744.3L291.5,744.1L292.3,743.8L293.2,743.4L294.2,743.1L295.4,743.0L296.8,743.0L298.3,743.1L299.8,743.3L300.6,742.8L301.3,742.1L302.0,741.5L302.6,740.7L303.1,739.8ZM249.3,744.7L249.9,743.7L250.4,742.9L250.6,742.2L250.4,741.4L250.0,740.3L249.5,739.0L249.1,737.4L249.0,735.8L249.0,734.2L249.0,732.9L248.9,731.9L248.7,730.9L248.4,730.0L248.3,729.0L248.2,728.9L246.8,728.9L245.7,728.9L244.8,728.9L244.0,728.7L243.1,728.4L242.0,728.0L240.7,727.5L239.1,727.2L237.4,727.0L235.9,727.1L234.6,727.2L233.7,727.3L232.9,727.3L232.5,728.2L232.1,729.2L231.7,730.3L231.2,731.3L230.6,732.4L229.8,733.5L229.0,734.5L228.0,735.5L227.0,736.4L226.0,737.4L225.1,738.3L224.4,739.2L224.2,739.8L225.2,739.3L226.3,738.8L227.6,738.6L228.9,738.8L230.2,739.5L230.8,740.7L231.5,742.1L232.2,743.4L232.7,744.6L233.3,745.5L233.8,746.2L234.1,746.8L233.2,747.2L232.4,747.5L231.4,747.7L230.2,748.0L230.6,748.9L230.9,749.8L231.2,750.7L231.5,751.6L232.3,751.2L233.2,750.8L234.4,750.3L235.6,749.8L236.9,749.3L238.2,748.8L239.3,748.4L240.3,748.2L241.1,748.0L241.9,747.8L242.8,747.6L243.8,747.3L245.0,746.8L246.4,746.1L247.9,745.4ZM299.2,719.7L298.3,720.3L297.5,720.9L296.7,721.4L295.9,722.0L295.2,722.7L295.7,724.2L296.5,725.9L297.5,727.6L298.5,729.1L299.2,730.2L299.6,731.1L299.8,731.7L299.9,732.3L300.2,733.1L300.7,734.1L301.3,735.3L302.1,736.5L302.9,737.7L303.5,738.8L304.5,738.4L305.6,738.1L306.9,737.8L308.3,737.7L309.9,737.6L311.3,737.5L312.6,737.3L313.6,736.9L314.4,736.5L315.2,736.2L316.1,735.9L317.1,735.8L317.3,734.9L317.2,733.7L317.0,732.3L316.8,730.7L316.9,729.1L317.1,727.5L317.4,726.3L317.5,725.3L317.4,724.4L317.1,723.6L316.8,722.6L316.6,721.6L316.7,720.6L316.0,720.0L315.6,719.7L315.3,719.6L315.0,719.5L314.6,719.3L313.6,719.5L312.2,719.5L310.6,719.2L308.9,718.9L307.2,718.6L305.7,718.5L304.5,718.6L303.4,719.0L302.4,719.4L301.3,719.7L300.3,719.8ZM336.6,807.0L335.9,806.9L334.9,806.5L333.6,805.8L332.1,804.8L330.6,803.8L329.2,803.0L328.1,802.6L327.1,802.5L326.3,802.7L325.5,803.1L324.7,803.3L323.7,804.0L322.8,804.8L321.8,805.5L320.9,806.1L320.0,806.8L319.2,807.4L318.5,808.1L318.5,809.6L318.8,811.0L319.4,812.0L320.4,812.8L321.5,813.5L322.6,814.2L323.4,815.1L323.8,816.2L323.9,817.5L323.7,818.9L323.6,820.1L323.7,821.3L324.2,822.3L324.9,823.3L325.6,824.5L326.5,825.0L327.6,825.4L328.7,825.5L330.0,825.4L331.4,825.1L332.3,823.7L333.1,822.4L333.7,821.1L334.2,820.1L334.7,819.3L335.2,818.6L335.9,818.1L336.8,817.6L337.9,817.0L339.1,816.4L340.3,815.6L339.8,814.1L338.9,812.5L337.9,811.1L337.0,810.0L336.5,809.2L336.4,808.5L336.5,807.8ZM255.6,687.4L254.1,686.9L252.4,686.6L251.1,686.9L250.0,687.3L249.0,687.7L248.5,686.6L248.1,685.7L247.9,684.9L247.9,684.3L248.1,683.6L248.9,682.7L249.7,681.5L250.2,680.0L249.0,680.1L247.8,680.1L246.4,680.0L244.8,680.0L243.2,680.0L241.9,679.5L240.6,679.1L239.6,678.8L238.7,678.4L237.9,678.1L238.3,679.1L238.5,680.2L238.5,681.4L238.5,682.7L238.5,683.8L238.7,684.9L239.1,685.9L239.6,687.0L240.3,688.1L240.8,689.4L241.2,690.9L241.5,692.4L241.8,693.8L242.2,694.8L242.7,695.6L243.1,696.1L243.1,696.7L243.0,697.4L242.8,698.3L242.5,699.3L242.4,700.4L243.0,701.1L243.8,701.8L244.8,702.5L245.9,703.2L246.8,704.3L246.1,704.5L245.2,705.1L243.8,705.1L242.3,705.5L240.7,705.8L239.3,705.8L238.1,705.4L237.5,705.4L236.9,705.4L237.7,706.1L238.8,706.6L240.1,706.6L241.7,706.3L243.2,706.0L244.6,705.7L245.8,705.9L246.7,706.4L247.5,707.3L248.2,708.2L248.9,709.1L249.8,709.6L251.0,709.0L252.1,708.1L253.2,707.1L254.2,706.1L255.1,705.2L255.9,704.6L256.1,703.3L256.0,702.2L255.7,701.5L255.4,701.0L255.3,700.4L255.3,699.6L255.6,698.6L255.9,697.4L256.1,696.0L256.1,694.6L256.0,693.3L255.8,692.2L255.7,691.1L255.7,690.0L255.7,688.7ZM329.5,707.2L330.9,707.2L332.4,707.0L333.7,706.8L334.8,706.7L335.5,706.7L336.2,706.9L336.8,707.1L337.7,707.4L338.8,707.6L340.2,707.7L341.7,707.7L343.3,707.5L344.7,707.4L346.1,707.3L347.3,707.3L348.5,707.3L348.4,706.2L347.9,704.9L347.3,703.8L346.7,702.8L346.3,702.0L346.4,701.3L346.7,700.5L347.3,699.5L347.8,698.2L348.0,696.6L347.9,694.9L347.6,693.3L346.6,692.3L345.4,691.3L344.1,690.4L342.6,689.9L341.2,689.8L340.0,690.0L339.1,690.2L338.5,690.3L338.1,690.0L337.8,689.2L337.3,688.1L336.3,688.7L335.1,689.2L333.9,689.9L332.7,690.7L331.6,691.7L330.6,692.8L329.8,693.9L329.1,694.9L328.4,695.8L327.8,696.4L327.2,696.9L326.6,697.2L325.8,697.5L326.4,698.5L326.5,699.7L326.2,701.0L325.9,702.2L325.9,703.4L326.3,704.4L327.1,705.3L328.3,706.2ZM380.7,706.9L380.7,706.8L379.8,705.7L379.0,704.7L378.3,703.8L377.6,702.9L376.8,701.9L376.0,700.9L375.0,699.8L374.2,698.8L373.4,697.9L372.8,697.2L372.2,696.7L371.7,696.4L371.1,696.0L370.3,695.4L369.3,694.5L368.2,693.3L367.0,691.9L366.1,690.4L366.0,691.5L366.1,692.4L366.2,693.2L366.1,693.9L365.8,694.8L365.3,695.8L364.7,697.1L364.1,698.6L363.6,700.3L363.1,702.1L362.6,703.7L362.0,705.0L361.4,706.0L360.8,706.8L360.4,707.5L360.2,708.2L360.2,709.0L361.6,709.8L362.8,710.7L363.9,711.6L364.6,712.5L365.1,713.2L365.8,712.8L366.4,712.3L367.1,711.7L368.0,711.2L369.2,710.8L370.6,710.6L372.1,710.4L373.5,710.4L374.8,710.3L375.9,710.0L376.9,709.6L377.8,709.0L378.7,708.3L379.7,707.6ZM360.2,709.0L360.2,708.2L360.4,707.5L360.8,706.8L361.4,706.0L362.0,705.0L362.6,703.7L363.1,702.1L363.6,700.3L364.1,698.6L364.7,697.1L365.3,695.8L365.8,694.8L366.1,693.9L366.2,693.2L366.1,692.4L366.0,691.5L366.1,690.4L366.0,689.2L366.3,688.0L366.8,686.9L367.4,686.0L367.9,685.2L368.0,684.4L367.2,684.2L366.1,684.1L364.8,684.0L363.3,684.7L361.9,685.2L360.6,685.5L359.4,685.7L358.4,685.6L358.0,684.9L357.3,685.5L356.5,686.0L355.6,686.6L354.6,687.2L353.5,687.8L352.5,688.6L351.4,689.4L350.5,690.3L349.6,691.1L348.8,691.9L348.2,692.7L347.6,693.3L347.9,694.9L348.0,696.6L347.8,698.2L347.3,699.5L346.7,700.5L346.4,701.3L346.3,702.0L346.7,702.8L347.3,703.8L347.9,704.9L348.4,706.2L348.5,707.3L349.1,707.9L349.6,708.5L350.7,708.7L351.9,708.9L352.9,709.0L353.8,709.0L354.6,708.9L355.4,708.7L356.3,708.6L357.4,708.6L358.7,708.7ZM232.9,727.3L232.7,726.5L232.6,725.8L232.4,725.0L232.1,724.2L231.8,723.1L231.5,721.9L231.2,720.7L230.9,719.6L230.5,718.6L229.9,717.7L228.3,717.6L226.9,717.7L225.8,717.8L224.9,718.0L224.1,718.2L223.2,718.3L222.1,718.2L220.8,718.0L219.3,717.8L217.8,717.5L216.6,717.3L215.5,717.1L214.6,717.1L213.7,717.1L212.7,717.1L212.5,718.2L212.1,719.3L211.3,720.3L210.3,721.3L209.1,722.3L208.0,723.3L207.1,724.4L206.4,725.4L207.1,725.8L207.9,726.3L209.1,727.1L210.3,728.1L211.5,729.0L212.5,729.8L213.3,730.5L214.0,731.0L214.6,731.4L215.3,731.6L215.3,732.3L215.4,733.0L215.4,733.9L216.2,733.0L217.1,732.3L218.1,731.8L219.1,732.2L220.1,732.9L221.0,733.6L221.9,734.4L223.0,735.3L223.9,736.0L224.9,736.4L225.8,736.5L225.4,737.5L224.9,738.3L224.4,739.2L225.1,738.3L226.0,737.4L227.0,736.4L228.0,735.5L229.0,734.5L229.8,733.5L230.6,732.4L231.2,731.3L231.7,730.3L232.1,729.2L232.5,728.2ZM390.8,691.5L390.2,691.0L389.1,691.0L388.2,691.3L387.2,692.0L386.2,692.9L385.0,693.9L383.7,694.0L382.4,693.8L381.3,693.4L380.2,692.7L379.3,691.5L378.6,690.1L378.0,688.7L377.6,687.6L377.1,686.7L376.6,686.0L375.9,685.5L374.8,685.6L373.5,685.7L372.4,685.6L371.2,685.7L370.3,685.6L369.6,685.4L369.0,685.1L368.6,684.7L368.0,684.4L367.9,685.2L367.4,686.0L366.8,686.9L366.3,688.0L366.0,689.2L366.1,690.4L367.0,691.9L368.2,693.3L369.3,694.5L370.3,695.4L371.1,696.0L371.7,696.4L372.2,696.7L372.8,697.2L373.4,697.9L374.2,698.8L375.0,699.8L376.0,700.9L376.8,701.9L377.6,702.9L378.3,703.8L379.0,704.7L379.8,705.7L380.7,706.8L381.2,705.3L381.8,704.0L382.6,702.8L383.5,701.9L384.4,701.1L385.2,700.3L386.0,699.6L386.7,698.7L387.3,697.8L387.9,696.7L388.5,695.5L389.1,694.4L389.7,693.3L390.3,692.3ZM317.8,694.1L318.0,693.0L318.6,691.9L319.2,690.8L319.6,689.9L319.6,689.0L319.2,688.2L318.6,687.3L317.9,686.2L317.2,684.9L316.7,683.3L316.2,681.7L315.9,680.3L315.7,679.1L314.8,679.1L313.8,679.1L312.7,679.1L311.7,679.4L310.8,679.8L309.9,680.4L309.1,681.0L308.1,681.7L307.0,682.1L305.6,682.4L304.0,682.5L302.3,682.5L300.7,682.5L299.3,682.6L298.1,683.0L297.2,683.5L297.0,684.4L296.8,685.4L296.7,686.6L297.5,686.9L298.5,687.4L299.5,688.2L300.8,689.1L302.1,690.1L303.4,691.0L304.5,691.6L305.4,692.0L306.1,692.2L306.7,692.3L307.3,692.6L308.1,693.1L309.1,693.8L310.2,694.0L311.5,694.3L312.7,694.7L313.8,695.1L314.7,695.2L315.4,695.2L316.1,694.8L316.9,694.4ZM266.5,717.6L267.6,717.6L268.8,717.5L270.0,717.1L271.3,716.7L272.4,716.3L273.5,716.0L274.4,715.8L275.5,715.7L276.7,715.8L278.1,715.8L279.7,715.7L280.4,714.7L280.8,713.7L281.0,712.6L280.9,711.5L280.6,710.4L280.3,709.4L280.2,708.5L280.5,707.7L280.0,706.6L279.8,705.5L279.7,704.4L279.3,703.3L278.7,702.1L277.6,701.0L276.4,700.0L275.1,699.2L274.0,698.5L273.2,697.8L272.0,698.6L270.8,699.2L269.6,699.7L268.6,700.0L267.8,700.3L267.2,700.6L266.8,701.1L266.4,701.9L265.9,702.7L265.3,703.7L264.4,704.5L263.2,705.1L261.8,705.5L260.3,705.7L258.9,705.8L257.5,705.9L257.9,707.4L258.4,708.7L259.1,709.7L260.0,710.4L261.1,710.9L262.2,711.4L263.3,712.0L264.2,712.8L264.9,714.0L265.4,715.2L266.0,716.5ZM311.2,668.5L311.8,667.1L312.6,665.6L313.2,664.1L313.6,662.7L313.6,661.5L313.6,660.4L313.6,659.4L313.8,658.2L314.2,656.9L314.6,655.4L315.0,653.7L313.9,653.0L312.9,652.4L312.0,652.0L311.2,651.7L311.1,650.7L311.0,650.0L310.9,649.2L310.8,648.3L310.6,647.2L310.2,646.0L309.5,646.1L308.8,646.2L308.0,646.2L306.9,646.0L305.7,646.0L304.5,646.1L303.3,646.4L302.3,646.8L301.3,647.4L300.3,648.0L299.4,648.8L298.3,649.5L297.2,650.1L296.0,650.6L294.9,651.0L293.8,651.3L293.8,652.4L294.0,653.4L294.4,654.1L295.0,654.8L295.2,655.5L295.3,656.4L295.4,657.4L295.3,658.5L295.2,659.7L295.1,660.9L295.2,662.0L295.1,662.9L295.0,663.8L295.1,664.6L295.0,665.6L294.8,666.9L294.7,666.9L295.8,667.5L296.8,668.1L297.9,668.6L299.0,668.9L300.3,668.7L301.8,668.3L303.4,667.8L305.0,667.4L306.4,667.3L307.5,667.5L308.4,667.9L309.0,668.4L309.6,668.7L310.3,668.8ZM279.7,715.7L278.1,715.8L276.7,715.8L275.5,715.7L274.4,715.8L273.5,716.0L272.4,716.3L271.3,716.7L270.0,717.1L268.8,717.5L267.6,717.6L266.5,717.6L266.2,718.6L266.0,719.4L265.7,720.2L265.5,721.1L265.1,722.1L264.6,723.3L264.0,724.5L263.4,725.8L263.0,727.0L262.8,728.1L262.7,728.9L263.3,729.7L263.8,730.5L264.4,731.2L265.0,732.0L265.8,732.8L266.8,733.7L267.8,734.6L268.8,735.3L269.8,735.9L270.7,736.3L271.5,735.8L272.1,735.4L272.7,735.1L273.3,735.0L274.2,734.9L275.4,734.7L276.8,734.3L278.3,733.7L279.9,732.9L281.4,731.9L282.5,730.3L283.2,728.7L283.5,727.3L283.5,726.0L283.4,725.0L283.3,724.3L283.4,723.6L282.9,722.8L282.5,722.0L282.3,721.1L282.0,720.2L281.7,719.3L281.3,718.3L280.8,717.4L280.3,716.6ZM316.1,702.9L315.3,703.9L314.5,704.8L313.7,705.5L313.1,706.2L312.6,706.9L312.1,707.7L311.5,708.7L311.8,709.9L312.2,711.5L312.6,713.2L313.2,714.9L313.9,716.4L314.4,717.7L314.7,718.6L314.6,719.3L315.0,719.5L315.3,719.6L315.6,719.7L316.0,720.0L316.7,720.6L318.0,720.3L319.3,720.1L320.6,719.8L321.8,719.4L322.9,718.7L323.9,718.0L324.8,717.1L325.7,716.3L326.2,715.2L326.7,714.2L327.2,713.3L327.7,712.5L328.2,711.5L328.7,710.5L329.1,709.5L329.4,708.4L329.5,707.2L328.3,706.2L327.1,705.3L326.3,704.4L325.9,703.4L325.9,702.2L326.2,701.0L326.5,699.7L326.4,698.5L325.8,697.5L324.6,697.0L323.2,696.5L321.6,696.1L320.9,696.6L320.2,697.3L319.6,698.2L319.0,699.2L318.4,700.2L317.7,701.2L316.9,702.1ZM297.2,683.5L298.1,683.0L299.3,682.6L300.7,682.5L302.3,682.5L304.0,682.5L305.6,682.4L307.0,682.1L308.1,681.7L309.1,681.0L309.9,680.4L310.8,679.8L311.7,679.4L312.7,679.1L313.8,679.1L314.8,679.1L315.7,679.1L316.1,678.4L316.6,677.8L317.3,677.2L318.1,676.6L319.0,676.0L319.2,674.8L319.1,673.5L318.5,672.2L317.5,671.1L316.1,670.3L314.5,669.8L313.0,669.4L311.9,669.0L311.2,668.5L310.3,668.8L309.6,668.7L309.0,668.4L308.4,667.9L307.5,667.5L306.4,667.3L305.0,667.4L303.4,667.8L301.8,668.3L300.3,668.7L299.0,668.9L297.9,668.6L296.8,668.1L295.8,667.5L294.7,666.9L293.5,667.1L292.4,667.5L291.6,668.6L292.1,669.6L293.0,670.6L294.1,671.5L295.3,672.5L296.1,673.6L296.6,674.9L296.7,676.5L296.5,678.2L296.4,679.8L296.4,681.2L296.6,682.2L296.9,682.9ZM366.4,722.8L367.5,723.3L368.6,723.6L369.5,723.6L370.5,723.4L371.3,723.2L372.0,723.2L372.7,723.4L373.5,723.9L374.3,724.6L375.3,725.3L376.6,725.9L377.7,725.4L378.8,724.7L379.9,723.9L381.0,723.1L382.1,722.3L383.1,721.7L383.6,720.9L384.1,720.1L384.4,719.4L384.7,718.7L384.9,718.0L385.1,717.2L385.5,716.3L386.0,715.4L385.7,714.3L385.4,713.3L385.1,712.3L384.6,711.3L383.8,710.3L382.8,709.3L381.8,708.1L380.7,706.9L379.7,707.6L378.7,708.3L377.8,709.0L376.9,709.6L375.9,710.0L374.8,710.3L373.5,710.4L372.1,710.4L370.6,710.6L369.2,710.8L368.0,711.2L367.1,711.7L366.4,712.3L365.8,712.8L365.1,713.2L364.8,714.3L364.4,715.2L364.1,716.1L364.0,716.9L364.3,717.9L364.8,719.0L365.5,720.3L366.1,721.6ZM317.1,735.8L317.6,736.4L318.1,736.9L319.6,737.1L321.1,737.2L322.4,737.2L323.6,737.0L324.8,736.8L325.9,736.7L327.1,736.7L328.3,736.9L329.5,737.1L330.6,737.5L331.5,737.7L332.2,737.7L332.9,737.6L333.7,737.4L334.8,737.2L335.7,735.8L336.6,734.3L337.5,732.9L338.3,731.8L338.8,730.9L339.2,730.3L339.4,729.8L339.7,729.4L340.2,729.0L339.2,727.7L338.4,726.7L337.6,726.0L336.9,725.5L336.3,725.2L335.5,725.0L334.6,724.7L333.6,724.1L332.4,723.2L331.1,722.1L329.9,720.8L328.7,719.6L327.8,718.6L327.0,717.7L326.3,716.9L325.7,716.3L324.8,717.1L323.9,718.0L322.9,718.7L321.8,719.4L320.6,719.8L319.3,720.1L318.0,720.3L316.7,720.6L316.6,721.6L316.8,722.6L317.1,723.6L317.4,724.4L317.5,725.3L317.4,726.3L317.1,727.5L316.9,729.1L316.8,730.7L317.0,732.3L317.2,733.7L317.3,734.9ZM311.5,708.7L310.4,708.3L309.3,708.2L308.3,708.2L307.4,708.1L306.5,707.9L305.6,707.4L304.9,707.4L304.1,707.2L303.1,707.0L302.5,707.7L301.9,708.4L301.1,709.2L300.2,710.1L299.2,710.9L298.2,711.7L298.6,712.6L298.8,713.5L298.9,714.6L299.1,715.9L299.3,717.3L299.3,718.6L299.2,719.7L300.3,719.8L301.3,719.7L302.4,719.4L303.4,719.0L304.5,718.6L305.7,718.5L307.2,718.6L308.9,718.9L310.6,719.2L312.2,719.5L313.6,719.5L314.6,719.3L314.7,718.6L314.4,717.7L313.9,716.4L313.2,714.9L312.6,713.2L312.2,711.5L311.8,709.9Z" fill="#e0e4ee" stroke="#fff" stroke-width="0.9" stroke-linejoin="round"/><path d="M325.6,824.5L324.9,823.3L324.2,822.3L323.7,821.3L323.6,820.1L323.7,818.9L323.9,817.5L323.8,816.2L323.4,815.1L322.6,814.2L321.5,813.5L320.4,812.8L319.4,812.0L318.8,811.0L318.5,809.6L318.5,808.1L317.8,807.7L317.1,807.5L316.5,807.6L315.6,807.9L314.5,808.3L313.2,808.7L311.9,808.9L310.6,808.9L309.4,808.7L308.4,808.3L307.6,808.0L307.1,809.2L306.5,810.5L305.9,812.0L305.3,813.5L305.0,814.9L304.8,816.0L304.6,817.0L304.4,817.8L304.1,818.4L303.5,819.0L304.4,820.0L305.2,821.0L306.0,821.9L306.8,822.6L307.7,823.0L308.6,823.3L309.7,823.5L311.0,823.8L312.2,824.3L313.5,825.1L314.6,826.0L315.6,827.1L316.3,828.1L317.0,829.2L317.5,830.1L318.4,829.2L319.3,828.3L320.3,827.4L321.3,826.6L322.3,825.8L323.2,825.3L324.1,824.9L324.9,824.7ZM269.4,769.5L268.2,769.9L266.8,770.4L265.3,771.1L263.8,771.9L263.2,773.6L263.0,775.2L263.1,776.5L263.3,777.4L263.5,778.2L263.6,778.9L263.5,779.6L263.4,780.5L263.2,781.7L263.0,783.0L262.7,784.4L262.3,785.6L261.8,786.8L261.1,787.7L260.5,788.5L260.0,789.4L259.7,790.3L260.6,790.7L261.8,791.2L263.4,791.9L265.0,792.8L266.6,793.8L267.9,794.9L268.7,794.7L269.4,794.3L270.1,793.7L270.9,792.9L271.8,792.1L272.9,791.3L274.0,790.5L275.1,789.7L276.2,789.1L277.1,788.4L277.8,787.7L278.5,787.0L279.1,786.4L279.8,785.8L280.7,785.4L280.6,784.3L280.5,783.6L280.2,782.9L280.0,782.1L279.9,781.0L280.0,779.7L280.2,778.3L280.3,776.8L280.1,775.5L279.6,774.3L278.9,773.1L278.1,771.8L276.9,771.6L275.6,771.5L274.4,771.5L273.2,771.4L272.3,771.3L271.5,771.1L270.8,770.7L270.2,770.1ZM306.4,761.4L308.1,761.6L309.6,761.6L310.9,761.4L311.2,760.4L311.5,759.4L311.7,758.6L312.1,758.0L312.8,757.5L313.6,756.9L314.7,756.4L316.0,755.8L317.4,755.2L318.8,754.6L320.1,754.0L320.2,753.1L320.2,752.1L319.9,750.9L319.6,749.6L319.4,748.4L319.4,747.3L319.4,746.3L319.3,745.4L319.1,744.3L318.7,743.1L318.3,741.8L317.9,740.3L317.8,739.0L317.9,737.8L318.1,736.9L317.6,736.4L317.1,735.8L316.1,735.9L315.2,736.2L314.4,736.5L313.6,736.9L312.6,737.3L311.3,737.5L309.9,737.6L308.3,737.7L306.9,737.8L305.6,738.1L304.5,738.4L303.5,738.8L303.1,739.8L302.6,740.7L302.0,741.5L301.3,742.1L300.6,742.8L299.8,743.3L300.3,744.5L300.7,745.7L301.1,746.8L301.2,747.8L301.4,748.5L301.7,749.1L302.1,749.8L302.8,750.8L303.5,752.0L304.1,753.6L304.4,755.2L304.6,756.7L304.7,758.1L304.9,759.3L305.5,760.3ZM288.2,789.5L288.8,790.3L289.5,791.2L289.8,792.3L289.9,793.5L289.8,795.0L289.7,796.6L289.8,798.1L290.2,799.3L290.9,800.2L292.4,800.0L293.9,799.5L295.4,799.1L296.6,799.0L297.7,799.4L298.6,800.1L299.4,801.0L300.3,801.9L301.3,802.5L302.5,802.8L303.7,802.7L304.4,801.3L304.9,799.8L305.3,798.4L305.6,797.2L306.0,796.2L306.5,795.4L307.1,794.7L307.9,794.1L308.7,793.4L309.5,792.7L310.0,791.8L310.3,790.9L310.4,789.8L310.3,788.7L310.4,787.5L309.5,786.7L309.1,785.9L309.0,785.0L309.3,783.9L309.7,782.7L309.1,782.4L308.2,782.1L307.0,781.7L305.6,781.4L303.9,781.3L302.3,781.3L300.9,781.4L299.7,781.6L298.8,781.7L297.9,781.7L297.3,782.6L296.5,783.4L295.6,784.2L294.5,784.9L293.3,785.6L292.1,786.3L291.0,786.9L290.0,787.6L289.2,788.3L288.6,788.9ZM280.7,785.4L279.8,785.8L279.1,786.4L278.5,787.0L277.8,787.7L277.1,788.4L276.2,789.1L275.1,789.7L274.0,790.5L272.9,791.3L271.8,792.1L270.9,792.9L270.1,793.7L269.4,794.3L268.7,794.7L267.9,794.9L268.2,796.1L268.0,797.2L267.7,798.5L267.4,799.9L267.3,801.5L267.6,803.0L268.1,804.4L268.6,805.5L268.9,806.2L270.3,805.8L271.8,805.4L273.4,805.4L274.8,805.6L275.9,806.3L276.7,807.0L277.2,807.8L277.7,808.3L278.3,808.5L279.2,808.5L280.6,808.5L282.2,808.5L283.9,808.8L284.5,807.7L285.1,806.6L285.6,805.5L286.3,804.6L287.0,803.9L287.7,803.2L288.5,802.7L289.2,802.3L289.8,801.7L290.4,801.1L290.9,800.2L290.2,799.3L289.8,798.1L289.7,796.6L289.8,795.0L289.9,793.5L289.8,792.3L289.5,791.2L288.8,790.3L288.2,789.5L287.3,789.0L286.2,788.5L285.1,788.0L283.9,787.4L282.7,786.7L281.6,786.0ZM306.4,761.4L305.5,760.3L304.9,759.3L304.7,758.1L304.6,756.7L304.4,755.2L304.1,753.6L303.5,752.0L302.8,750.8L302.1,749.8L301.7,749.1L301.4,748.5L301.2,747.8L301.1,746.8L300.7,745.7L300.3,744.5L299.8,743.3L298.3,743.1L296.8,743.0L295.4,743.0L294.2,743.1L293.2,743.4L292.3,743.8L291.5,744.1L290.5,744.3L290.1,745.2L289.7,746.2L289.1,747.3L288.4,748.6L287.5,749.9L286.6,751.1L285.6,752.2L284.8,753.2L284.1,754.0L284.7,755.0L285.0,756.0L285.1,757.2L284.9,758.5L284.7,759.8L284.8,760.9L285.4,761.7L286.5,762.4L287.8,763.0L289.1,763.8L290.4,763.7L291.5,763.9L292.3,764.5L292.8,765.3L293.3,766.3L294.1,766.3L294.9,766.0L295.9,765.4L296.9,764.5L297.9,763.4L298.8,762.4L299.7,761.6L300.6,761.2L301.5,761.2L302.6,761.4L303.7,761.6L305.1,761.7ZM281.4,731.9L279.9,732.9L278.3,733.7L276.8,734.3L275.4,734.7L274.2,734.9L273.3,735.0L272.7,735.1L272.1,735.4L271.5,735.8L270.7,736.3L270.8,737.1L270.8,738.1L270.6,739.2L270.0,740.7L269.1,742.3L268.2,744.1L267.5,745.7L267.1,747.0L267.1,748.0L267.3,748.8L268.8,749.1L270.2,749.5L271.4,749.6L272.4,749.9L273.0,750.4L273.6,751.0L274.3,751.6L275.1,752.1L276.2,752.5L277.5,752.7L278.9,752.8L280.2,752.9L281.5,753.2L282.8,753.5L284.1,754.0L284.8,753.2L285.6,752.2L286.6,751.1L287.5,749.9L288.4,748.6L289.1,747.3L289.7,746.2L290.1,745.2L290.5,744.3L289.5,743.5L288.6,742.8L287.9,742.1L287.4,741.3L286.9,740.3L286.3,739.2L285.6,738.1L284.7,737.1L283.8,736.2L282.9,735.3L282.2,734.6L281.8,733.8L281.6,732.9ZM345.9,793.4L346.7,792.9L347.6,792.5L348.4,792.2L349.2,792.1L349.5,791.3L349.1,790.0L349.0,788.8L349.2,787.9L349.4,787.2L349.3,786.7L348.9,786.1L348.1,785.4L347.0,784.4L345.8,783.2L344.8,781.9L344.0,780.7L343.5,779.5L343.1,778.5L342.7,777.5L342.2,776.5L341.8,775.4L341.3,774.3L340.8,773.4L340.3,772.6L339.8,772.0L339.1,771.4L338.4,770.7L337.0,770.3L335.7,769.5L334.8,770.0L334.1,770.3L333.3,770.7L332.7,771.2L332.1,771.7L331.6,772.4L331.7,773.5L331.8,774.9L331.9,776.5L331.9,778.1L331.6,779.6L331.0,780.8L330.4,781.8L329.9,782.7L329.8,783.6L330.1,784.7L330.7,785.9L331.4,787.3L332.7,788.0L334.1,788.4L335.3,788.7L336.4,788.7L337.2,788.7L337.9,788.8L338.4,789.1L338.9,789.6L339.6,790.3L340.6,791.1L341.8,791.8L343.1,792.4L344.5,793.0ZM290.9,800.2L290.4,801.1L289.8,801.7L289.2,802.3L288.5,802.7L287.7,803.2L287.0,803.9L286.3,804.6L285.6,805.5L285.1,806.6L284.5,807.7L283.9,808.8L284.7,810.1L285.4,811.1L285.9,811.9L286.0,812.7L285.9,813.4L285.7,814.3L286.2,814.7L286.8,815.1L287.7,815.5L288.9,816.0L290.6,816.5L292.4,817.2L294.3,817.8L295.8,818.3L296.9,818.7L297.7,818.8L298.1,818.8L298.6,818.8L299.2,818.9L300.1,819.2L301.3,819.1L302.4,819.0L303.5,819.0L304.1,818.4L304.4,817.8L304.6,817.0L304.8,816.0L305.0,814.9L305.3,813.5L305.9,812.0L306.5,810.5L307.1,809.2L307.6,808.0L307.1,806.8L306.5,806.0L305.9,805.3L305.3,804.8L304.8,804.2L304.3,803.5L303.7,802.7L302.5,802.8L301.3,802.5L300.3,801.9L299.4,801.0L298.6,800.1L297.7,799.4L296.6,799.0L295.4,799.1L293.9,799.5L292.4,800.0ZM249.3,744.7L249.9,745.4L250.6,746.3L251.4,747.4L252.4,748.5L253.4,749.4L254.5,750.1L255.6,750.4L257.0,750.1L258.3,749.7L259.5,749.3L260.5,749.0L261.3,748.8L262.0,748.8L262.8,748.9L263.6,749.0L264.7,749.1L265.9,749.0L267.3,748.8L267.1,748.0L267.1,747.0L267.5,745.7L268.2,744.1L269.1,742.3L270.0,740.7L270.6,739.2L270.8,738.1L270.8,737.1L270.7,736.3L269.8,735.9L268.8,735.3L267.8,734.6L266.8,733.7L265.8,732.8L265.0,732.0L264.4,731.2L263.8,730.5L263.3,729.7L262.7,728.9L261.9,728.8L260.9,728.9L259.7,729.2L258.4,729.6L257.1,729.9L255.8,730.0L254.6,730.0L253.4,729.7L252.3,729.4L251.0,729.1L249.7,729.0L248.3,729.0L248.4,730.0L248.7,730.9L248.9,731.9L249.0,732.9L249.0,734.2L249.0,735.8L249.1,737.4L249.5,739.0L250.0,740.3L250.4,741.4L250.6,742.2L250.4,742.9L249.9,743.7ZM359.6,732.7L360.5,731.3L361.2,730.0L361.8,728.7L362.2,727.5L362.6,726.5L363.0,725.7L363.5,725.1L364.1,724.6L364.9,724.1L365.7,723.5L366.4,722.8L366.1,721.6L365.5,720.3L364.8,719.0L364.3,717.9L364.0,716.9L364.1,716.1L364.4,715.2L364.8,714.3L365.1,713.2L364.6,712.5L363.9,711.6L362.8,710.7L361.6,709.8L360.2,709.0L358.7,708.7L357.4,708.6L356.3,708.6L355.4,708.7L354.6,708.9L353.8,709.0L352.9,709.0L351.9,708.9L350.7,708.7L349.6,708.5L349.0,709.4L348.5,710.4L348.0,711.5L347.4,712.7L346.8,714.0L346.2,715.3L345.6,716.6L345.2,717.8L345.1,718.8L345.2,719.9L345.6,721.1L345.8,722.5L345.8,724.1L345.3,725.9L344.6,727.5L343.9,729.0L344.7,729.3L345.5,729.2L346.5,728.8L347.7,728.5L348.9,728.6L350.2,729.1L351.4,730.1L352.7,731.1L353.9,732.0L355.3,732.6L356.7,732.8L358.2,732.7ZM337.1,667.7L337.0,666.7L336.9,665.8L337.1,664.9L336.1,664.9L335.0,665.0L333.8,664.9L332.6,664.8L331.5,665.0L330.5,665.1L329.5,665.2L328.6,665.3L328.9,664.6L329.2,663.7L329.4,662.7L329.2,661.5L328.2,661.0L327.0,660.7L325.7,660.4L324.3,660.2L323.0,660.1L321.8,660.0L321.2,659.0L320.8,658.1L320.5,657.3L320.4,656.5L320.3,655.4L320.2,654.3L319.9,653.0L319.2,653.5L318.5,653.8L317.5,654.2L316.3,654.8L315.7,654.2L315.0,653.7L314.6,655.4L314.2,656.9L313.8,658.2L313.6,659.4L313.6,660.4L313.6,661.5L313.6,662.7L313.2,664.1L312.6,665.6L311.8,667.1L311.2,668.5L311.9,669.0L313.0,669.4L314.5,669.8L316.1,670.3L317.5,671.1L318.5,672.2L319.1,673.5L319.2,674.8L319.0,676.0L319.9,676.0L320.8,675.9L322.0,675.5L323.2,675.0L324.5,674.3L325.8,673.6L326.9,673.0L327.9,672.5L328.9,672.3L329.8,672.2L330.9,672.2L332.2,672.2L333.6,671.9L335.1,671.5L335.7,670.6L336.3,669.7L336.8,668.7ZM263.5,838.3L262.6,837.6L261.8,836.9L261.3,836.2L261.1,835.3L259.7,834.7L258.3,834.0L257.2,833.6L256.3,833.6L255.7,834.0L255.1,834.6L254.4,835.1L253.5,835.3L252.2,835.1L250.7,834.5L249.1,833.8L247.6,833.3L246.2,833.1L245.1,833.5L244.1,834.1L243.0,834.8L241.9,835.3L240.7,835.4L239.5,835.1L238.8,835.8L238.2,836.5L237.0,837.5L236.1,838.4L235.3,838.6L234.6,838.8L234.1,839.2L233.6,839.8L234.0,840.5L234.6,841.3L235.5,841.8L236.7,842.5L238.2,843.2L239.9,843.6L241.6,843.8L241.9,844.6L242.0,845.6L241.9,846.7L241.8,847.8L241.6,848.8L242.6,849.0L243.4,849.1L244.1,849.3L244.9,849.4L246.0,849.6L247.4,849.8L248.9,849.9L250.0,850.4L251.0,851.0L251.8,851.7L252.4,852.6L252.8,853.6L253.5,854.0L254.1,854.4L254.8,854.7L255.7,854.9L256.9,854.9L257.0,853.8L257.4,852.6L258.0,851.5L258.8,850.4L259.5,849.4L260.3,848.6L261.0,847.8L261.8,847.0L262.5,846.1L263.1,844.9L263.6,843.6L263.9,842.2L263.9,840.7L263.7,839.4ZM256.9,854.9L258.0,854.8L259.2,854.7L260.3,854.6L261.9,854.8L263.3,855.1L264.5,855.6L265.5,856.2L266.3,856.9L267.1,857.6L267.9,858.2L268.9,858.2L270.0,858.0L271.1,857.8L272.2,857.7L273.3,857.9L274.6,858.3L276.0,858.8L277.6,859.3L279.2,859.6L279.7,858.6L279.9,857.4L279.8,856.2L279.4,855.1L280.9,855.4L282.2,855.7L281.8,854.8L281.4,853.9L281.0,853.1L280.2,852.2L279.5,851.1L279.2,849.8L279.0,848.2L278.7,846.6L278.4,844.9L277.9,843.5L277.5,842.4L277.1,841.7L276.0,842.0L275.0,842.3L274.1,842.5L273.1,842.3L272.0,841.6L270.9,840.6L269.7,839.6L268.5,838.7L267.4,838.1L266.5,837.9L265.6,838.1L264.6,838.3L263.5,838.3L263.7,839.4L263.9,840.7L263.9,842.2L263.6,843.6L263.1,844.9L262.5,846.1L261.8,847.0L261.0,847.8L260.3,848.6L259.5,849.4L258.8,850.4L258.0,851.5L257.4,852.6L257.0,853.8ZM377.2,736.9L377.1,735.5L377.2,734.3L377.5,733.2L377.7,732.2L377.8,731.1L377.7,729.9L377.3,728.6L376.9,727.3L376.6,725.9L375.3,725.3L374.3,724.6L373.5,723.9L372.7,723.4L372.0,723.2L371.3,723.2L370.5,723.4L369.5,723.6L368.6,723.6L367.5,723.3L366.4,722.8L365.7,723.5L364.9,724.1L364.1,724.6L363.5,725.1L363.0,725.7L362.6,726.5L362.2,727.5L361.8,728.7L361.2,730.0L360.5,731.3L359.6,732.7L359.7,733.6L359.6,734.5L359.5,735.2L359.6,735.9L359.9,736.6L360.4,737.6L360.9,738.8L361.4,740.2L361.8,741.6L362.4,741.8L362.9,742.0L363.8,741.5L364.8,741.0L365.9,740.5L367.2,740.1L368.7,739.6L370.1,739.2L371.4,738.9L372.6,738.7L373.5,738.5L374.2,738.4L374.9,738.3L375.5,738.1L376.3,737.6ZM306.8,699.8L306.9,700.7L306.7,701.6L306.3,702.6L306.0,703.8L305.9,705.1L306.8,704.1L307.9,703.1L309.2,702.0L308.9,701.3L308.5,700.6L308.0,700.0L307.3,699.4ZM291.6,668.6L291.0,669.7L290.6,670.7L289.9,671.8L289.3,672.8L288.7,673.7L288.1,674.6L287.3,675.3L286.2,675.5L284.9,675.7L283.5,675.8L282.1,676.1L280.9,676.4L280.0,676.9L279.3,677.4L278.6,677.9L277.8,678.3L276.9,678.7L275.9,679.0L274.7,679.4L273.4,679.7L272.1,680.1L270.9,681.0L270.0,682.2L269.5,683.6L270.4,684.9L271.6,686.1L272.9,687.0L274.5,686.9L273.8,687.5L274.7,687.9L275.4,688.4L276.3,688.1L277.0,688.0L277.6,688.1L278.3,688.4L279.1,688.8L280.3,689.1L281.6,689.2L283.1,689.0L284.5,688.6L285.8,688.2L287.0,687.9L288.2,687.9L289.4,688.2L290.7,688.7L292.1,689.2L293.5,689.6L294.7,689.7L295.8,689.5L296.2,688.5L296.4,687.5L296.7,686.6L296.8,685.4L297.0,684.4L297.2,683.5L296.9,682.9L296.6,682.2L296.4,681.2L296.4,679.8L296.5,678.2L296.7,676.5L296.6,674.9L296.1,673.6L295.3,672.5L294.1,671.5L293.0,670.6L292.1,669.6ZM302.1,699.9L301.0,699.4L299.9,698.9L298.7,698.4L297.6,697.7L296.6,697.1L295.7,696.5L294.8,695.9L294.1,695.4L293.2,696.5L292.7,697.5L292.5,698.4L292.4,699.3L292.4,700.1L292.3,700.9L291.9,701.7L291.2,702.5L290.3,703.5L291.3,704.2L292.2,705.2L292.9,706.4L293.4,707.7L293.9,709.0L294.4,710.0L295.1,710.7L295.9,711.2L297.0,711.5L298.2,711.7L299.2,710.9L300.2,710.1L301.1,709.2L301.9,708.4L302.5,707.7L303.1,707.0L302.4,705.3L302.0,703.8L302.0,702.4L302.1,701.4L302.3,700.6ZM267.3,748.8L265.9,749.0L264.7,749.1L263.6,749.0L262.8,748.9L262.0,748.8L261.3,748.8L260.5,749.0L259.5,749.3L258.3,749.7L257.0,750.1L255.6,750.4L255.2,751.2L254.8,752.2L254.3,753.3L254.1,754.5L254.0,755.8L254.2,757.0L254.3,758.1L254.3,758.9L254.0,759.7L253.4,760.4L252.7,761.4L252.1,762.7L251.7,764.2L251.6,765.9L251.7,767.6L252.8,767.7L254.2,767.9L255.7,768.2L257.1,768.6L258.4,769.1L259.4,769.7L260.2,770.2L260.8,770.6L261.3,771.0L261.9,771.3L262.8,771.6L263.8,771.9L265.3,771.1L266.8,770.4L268.2,769.9L269.4,769.5L270.0,768.1L270.3,766.9L270.2,765.9L269.7,765.1L269.0,764.1L268.3,763.0L268.0,761.8L268.1,760.4L268.5,759.1L269.1,758.0L269.6,757.0L270.0,756.0L270.2,755.0L270.4,754.0L270.5,752.8L270.6,751.6L270.5,750.5L270.2,749.5L268.8,749.1ZM385.1,829.6L384.1,830.1L382.9,830.2L381.6,830.0L380.3,829.5L379.1,829.0L378.1,828.6L377.2,828.6L376.5,829.0L375.7,829.6L374.7,830.2L373.5,830.7L372.1,830.9L370.6,830.8L369.9,831.2L369.3,831.7L369.2,832.8L369.2,834.2L369.4,835.7L369.6,837.2L369.8,838.5L369.7,839.6L369.2,840.4L368.6,840.9L368.0,841.5L367.7,842.3L367.7,843.4L367.9,844.7L369.2,845.2L370.6,845.8L372.0,846.4L373.4,847.0L374.8,847.2L376.0,847.2L377.0,847.6L377.7,847.8L378.4,847.9L379.1,848.0L380.0,847.5L380.9,847.1L381.8,846.8L382.5,846.5L383.3,846.5L384.1,846.4L384.9,846.4L385.7,846.2L386.8,845.9L386.7,844.9L386.8,843.6L387.1,842.1L387.5,840.6L388.0,839.1L389.1,838.2L390.2,837.5L391.3,836.9L392.4,836.4L391.6,835.7L390.5,834.9L389.4,834.0L388.3,833.0L387.3,832.0L386.6,831.1L386.0,830.4L385.6,829.9ZM289.1,763.8L288.1,765.0L287.0,766.1L285.7,767.2L284.3,768.1L283.0,768.8L281.8,769.3L280.8,769.7L280.0,770.1L279.3,770.5L278.7,771.1L278.1,771.8L278.9,773.1L279.6,774.3L280.1,775.5L280.3,776.8L280.2,778.3L280.0,779.7L279.9,781.0L280.0,782.1L280.2,782.9L280.5,783.6L280.6,784.3L280.7,785.4L281.6,786.0L282.7,786.7L283.9,787.4L285.1,788.0L286.2,788.5L287.3,789.0L288.2,789.5L288.6,788.9L289.2,788.3L290.0,787.6L291.0,786.9L292.1,786.3L293.3,785.6L294.5,784.9L295.6,784.2L296.5,783.4L297.3,782.6L297.9,781.7L297.5,780.4L297.3,779.3L297.2,778.1L297.1,776.9L296.9,775.6L296.5,774.3L295.7,773.2L294.6,772.4L293.5,771.8L292.7,771.2L292.4,770.5L292.6,769.4L293.0,768.0L293.3,766.3L292.8,765.3L292.3,764.5L291.5,763.9L290.4,763.7ZM302.1,699.9L302.3,700.6L302.1,701.4L302.0,702.4L302.0,703.8L302.4,705.3L303.1,707.0L304.1,707.2L304.9,707.4L305.6,707.4L305.6,706.3L305.9,705.1L306.0,703.8L306.3,702.6L306.7,701.6L306.9,700.7L306.8,699.8L305.8,700.0L304.6,700.1L303.4,700.0ZM309.2,702.0L310.5,701.9L311.8,701.9L313.0,702.0L314.2,702.3L315.2,702.6L316.1,702.9L316.9,702.1L317.7,701.2L318.4,700.2L319.0,699.2L319.6,698.2L320.2,697.3L320.9,696.6L321.6,696.1L320.0,695.4L318.7,694.7L317.8,694.1L316.9,694.4L316.1,694.8L315.4,695.2L314.7,695.2L313.8,695.1L312.7,694.7L311.5,694.3L310.2,694.0L309.1,693.8L308.5,694.9L308.1,696.1L307.8,697.3L307.6,698.4L307.3,699.4L308.0,700.0L308.5,700.6L308.9,701.3ZM305.9,705.1L305.6,706.3L305.6,707.4L306.5,707.9L307.4,708.1L308.3,708.2L309.3,708.2L310.4,708.3L311.5,708.7L312.1,707.7L312.6,706.9L313.1,706.2L313.7,705.5L314.5,704.8L315.3,703.9L316.1,702.9L315.2,702.6L314.2,702.3L313.0,702.0L311.8,701.9L310.5,701.9L309.2,702.0L307.9,703.1L306.8,704.1ZM309.1,693.8L308.1,693.1L307.3,692.6L306.7,692.3L306.1,692.2L305.4,692.0L304.5,691.6L303.4,691.0L302.1,690.1L300.8,689.1L299.5,688.2L298.5,687.4L297.5,686.9L296.7,686.6L296.4,687.5L296.2,688.5L295.8,689.5L296.0,690.6L296.0,691.7L295.7,692.6L295.2,693.5L294.6,694.4L294.1,695.4L294.8,695.9L295.7,696.5L296.6,697.1L297.6,697.7L298.7,698.4L299.9,698.9L301.0,699.4L302.1,699.9L303.4,700.0L304.6,700.1L305.8,700.0L306.8,699.8L307.3,699.4L307.6,698.4L307.8,697.3L308.1,696.1L308.5,694.9Z" fill="#fde6cd" stroke="#fff" stroke-width="0.9" stroke-linejoin="round"/><path d="M385.1,829.6L385.6,828.6L386.0,827.6L386.2,826.6L386.4,825.4L386.5,824.1L386.7,822.8L386.8,821.5L386.9,820.3L386.9,819.4L386.8,818.6L386.7,817.9L386.7,817.2L387.0,816.3L387.6,815.1L386.8,815.1L385.9,815.2L384.7,815.1L383.2,815.1L381.6,815.0L380.0,815.0L378.7,815.1L377.5,815.2L376.6,815.2L375.8,815.2L374.9,815.1L373.8,815.0L372.6,814.8L371.2,814.5L369.9,814.4L368.7,814.4L367.6,814.5L367.3,815.6L367.4,816.8L367.9,818.1L368.5,819.3L369.0,820.3L369.2,821.4L369.2,822.6L369.1,824.0L369.1,825.5L369.3,827.1L369.6,828.6L370.1,829.8L370.6,830.8L372.1,830.9L373.5,830.7L374.7,830.2L375.7,829.6L376.5,829.0L377.2,828.6L378.1,828.6L379.1,829.0L380.3,829.5L381.6,830.0L382.9,830.2L384.1,830.1ZM387.6,815.1L388.5,814.3L389.4,813.5L390.4,811.8L391.1,810.2L391.4,808.8L391.1,807.6L390.5,806.7L391.0,806.4L391.5,806.0L392.1,805.6L390.8,805.0L389.6,804.3L388.8,803.3L388.2,802.3L387.9,801.3L387.8,800.3L387.7,799.6L387.4,798.9L387.0,798.2L386.5,797.7L385.0,797.4L383.4,797.1L381.8,797.1L380.3,797.1L379.0,797.3L377.9,797.5L376.9,797.6L376.0,797.4L375.0,797.1L374.3,797.6L373.5,798.0L372.7,798.5L371.9,799.0L371.1,799.7L370.3,800.4L369.5,801.3L368.7,802.1L367.9,803.0L367.4,804.3L367.1,805.7L367.0,807.2L367.2,808.7L367.7,810.1L368.3,811.2L368.8,812.0L369.0,812.5L368.7,813.0L368.2,813.6L367.5,814.5L367.6,814.5L368.7,814.4L369.9,814.4L371.2,814.5L372.6,814.8L373.8,815.0L374.9,815.1L375.8,815.2L376.6,815.2L377.5,815.2L378.7,815.1L380.0,815.0L381.6,815.0L383.2,815.1L384.7,815.1L385.9,815.2L386.8,815.1ZM350.3,817.0L350.4,815.8L350.7,814.6L350.8,813.3L350.8,811.8L350.7,810.3L350.6,808.9L350.7,807.6L351.1,806.7L351.6,806.0L352.0,805.2L352.3,804.4L352.3,803.2L352.1,801.8L351.9,800.2L351.8,798.7L351.8,797.3L352.0,796.2L352.1,795.2L351.4,794.6L350.6,793.9L349.9,793.0L349.2,792.1L348.4,792.2L347.6,792.5L346.7,792.9L345.9,793.4L345.5,794.7L345.2,795.9L344.7,797.0L344.1,797.9L343.2,798.7L342.2,799.3L341.2,799.9L340.2,800.6L339.3,801.3L338.7,802.3L338.1,803.4L337.7,804.5L337.2,805.8L336.6,807.0L336.5,807.8L336.4,808.5L336.5,809.2L337.0,810.0L337.9,811.1L338.9,812.5L339.8,814.1L340.3,815.6L341.6,816.1L342.9,816.3L344.0,816.4L344.9,816.2L345.6,816.1L346.2,816.0L346.8,816.1L347.6,816.3L348.7,816.7L350.0,817.1ZM303.5,856.5L303.7,855.4L303.5,854.2L303.0,852.9L302.3,851.3L301.7,849.8L301.4,848.4L301.4,847.3L301.5,846.4L301.4,845.6L301.0,844.7L300.4,843.5L299.6,842.2L298.3,843.3L297.1,844.4L296.2,845.2L295.4,845.8L294.7,846.1L294.0,846.3L293.2,846.4L292.1,846.5L290.8,846.7L289.4,847.1L287.9,847.7L286.5,848.4L285.2,849.1L284.2,849.9L283.3,850.7L282.6,851.6L281.9,852.4L281.0,853.1L281.4,853.9L281.8,854.8L282.2,855.7L283.3,855.8L284.2,855.9L284.9,856.0L285.4,856.2L285.9,856.9L286.4,857.7L287.0,858.6L287.8,859.4L288.7,860.1L289.8,860.5L290.8,860.8L291.8,861.0L292.7,861.1L293.7,861.3L294.6,861.7L295.7,862.4L296.8,863.3L298.1,864.3L298.9,864.8L299.7,865.3L300.0,864.7L300.1,863.8L300.2,862.8L300.4,861.7L300.8,860.4L301.6,859.1L302.5,857.8ZM314.8,837.6L314.1,837.4L313.5,837.5L312.7,837.8L311.8,838.4L310.8,839.1L309.7,839.8L308.6,840.4L307.5,840.7L306.4,840.7L305.4,840.5L304.2,840.3L302.8,840.4L301.3,840.7L299.7,841.3L299.6,842.2L300.4,843.5L301.0,844.7L301.4,845.6L301.5,846.4L301.4,847.3L301.4,848.4L301.7,849.8L302.3,851.3L303.0,852.9L303.5,854.2L303.7,855.4L303.5,856.5L304.7,855.8L305.9,855.0L307.3,854.4L308.7,854.1L310.1,854.0L311.4,854.2L312.5,854.4L313.3,854.5L313.9,854.4L314.5,854.1L315.3,853.6L316.3,853.2L317.6,852.9L319.1,852.8L320.7,852.8L322.3,853.0L322.3,852.7L322.5,852.0L322.6,851.3L322.5,850.4L322.4,849.4L322.6,848.5L322.1,847.1L321.9,845.9L321.8,844.9L321.5,844.2L320.8,843.7L319.7,843.2L318.3,842.6L316.9,841.7L315.8,840.5L315.1,839.1ZM369.3,831.7L367.7,831.2L366.5,830.8L365.5,830.7L364.7,830.9L363.9,831.3L363.0,831.8L361.9,832.1L360.6,832.1L359.3,831.7L358.0,831.1L356.8,830.5L355.5,830.1L354.3,830.0L352.9,830.1L351.5,830.4L350.2,830.7L349.8,831.9L349.3,833.0L348.8,833.8L348.2,834.5L347.5,834.9L346.8,835.2L346.2,835.5L345.6,835.9L345.3,836.6L345.0,837.5L345.0,837.5L345.9,837.9L346.9,838.6L347.8,839.3L348.7,840.2L349.6,841.2L350.7,841.5L351.7,841.7L352.6,841.7L353.4,841.7L354.1,841.5L354.6,841.4L355.3,841.3L356.1,841.2L357.2,841.2L358.8,841.1L360.5,841.1L362.1,841.2L363.6,841.3L364.0,841.8L364.3,842.3L364.5,842.8L365.1,843.2L365.6,843.6L366.3,844.0L367.0,844.3L367.9,844.7L367.7,843.4L367.7,842.3L368.0,841.5L368.6,840.9L369.2,840.4L369.7,839.6L369.8,838.5L369.6,837.2L369.4,835.7L369.2,834.2L369.2,832.8ZM255.9,704.6L256.7,705.1L257.5,705.9L258.9,705.8L260.3,705.7L261.8,705.5L263.2,705.1L264.4,704.5L265.3,703.7L265.9,702.7L266.4,701.9L266.8,701.1L267.2,700.6L267.8,700.3L268.6,700.0L269.6,699.7L270.8,699.2L272.0,698.6L273.2,697.8L273.7,696.7L274.4,695.5L275.0,694.3L275.4,693.0L275.6,691.7L275.6,690.4L275.5,689.3L275.4,688.4L274.7,687.9L273.8,687.5L272.9,688.0L272.0,688.6L271.0,689.1L270.1,689.4L268.9,689.4L267.9,689.3L266.9,689.3L265.9,689.4L264.8,689.6L263.6,689.6L262.5,689.6L261.4,689.7L260.4,689.6L259.4,689.4L258.6,689.0L257.7,688.5L256.7,687.9L255.6,687.4L255.7,688.7L255.7,690.0L255.7,691.1L255.8,692.2L256.0,693.3L256.1,694.6L256.1,696.0L255.9,697.4L255.6,698.6L255.3,699.6L255.3,700.4L255.4,701.0L255.7,701.5L256.0,702.2L256.1,703.3ZM269.5,683.6L269.2,684.9L269.0,686.1L270.2,686.6L271.5,686.9L272.9,687.0L271.6,686.1L270.4,684.9ZM303.7,802.7L304.3,803.5L304.8,804.2L305.3,804.8L305.9,805.3L306.5,806.0L307.1,806.8L307.6,808.0L308.4,808.3L309.4,808.7L310.6,808.9L311.9,808.9L313.2,808.7L314.5,808.3L315.6,807.9L316.5,807.6L317.1,807.5L317.8,807.7L318.5,808.1L319.2,807.4L320.0,806.8L320.9,806.1L321.8,805.5L322.8,804.8L323.7,804.0L324.7,803.3L325.0,802.4L325.3,801.6L325.4,800.6L325.1,799.4L324.5,798.1L323.7,796.9L322.8,795.8L322.3,794.7L322.2,793.7L321.0,793.4L320.1,792.9L319.6,792.3L319.4,791.6L319.1,790.8L318.5,790.0L317.5,789.2L315.9,788.5L314.1,788.0L312.1,787.7L310.4,787.5L310.3,788.7L310.4,789.8L310.3,790.9L310.0,791.8L309.5,792.7L308.7,793.4L307.9,794.1L307.1,794.7L306.5,795.4L306.0,796.2L305.6,797.2L305.3,798.4L304.9,799.8L304.4,801.3ZM295.4,834.3L294.2,833.7L292.7,833.1L291.1,832.7L289.4,832.5L287.8,832.7L286.5,832.9L285.6,833.1L284.8,833.2L284.2,832.9L283.3,833.8L282.6,834.7L282.2,835.6L281.9,836.5L281.6,837.3L281.2,838.1L280.7,838.9L279.9,839.5L279.0,840.2L278.0,840.9L277.1,841.7L277.5,842.4L277.9,843.5L278.4,844.9L278.7,846.6L279.0,848.2L279.2,849.8L279.5,851.1L280.2,852.2L281.0,853.1L281.9,852.4L282.6,851.6L283.3,850.7L284.2,849.9L285.2,849.1L286.5,848.4L287.9,847.7L289.4,847.1L290.8,846.7L292.1,846.5L293.2,846.4L294.0,846.3L294.7,846.1L295.4,845.8L296.2,845.2L297.1,844.4L298.3,843.3L299.6,842.2L299.7,841.3L298.6,840.4L297.8,839.7L297.3,839.1L297.0,838.6L296.8,837.9L296.5,837.0L296.0,835.7ZM261.1,835.3L261.3,836.2L261.8,836.9L262.6,837.6L263.5,838.3L264.6,838.3L265.6,838.1L266.5,837.9L267.4,838.1L268.5,838.7L269.7,839.6L270.9,840.6L272.0,841.6L273.1,842.3L274.1,842.5L275.0,842.3L276.0,842.0L277.1,841.7L278.0,840.9L279.0,840.2L279.9,839.5L280.7,838.9L281.2,838.1L281.6,837.3L281.9,836.5L282.2,835.6L282.6,834.7L283.3,833.8L284.2,832.9L284.4,831.9L284.5,831.0L284.3,830.2L283.5,829.2L282.4,828.1L281.0,826.9L279.8,825.8L278.9,824.7L277.6,824.5L276.5,824.4L275.7,824.5L274.9,824.6L274.0,824.7L272.8,824.9L271.5,824.9L270.0,824.9L268.5,824.9L267.2,824.8L266.1,824.7L265.3,824.7L264.5,824.7L264.1,825.7L264.0,826.8L264.1,827.9L264.2,829.2L264.2,830.6L263.8,832.1L263.1,833.4L262.1,834.5ZM261.2,816.3L262.3,815.2L263.2,814.0L263.9,812.7L264.5,811.6L264.9,810.5L265.2,809.7L265.5,809.0L265.9,808.5L266.5,808.0L267.2,807.5L268.1,807.0L268.9,806.2L268.6,805.5L268.1,804.4L267.6,803.0L267.3,801.5L267.4,799.9L267.7,798.5L268.0,797.2L268.2,796.1L267.9,794.9L266.6,793.8L265.0,792.8L263.4,791.9L261.8,791.2L260.6,790.7L259.7,790.3L259.1,790.6L258.7,790.7L258.2,790.8L257.6,790.7L256.9,790.5L255.8,790.3L256.4,791.4L256.9,792.8L257.2,794.4L257.4,796.0L257.3,797.4L257.3,796.1L257.2,794.7L256.9,793.3L256.5,791.9L255.9,790.8L255.3,790.2L253.9,790.1L252.4,790.2L250.9,790.4L249.6,790.8L248.4,791.3L247.3,791.6L246.2,791.8L246.2,793.0L246.4,794.3L246.7,795.7L246.9,797.2L247.0,798.6L246.8,799.8L246.4,800.8L246.0,801.5L245.7,802.1L245.7,802.6L245.7,803.2L245.9,804.0L245.9,805.1L245.8,806.3L245.4,807.6L246.3,807.8L247.0,807.8L247.6,807.7L246.8,808.6L246.0,809.4L245.2,810.1L244.5,810.6L244.3,811.3L244.2,811.9L244.2,812.6L245.1,812.8L245.9,813.1L246.8,813.4L247.8,813.6L249.0,813.8L250.4,813.9L251.9,814.1L253.3,814.3L254.5,814.6L255.5,815.0L256.4,815.4L257.3,815.7L258.4,816.0L259.7,816.2ZM331.4,825.1L330.0,825.4L328.7,825.5L327.6,825.4L326.5,825.0L325.6,824.5L324.9,824.7L324.1,824.9L323.2,825.3L322.3,825.8L321.3,826.6L320.3,827.4L319.3,828.3L318.4,829.2L317.5,830.1L317.1,831.3L316.8,832.4L316.4,833.5L316.1,834.4L315.7,835.4L315.2,836.5L314.8,837.6L315.1,839.1L315.8,840.5L316.9,841.7L318.3,842.6L319.7,843.2L320.8,843.7L321.5,844.2L321.8,844.9L321.9,845.9L322.1,847.1L322.6,848.5L322.9,847.3L323.4,846.1L323.9,845.0L324.7,844.9L325.6,844.8L326.8,844.7L328.1,844.5L329.5,843.9L330.9,843.2L332.2,842.3L333.4,841.4L334.3,840.5L335.1,839.5L335.7,838.7L336.2,838.0L336.8,837.5L337.4,837.0L338.3,837.0L339.2,836.9L338.5,836.1L337.9,835.2L337.3,834.1L336.7,833.1L336.0,832.0L335.2,831.0L334.5,830.1L333.9,829.4L333.5,828.8L333.2,828.1L333.0,827.4L332.7,826.7L332.2,825.9ZM236.9,705.4L236.5,705.3L236.1,705.2L235.9,705.1L235.4,705.9L234.7,706.7L233.9,707.6L232.9,708.7L232.1,709.9L231.4,711.3L230.9,712.8L230.7,714.3L230.6,715.7L230.3,716.8L229.9,717.7L230.5,718.6L230.9,719.6L231.2,720.7L231.5,721.9L231.8,723.1L232.1,724.2L232.4,725.0L232.6,725.8L232.7,726.5L232.9,727.3L233.7,727.3L234.6,727.2L235.9,727.1L237.4,727.0L239.1,727.2L240.7,727.5L242.0,728.0L243.1,728.4L244.0,728.7L244.8,728.9L245.7,728.9L246.8,728.9L248.2,728.9L248.4,727.7L248.8,726.5L249.3,725.3L249.7,724.3L250.0,723.3L249.9,722.4L249.7,721.4L249.4,720.2L249.3,718.9L249.3,717.5L249.3,716.2L249.3,715.1L249.1,714.2L248.9,713.5L248.8,712.9L248.9,712.0L249.2,711.0L249.8,709.6L248.9,709.1L248.2,708.2L247.5,707.3L246.7,706.4L245.8,705.9L244.6,705.7L243.2,706.0L241.7,706.3L240.1,706.6L238.8,706.6L237.7,706.1ZM261.1,835.3L262.1,834.5L263.1,833.4L263.8,832.1L264.2,830.6L264.2,829.2L264.1,827.9L264.0,826.8L264.1,825.7L264.5,824.7L264.3,823.7L264.2,822.5L263.9,821.3L263.3,820.1L262.8,819.0L262.2,818.1L261.7,817.2L261.2,816.3L259.7,816.2L258.4,816.0L257.3,815.7L256.4,815.4L255.5,815.0L254.5,814.6L253.3,814.3L251.9,814.1L250.4,813.9L249.0,813.8L247.8,813.6L246.8,813.4L245.9,813.1L245.1,812.8L244.2,812.6L244.3,813.5L244.4,814.5L244.3,815.6L244.0,816.8L243.7,818.0L243.4,819.1L243.0,820.1L242.8,821.1L242.7,822.1L242.5,823.2L242.3,824.4L242.1,825.7L241.8,827.0L241.6,828.2L241.6,829.2L241.6,830.1L241.8,831.0L241.7,831.8L241.5,832.7L240.6,833.8L239.5,835.1L240.7,835.4L241.9,835.3L243.0,834.8L244.1,834.1L245.1,833.5L246.2,833.1L247.6,833.3L249.1,833.8L250.7,834.5L252.2,835.1L253.5,835.3L254.4,835.1L255.1,834.6L255.7,834.0L256.3,833.6L257.2,833.6L258.3,834.0L259.7,834.7ZM278.9,824.7L279.6,823.8L280.5,822.9L281.4,822.0L282.2,821.0L282.8,819.9L283.3,818.7L283.8,817.5L284.3,816.3L284.9,815.2L285.7,814.3L285.9,813.4L286.0,812.7L285.9,811.9L285.4,811.1L284.7,810.1L283.9,808.8L282.2,808.5L280.6,808.5L279.2,808.5L278.3,808.5L277.7,808.3L277.2,807.8L276.7,807.0L275.9,806.3L274.8,805.6L273.4,805.4L271.8,805.4L270.3,805.8L268.9,806.2L268.1,807.0L267.2,807.5L266.5,808.0L265.9,808.5L265.5,809.0L265.2,809.7L264.9,810.5L264.5,811.6L263.9,812.7L263.2,814.0L262.3,815.2L261.2,816.3L261.7,817.2L262.2,818.1L262.8,819.0L263.3,820.1L263.9,821.3L264.2,822.5L264.3,823.7L264.5,824.7L265.3,824.7L266.1,824.7L267.2,824.8L268.5,824.9L270.0,824.9L271.5,824.9L272.8,824.9L274.0,824.7L274.9,824.6L275.7,824.5L276.5,824.4L277.6,824.5ZM249.8,709.6L249.2,711.0L248.9,712.0L248.8,712.9L248.9,713.5L249.1,714.2L249.3,715.1L249.3,716.2L249.3,717.5L249.3,718.9L249.4,720.2L249.7,721.4L249.9,722.4L250.0,723.3L249.7,724.3L249.3,725.3L248.8,726.5L248.4,727.7L248.2,728.9L248.3,729.0L249.7,729.0L251.0,729.1L252.3,729.4L253.4,729.7L254.6,730.0L255.8,730.0L257.1,729.9L258.4,729.6L259.7,729.2L260.9,728.9L261.9,728.8L262.7,728.9L262.8,728.1L263.0,727.0L263.4,725.8L264.0,724.5L264.6,723.3L265.1,722.1L265.5,721.1L265.7,720.2L266.0,719.4L266.2,718.6L266.5,717.6L266.0,716.5L265.4,715.2L264.9,714.0L264.2,712.8L263.3,712.0L262.2,711.4L261.1,710.9L260.0,710.4L259.1,709.7L258.4,708.7L257.9,707.4L257.5,705.9L256.7,705.1L255.9,704.6L255.1,705.2L254.2,706.1L253.2,707.1L252.1,708.1L251.0,709.0ZM320.1,754.0L321.1,754.1L322.2,754.1L323.2,754.2L324.3,754.4L325.4,754.7L326.6,755.2L327.7,755.8L328.6,756.3L329.4,756.7L330.2,757.0L331.0,757.1L332.2,757.3L332.2,756.4L332.5,755.6L333.1,754.9L334.0,754.2L335.1,753.5L336.3,752.7L337.3,751.9L338.3,751.0L339.0,749.9L339.5,748.8L339.9,747.6L339.5,746.4L339.2,745.1L338.9,743.9L338.4,742.9L337.7,741.9L336.8,741.0L335.8,739.9L335.2,738.7L334.8,737.2L333.7,737.4L332.9,737.6L332.2,737.7L331.5,737.7L330.6,737.5L329.5,737.1L328.3,736.9L327.1,736.7L325.9,736.7L324.8,736.8L323.6,737.0L322.4,737.2L321.1,737.2L319.6,737.1L318.1,736.9L317.9,737.8L317.8,739.0L317.9,740.3L318.3,741.8L318.7,743.1L319.1,744.3L319.3,745.4L319.4,746.3L319.4,747.3L319.4,748.4L319.6,749.6L319.9,750.9L320.2,752.1L320.2,753.1ZM303.5,856.5L302.5,857.8L301.6,859.1L300.8,860.4L300.4,861.7L300.2,862.8L300.1,863.8L300.0,864.7L299.7,865.3L300.8,865.9L301.8,866.2L302.6,866.4L303.3,866.5L304.0,866.3L304.8,866.2L305.8,866.2L306.9,866.5L308.1,866.9L309.3,867.5L310.4,868.1L311.3,868.6L312.2,868.9L313.0,868.4L313.8,867.8L314.9,867.0L316.1,866.3L317.4,865.8L318.7,865.4L320.0,865.1L320.9,865.6L321.7,866.1L322.4,866.4L323.1,866.4L323.9,866.2L323.4,865.2L323.1,864.1L322.9,863.0L322.9,861.9L322.7,860.9L322.4,859.8L322.1,858.7L321.8,857.5L321.8,856.3L321.9,855.0L322.1,854.0L322.3,853.0L320.7,852.8L319.1,852.8L317.6,852.9L316.3,853.2L315.3,853.6L314.5,854.1L313.9,854.4L313.3,854.5L312.5,854.4L311.4,854.2L310.1,854.0L308.7,854.1L307.3,854.4L305.9,855.0L304.7,855.8ZM386.0,715.4L386.9,715.6L387.9,715.6L389.0,715.5L390.2,715.3L391.5,715.3L392.6,715.5L393.7,715.9L394.7,716.4L395.7,716.9L395.3,715.7L395.3,714.2L395.6,712.6L396.2,711.0L396.9,709.6L397.6,708.5L398.1,707.5L398.4,706.5L398.7,705.6L399.0,704.6L399.4,703.8L399.9,702.9L400.5,702.0L401.0,701.2L401.6,700.3L402.2,699.6L402.7,698.9L403.3,698.3L403.9,697.7L404.6,697.1L403.3,696.5L401.9,695.7L400.4,694.8L399.1,694.0L398.0,693.4L397.0,693.5L396.1,693.9L395.3,694.4L394.5,694.8L393.6,694.8L392.8,693.9L391.9,692.7L390.8,691.5L390.3,692.3L389.7,693.3L389.1,694.4L388.5,695.5L387.9,696.7L387.3,697.8L386.7,698.7L386.0,699.6L385.2,700.3L384.4,701.1L383.5,701.9L382.6,702.8L381.8,704.0L381.2,705.3L380.7,706.8L380.7,706.9L381.8,708.1L382.8,709.3L383.8,710.3L384.6,711.3L385.1,712.3L385.4,713.3L385.7,714.3ZM386.0,715.4L385.5,716.3L385.1,717.2L384.9,718.0L384.7,718.7L384.4,719.4L384.1,720.1L383.6,720.9L383.1,721.7L383.6,722.3L384.0,723.2L384.5,724.3L385.0,725.6L385.6,726.9L386.4,728.2L387.4,729.2L388.4,730.0L389.5,730.6L390.6,731.0L391.6,731.4L392.5,731.9L393.3,732.6L393.8,733.4L394.3,734.4L394.4,734.5L394.8,733.6L395.2,732.7L395.4,731.8L395.7,731.1L395.5,729.8L395.3,728.8L395.1,727.9L394.7,727.0L394.4,726.1L394.3,725.1L394.4,723.9L394.9,722.6L395.5,721.4L396.2,720.4L396.7,719.6L396.8,719.0L396.7,718.5L396.3,717.8L395.7,716.9L394.7,716.4L393.7,715.9L392.6,715.5L391.5,715.3L390.2,715.3L389.0,715.5L387.9,715.6L386.9,715.6ZM303.5,819.0L302.4,819.0L301.3,819.1L300.1,819.2L299.1,820.1L298.2,821.2L297.6,822.5L297.3,823.9L297.2,825.3L297.3,826.6L297.4,827.8L297.3,829.0L297.1,830.0L296.7,831.1L296.3,832.1L295.8,833.2L295.4,834.3L296.0,835.7L296.5,837.0L296.8,837.9L297.0,838.6L297.3,839.1L297.8,839.7L298.6,840.4L299.7,841.3L301.3,840.7L302.8,840.4L304.2,840.3L305.4,840.5L306.4,840.7L307.5,840.7L308.6,840.4L309.7,839.8L310.8,839.1L311.8,838.4L312.7,837.8L313.5,837.5L314.1,837.4L314.8,837.6L315.2,836.5L315.7,835.4L316.1,834.4L316.4,833.5L316.8,832.4L317.1,831.3L317.5,830.1L317.0,829.2L316.3,828.1L315.6,827.1L314.6,826.0L313.5,825.1L312.2,824.3L311.0,823.8L309.7,823.5L308.6,823.3L307.7,823.0L306.8,822.6L306.0,821.9L305.2,821.0L304.4,820.0ZM278.9,824.7L279.8,825.8L281.0,826.9L282.4,828.1L283.5,829.2L284.3,830.2L284.5,831.0L284.4,831.9L284.2,832.9L284.8,833.2L285.6,833.1L286.5,832.9L287.8,832.7L289.4,832.5L291.1,832.7L292.7,833.1L294.2,833.7L295.4,834.3L295.8,833.2L296.3,832.1L296.7,831.1L297.1,830.0L297.3,829.0L297.4,827.8L297.3,826.6L297.2,825.3L297.3,823.9L297.6,822.5L298.2,821.2L299.1,820.1L300.1,819.2L299.2,818.9L298.6,818.8L298.1,818.8L297.7,818.8L296.9,818.7L295.8,818.3L294.3,817.8L292.4,817.2L290.6,816.5L288.9,816.0L287.7,815.5L286.8,815.1L286.2,814.7L285.7,814.3L284.9,815.2L284.3,816.3L283.8,817.5L283.3,818.7L282.8,819.9L282.2,821.0L281.4,822.0L280.5,822.9L279.6,823.8ZM251.7,767.6L251.6,765.9L251.7,764.2L252.1,762.7L252.7,761.4L253.4,760.4L254.0,759.7L254.3,758.9L254.3,758.1L254.2,757.0L254.0,755.8L254.1,754.5L254.3,753.3L254.8,752.2L255.2,751.2L255.6,750.4L254.5,750.1L253.4,749.4L252.4,748.5L251.4,747.4L250.6,746.3L249.9,745.4L249.3,744.7L247.9,745.4L246.4,746.1L245.0,746.8L243.8,747.3L242.8,747.6L241.9,747.8L241.1,748.0L240.3,748.2L239.3,748.4L238.2,748.8L236.9,749.3L235.6,749.8L234.4,750.3L233.2,750.8L232.3,751.2L231.5,751.6L231.8,752.4L232.2,753.0L232.8,753.5L233.5,753.9L234.1,754.5L234.9,755.3L235.8,756.4L236.6,757.8L237.4,759.3L237.9,760.8L238.5,762.0L238.8,762.9L239.1,763.6L239.4,764.0L239.9,764.3L240.5,764.5L241.6,764.3L242.8,764.2L244.2,764.4L245.6,764.8L246.9,765.4L248.0,766.2L248.1,767.3L248.3,768.4L248.3,769.4L248.2,770.3L248.9,770.1L249.5,770.0L250.0,769.7L250.5,769.2L251.0,768.5ZM414.7,865.3L414.6,866.5L414.7,867.6L415.0,868.6L415.2,869.4L415.3,870.3L416.4,870.6L417.5,871.2L418.5,872.2L419.3,873.4L420.0,874.6L418.9,874.5L417.7,874.4L416.5,874.5L415.3,874.7L415.9,875.8L416.5,876.9L417.1,878.0L417.7,878.9L418.3,879.8L418.9,880.7L419.2,881.8L419.5,883.0L420.1,884.1L420.7,884.9L421.7,885.0L422.6,885.1L423.3,885.5L424.0,886.0L424.7,886.7L425.5,887.4L426.4,888.1L427.3,888.7L428.3,889.0L429.2,889.2L429.9,888.0L430.5,886.8L431.0,885.7L431.5,884.7L431.8,883.6L432.1,882.4L432.3,881.4L432.4,880.2L432.3,879.1L432.2,878.1L431.9,877.2L431.7,876.4L431.5,875.6L431.8,874.8L432.4,873.9L433.1,872.8L434.0,871.5L434.8,870.2L434.1,869.7L433.2,868.9L432.2,868.1L430.8,867.4L429.3,867.0L427.7,866.9L426.2,867.2L424.9,867.6L423.8,867.9L422.8,867.8L421.7,867.5L420.5,866.9L419.1,866.2L417.5,865.6L416.0,865.3ZM434.8,870.2L435.2,869.2L435.4,868.2L435.5,867.3L434.9,866.3L434.3,865.6L433.8,864.9L433.4,864.2L433.2,863.4L433.2,862.4L433.2,861.2L433.2,859.9L432.9,858.7L432.7,857.7L432.5,856.8L432.5,855.9L432.5,855.0L432.5,853.9L432.3,852.7L432.3,851.3L432.0,849.9L431.6,848.7L431.0,847.6L430.2,846.7L429.5,845.9L429.2,845.0L429.0,844.0L428.9,842.9L428.8,841.7L428.4,842.9L427.9,844.0L427.4,844.9L427.1,845.7L427.0,846.5L427.2,847.4L427.5,848.6L427.7,850.1L426.4,850.5L425.3,851.0L424.2,851.8L423.2,852.6L422.3,853.3L421.2,853.9L420.2,854.6L419.1,855.1L418.1,855.4L417.1,855.8L416.3,856.2L415.5,856.6L415.3,857.5L415.0,858.4L414.7,859.2L414.2,860.2L413.6,861.3L414.0,862.0L414.2,862.6L414.5,863.2L415.1,863.9L414.7,865.3L416.0,865.3L417.5,865.6L419.1,866.2L420.5,866.9L421.7,867.5L422.8,867.8L423.8,867.9L424.9,867.6L426.2,867.2L427.7,866.9L429.3,867.0L430.8,867.4L432.2,868.1L433.2,868.9L434.1,869.7Z" fill="#f8c4a2" stroke="#fff" stroke-width="0.9" stroke-linejoin="round"/><path d="M310.9,761.4L311.7,762.5L312.0,763.5L312.0,764.3L311.6,765.2L311.2,766.0L311.2,767.1L311.5,768.5L312.1,770.1L313.0,771.8L313.8,773.4L315.3,773.7L316.8,773.8L318.2,773.6L319.3,773.2L320.2,772.8L321.1,772.6L322.1,772.6L323.4,772.9L324.9,773.3L326.4,773.5L327.8,773.6L329.1,773.4L330.1,773.0L330.9,772.6L331.6,772.4L332.1,771.7L332.7,771.2L333.3,770.7L334.1,770.3L334.8,770.0L335.7,769.5L335.4,768.1L335.2,766.3L335.3,764.6L335.6,762.9L335.8,761.6L335.7,760.5L335.2,759.7L334.4,758.9L333.2,758.2L332.2,757.3L331.0,757.1L330.2,757.0L329.4,756.7L328.6,756.3L327.7,755.8L326.6,755.2L325.4,754.7L324.3,754.4L323.2,754.2L322.2,754.1L321.1,754.1L320.1,754.0L318.8,754.6L317.4,755.2L316.0,755.8L314.7,756.4L313.6,756.9L312.8,757.5L312.1,758.0L311.7,758.6L311.5,759.4L311.2,760.4ZM354.3,748.4L355.1,747.7L355.9,747.2L356.8,746.7L357.7,746.1L358.6,745.4L359.5,744.6L360.4,743.6L361.1,742.6L361.8,741.6L361.4,740.2L360.9,738.8L360.4,737.6L359.9,736.6L359.6,735.9L359.5,735.2L359.6,734.5L359.7,733.6L359.6,732.7L358.2,732.7L356.7,732.8L355.3,732.6L353.9,732.0L352.7,731.1L351.4,730.1L350.2,729.1L348.9,728.6L347.7,728.5L346.5,728.8L345.5,729.2L344.7,729.3L343.9,729.0L342.9,729.3L342.0,729.3L341.1,729.2L340.2,729.0L339.7,729.4L339.4,729.8L339.2,730.3L338.8,730.9L338.3,731.8L337.5,732.9L336.6,734.3L335.7,735.8L334.8,737.2L335.2,738.7L335.8,739.9L336.8,741.0L337.7,741.9L338.4,742.9L338.9,743.9L339.2,745.1L339.5,746.4L339.9,747.6L340.9,747.5L341.8,747.5L342.7,747.6L343.8,747.8L345.1,748.2L346.6,748.5L348.1,748.8L349.6,748.9L350.9,748.9L351.9,748.6L352.7,748.4L353.4,748.3ZM377.2,736.9L376.3,737.6L375.5,738.1L374.9,738.3L374.2,738.4L373.5,738.5L372.6,738.7L371.4,738.9L370.1,739.2L368.7,739.6L367.2,740.1L365.9,740.5L364.8,741.0L363.8,741.5L362.9,742.0L363.6,742.7L364.2,743.2L365.0,743.6L365.9,744.1L367.0,744.9L368.2,746.0L369.5,747.3L370.6,748.8L371.5,750.1L372.2,751.1L372.7,751.8L373.0,752.2L373.4,752.5L374.0,752.8L374.8,753.3L375.1,752.3L375.6,751.4L376.2,750.4L377.1,749.5L378.1,748.4L379.3,747.8L380.4,747.3L381.4,746.8L382.3,746.3L383.0,745.8L383.6,745.2L383.9,744.4L384.1,743.7L384.3,743.0L384.6,742.3L385.0,741.7L384.5,741.1L383.8,740.4L383.0,739.6L381.9,738.9L380.7,738.3L379.4,737.8L378.2,737.3ZM350.3,817.0L351.8,816.9L353.3,816.6L354.6,816.2L355.7,815.8L356.5,815.4L357.3,815.1L358.1,815.0L359.1,815.0L360.2,815.1L361.5,815.2L362.9,815.2L364.2,815.1L365.4,814.9L366.5,814.7L367.5,814.5L368.2,813.6L368.7,813.0L369.0,812.5L368.8,812.0L368.3,811.2L367.7,810.1L367.2,808.7L367.0,807.2L367.1,805.7L367.4,804.3L367.9,803.0L367.3,802.6L366.6,802.0L365.6,801.4L364.3,800.7L362.8,800.1L361.4,799.6L360.1,799.1L359.0,798.6L358.1,798.2L357.4,797.7L356.6,797.3L355.7,796.8L354.6,796.3L353.3,795.7L352.1,795.2L352.0,796.2L351.8,797.3L351.8,798.7L351.9,800.2L352.1,801.8L352.3,803.2L352.3,804.4L352.0,805.2L351.6,806.0L351.1,806.7L350.7,807.6L350.6,808.9L350.7,810.3L350.8,811.8L350.8,813.3L350.7,814.6L350.4,815.8ZM350.2,830.7L350.0,829.2L350.1,827.9L350.6,826.8L351.3,825.9L351.8,824.9L352.1,823.8L351.9,822.5L351.3,821.0L350.7,819.6L350.2,818.3L350.0,817.1L348.7,816.7L347.6,816.3L346.8,816.1L346.2,816.0L345.6,816.1L344.9,816.2L344.0,816.4L342.9,816.3L341.6,816.1L340.3,815.6L339.1,816.4L337.9,817.0L336.8,817.6L335.9,818.1L335.2,818.6L334.7,819.3L334.2,820.1L333.7,821.1L333.1,822.4L332.3,823.7L331.4,825.1L332.2,825.9L332.7,826.7L333.0,827.4L333.2,828.1L333.5,828.8L333.9,829.4L334.5,830.1L335.2,831.0L336.0,832.0L336.7,833.1L337.3,834.1L337.9,835.2L338.5,836.1L339.2,836.9L339.9,836.8L340.6,836.7L341.7,837.0L342.8,837.1L343.9,837.3L345.0,837.5L345.3,836.6L345.6,835.9L346.2,835.5L346.8,835.2L347.5,834.9L348.2,834.5L348.8,833.8L349.3,833.0L349.8,831.9ZM362.9,742.0L362.4,741.8L361.8,741.6L361.1,742.6L360.4,743.6L359.5,744.6L358.6,745.4L357.7,746.1L356.8,746.7L355.9,747.2L355.1,747.7L354.3,748.4L354.2,749.6L353.9,751.1L353.7,752.6L353.9,754.1L354.5,755.4L355.4,756.5L356.4,757.5L357.2,758.5L357.4,759.7L357.2,760.9L358.2,761.5L359.1,762.3L359.9,763.1L360.6,763.8L361.5,764.3L362.5,764.5L363.6,764.4L365.0,764.2L366.5,764.0L367.9,764.0L369.1,764.4L370.2,765.0L370.6,764.8L371.0,764.6L371.4,764.3L371.8,763.8L371.9,762.7L372.2,761.5L372.7,760.1L373.4,758.7L374.0,757.2L374.4,755.8L374.7,754.5L374.8,753.3L374.0,752.8L373.4,752.5L373.0,752.2L372.7,751.8L372.2,751.1L371.5,750.1L370.6,748.8L369.5,747.3L368.2,746.0L367.0,744.9L365.9,744.1L365.0,743.6L364.2,743.2L363.6,742.7ZM322.2,793.7L322.3,794.7L322.8,795.8L323.7,796.9L324.5,798.1L325.1,799.4L325.4,800.6L325.3,801.6L325.0,802.4L324.7,803.3L325.5,803.1L326.3,802.7L327.1,802.5L328.1,802.6L329.2,803.0L330.6,803.8L332.1,804.8L333.6,805.8L334.9,806.5L335.9,806.9L336.6,807.0L337.2,805.8L337.7,804.5L338.1,803.4L338.7,802.3L339.3,801.3L340.2,800.6L341.2,799.9L342.2,799.3L343.2,798.7L344.1,797.9L344.7,797.0L345.2,795.9L345.5,794.7L345.9,793.4L344.5,793.0L343.1,792.4L341.8,791.8L340.6,791.1L339.6,790.3L338.9,789.6L338.4,789.1L337.9,788.8L337.2,788.7L336.4,788.7L335.3,788.7L334.1,788.4L332.7,788.0L331.4,787.3L330.8,787.7L330.2,788.3L329.3,788.9L328.3,789.7L326.9,790.7L325.4,791.8L323.8,792.8ZM338.4,770.7L339.6,770.3L340.8,769.6L342.1,768.8L343.4,768.0L344.9,767.4L346.4,767.3L347.9,767.4L349.1,767.8L350.1,768.0L350.8,768.0L351.1,767.2L351.5,766.3L351.9,765.4L352.6,764.4L353.5,763.4L354.6,762.5L355.9,761.7L357.2,760.9L357.4,759.7L357.2,758.5L356.4,757.5L355.4,756.5L354.5,755.4L353.9,754.1L353.7,752.6L353.9,751.1L354.2,749.6L354.3,748.4L353.4,748.3L352.7,748.4L351.9,748.6L350.9,748.9L349.6,748.9L348.1,748.8L346.6,748.5L345.1,748.2L343.8,747.8L342.7,747.6L341.8,747.5L340.9,747.5L339.9,747.6L339.5,748.8L339.0,749.9L338.3,751.0L337.3,751.9L336.3,752.7L335.1,753.5L334.0,754.2L333.1,754.9L332.5,755.6L332.2,756.4L332.2,757.3L333.2,758.2L334.4,758.9L335.2,759.7L335.7,760.5L335.8,761.6L335.6,762.9L335.3,764.6L335.2,766.3L335.4,768.1L335.7,769.5L337.0,770.3ZM369.5,780.6L369.1,781.5L368.8,782.3L369.5,783.1L370.0,783.6L370.3,784.1L370.3,784.7L370.1,785.5L370.1,786.5L370.3,787.6L370.8,788.7L371.7,789.8L372.7,790.9L373.6,792.0L374.2,793.2L374.6,794.5L374.8,795.8L375.0,797.1L376.0,797.4L376.9,797.6L377.9,797.5L379.0,797.3L380.3,797.1L381.8,797.1L383.4,797.1L385.0,797.4L386.5,797.7L385.4,796.7L384.2,795.6L385.7,795.3L387.2,795.1L388.4,794.9L389.4,794.4L390.2,793.7L390.9,792.8L391.0,791.6L391.2,790.4L391.3,789.2L391.6,788.1L392.1,787.1L391.5,786.6L391.2,786.1L391.0,785.5L390.9,784.4L390.7,783.1L390.2,781.7L389.5,780.6L388.6,779.6L387.6,778.7L386.6,778.0L385.6,777.5L384.1,777.7L382.5,778.1L381.1,778.5L379.8,778.8L378.7,779.1L377.5,779.2L376.3,779.2L375.0,779.2L373.7,779.2L372.6,779.3L371.7,779.6L370.9,780.0L370.3,780.3ZM370.2,765.0L370.2,766.1L370.0,767.2L369.6,768.5L369.2,769.6L368.9,770.7L369.0,771.7L369.2,772.8L369.5,774.1L369.6,775.6L369.6,777.3L369.5,779.1L369.5,780.6L370.3,780.3L370.9,780.0L371.7,779.6L372.6,779.3L373.7,779.2L375.0,779.2L376.3,779.2L377.5,779.2L378.7,779.1L379.8,778.8L381.1,778.5L382.5,778.1L384.1,777.7L385.6,777.5L385.5,777.4L386.5,776.8L387.5,776.2L388.4,775.6L389.2,775.1L390.0,774.6L389.7,773.4L389.2,772.2L388.4,771.3L387.5,770.6L386.4,770.1L385.7,769.5L385.1,768.8L384.6,768.0L384.1,766.8L383.7,765.5L382.8,764.6L382.1,763.6L381.5,762.7L380.9,761.9L380.1,761.2L378.9,761.4L377.5,761.7L376.1,762.3L374.7,763.0L373.5,763.7L373.3,764.7L373.1,765.7L372.9,766.7L372.6,767.7L372.2,768.5L371.7,769.3L371.1,769.9L370.5,770.5L370.9,769.6L371.4,768.6L371.7,767.5L371.8,766.3L371.8,765.2L371.8,764.2L371.8,763.8L371.4,764.3L371.0,764.6L370.6,764.8ZM369.3,831.7L369.9,831.2L370.6,830.8L370.1,829.8L369.6,828.6L369.3,827.1L369.1,825.5L369.1,824.0L369.2,822.6L369.2,821.4L369.0,820.3L368.5,819.3L367.9,818.1L367.4,816.8L367.3,815.6L367.6,814.5L367.5,814.5L366.5,814.7L365.4,814.9L364.2,815.1L362.9,815.2L361.5,815.2L360.2,815.1L359.1,815.0L358.1,815.0L357.3,815.1L356.5,815.4L355.7,815.8L354.6,816.2L353.3,816.6L351.8,816.9L350.3,817.0L350.0,817.1L350.2,818.3L350.7,819.6L351.3,821.0L351.9,822.5L352.1,823.8L351.8,824.9L351.3,825.9L350.6,826.8L350.1,827.9L350.0,829.2L350.2,830.7L351.5,830.4L352.9,830.1L354.3,830.0L355.5,830.1L356.8,830.5L358.0,831.1L359.3,831.7L360.6,832.1L361.9,832.1L363.0,831.8L363.9,831.3L364.7,830.9L365.5,830.7L366.5,830.8L367.7,831.2ZM383.1,721.7L382.1,722.3L381.0,723.1L379.9,723.9L378.8,724.7L377.7,725.4L376.6,725.9L376.9,727.3L377.3,728.6L377.7,729.9L377.8,731.1L377.7,732.2L377.5,733.2L377.2,734.3L377.1,735.5L377.2,736.9L378.2,737.3L379.4,737.8L380.7,738.3L381.9,738.9L383.0,739.6L383.8,740.4L384.5,741.1L385.0,741.7L385.6,740.8L385.9,739.9L386.1,738.9L386.2,737.7L386.3,736.4L387.2,735.9L388.2,735.4L389.3,734.7L390.6,734.7L391.8,734.5L392.8,734.3L393.6,734.3L394.3,734.4L393.8,733.4L393.3,732.6L392.5,731.9L391.6,731.4L390.6,731.0L389.5,730.6L388.4,730.0L387.4,729.2L386.4,728.2L385.6,726.9L385.0,725.6L384.5,724.3L384.0,723.2L383.6,722.3Z" fill="#f2a37d" stroke="#fff" stroke-width="0.9" stroke-linejoin="round"/><path d="M369.5,780.6L369.5,779.1L369.6,777.3L369.6,775.6L369.5,774.1L369.2,772.8L369.0,771.7L368.9,770.7L369.2,769.6L369.6,768.5L370.0,767.2L370.2,766.1L370.2,765.0L369.1,764.4L367.9,764.0L366.5,764.0L365.0,764.2L363.6,764.4L362.5,764.5L361.5,764.3L360.6,763.8L359.9,763.1L359.1,762.3L358.2,761.5L357.2,760.9L355.9,761.7L354.6,762.5L353.5,763.4L352.6,764.4L351.9,765.4L351.5,766.3L351.1,767.2L350.8,768.0L351.0,768.8L351.1,769.7L351.2,770.7L351.7,771.8L352.6,772.9L353.7,774.0L354.9,775.0L356.0,776.0L356.6,777.0L356.8,778.0L356.6,779.2L356.5,780.4L356.6,781.6L357.1,782.5L358.1,783.2L359.1,782.6L360.3,782.3L361.6,782.1L363.1,782.2L364.7,782.4L366.3,782.5L367.7,782.5L368.8,782.3L369.1,781.5ZM387.6,815.1L387.0,816.3L386.7,817.2L386.7,817.9L386.8,818.6L386.9,819.4L386.9,820.3L386.8,821.5L386.7,822.8L386.5,824.1L386.4,825.4L386.2,826.6L386.0,827.6L385.6,828.6L385.1,829.6L385.6,829.9L386.0,830.4L386.6,831.1L387.3,832.0L388.3,833.0L389.4,834.0L390.5,834.9L391.6,835.7L392.4,836.4L392.5,836.4L393.0,836.0L393.6,835.7L394.1,835.4L394.7,834.8L395.2,834.0L395.7,833.0L396.3,832.3L396.9,831.4L397.4,830.5L398.3,829.6L399.2,828.8L400.2,828.3L401.3,827.7L402.4,827.2L402.9,826.3L403.4,825.6L403.8,825.0L404.2,824.5L404.7,824.1L404.8,823.5L405.0,822.8L405.3,822.0L404.1,821.5L402.9,821.0L401.7,820.6L400.7,820.4L399.8,820.4L399.0,820.5L398.3,820.3L397.4,819.9L396.3,819.4L394.7,818.8L393.0,818.2L391.2,817.7L390.2,817.0L389.4,816.4L389.0,815.7L389.0,814.7L389.3,813.6L389.4,813.5L388.5,814.3ZM310.4,787.5L312.1,787.7L314.1,788.0L315.9,788.5L317.5,789.2L318.5,790.0L319.1,790.8L319.4,791.6L319.6,792.3L320.1,792.9L321.0,793.4L322.2,793.7L323.8,792.8L325.4,791.8L326.9,790.7L328.3,789.7L329.3,788.9L330.2,788.3L330.8,787.7L331.4,787.3L330.7,785.9L330.1,784.7L329.8,783.6L329.9,782.7L330.4,781.8L331.0,780.8L331.6,779.6L331.9,778.1L331.9,776.5L331.8,774.9L331.7,773.5L331.6,772.4L330.9,772.6L330.1,773.0L329.1,773.4L327.8,773.6L326.4,773.5L324.9,773.3L323.4,772.9L322.1,772.6L321.1,772.6L320.2,772.8L319.3,773.2L318.2,773.6L316.8,773.8L315.3,773.7L313.8,773.4L313.5,774.4L313.2,775.2L312.9,776.0L312.7,776.6L312.5,777.3L312.2,778.1L311.9,779.0L311.3,780.1L310.6,781.4L309.7,782.7L309.3,783.9L309.0,785.0L309.1,785.9L309.5,786.7ZM358.1,783.2L357.1,782.5L356.6,781.6L356.5,780.4L356.6,779.2L356.8,778.0L356.6,777.0L356.0,776.0L354.9,775.0L353.7,774.0L352.6,772.9L351.7,771.8L351.2,770.7L351.1,769.7L351.0,768.8L350.8,768.0L350.1,768.0L349.1,767.8L347.9,767.4L346.4,767.3L344.9,767.4L343.4,768.0L342.1,768.8L340.8,769.6L339.6,770.3L338.4,770.7L339.1,771.4L339.8,772.0L340.3,772.6L340.8,773.4L341.3,774.3L341.8,775.4L342.2,776.5L342.7,777.5L343.1,778.5L343.5,779.5L344.0,780.7L344.8,781.9L345.8,783.2L347.0,784.4L348.1,785.4L348.9,786.1L349.3,786.7L349.4,787.2L349.2,787.9L349.0,788.8L349.1,790.0L349.5,791.3L350.3,790.7L351.3,790.2L352.5,789.7L353.7,789.1L354.8,788.5L355.7,787.8L356.5,787.0L357.0,786.1L357.4,785.1L357.7,784.1ZM284.1,754.0L282.8,753.5L281.5,753.2L280.2,752.9L278.9,752.8L277.5,752.7L276.2,752.5L275.1,752.1L274.3,751.6L273.6,751.0L273.0,750.4L272.4,749.9L271.4,749.6L270.2,749.5L270.5,750.5L270.6,751.6L270.5,752.8L270.4,754.0L270.2,755.0L270.0,756.0L269.6,757.0L269.1,758.0L268.5,759.1L268.1,760.4L268.0,761.8L268.3,763.0L269.0,764.1L269.7,765.1L270.2,765.9L270.3,766.9L270.0,768.1L269.4,769.5L270.2,770.1L270.8,770.7L271.5,771.1L272.3,771.3L273.2,771.4L274.4,771.5L275.6,771.5L276.9,771.6L278.1,771.8L278.7,771.1L279.3,770.5L280.0,770.1L280.8,769.7L281.8,769.3L283.0,768.8L284.3,768.1L285.7,767.2L287.0,766.1L288.1,765.0L289.1,763.8L287.8,763.0L286.5,762.4L285.4,761.7L284.8,760.9L284.7,759.8L284.9,758.5L285.1,757.2L285.0,756.0L284.7,755.0Z" fill="#ec8252" stroke="#fff" stroke-width="0.9" stroke-linejoin="round"/><path d="M352.1,795.2L353.3,795.7L354.6,796.3L355.7,796.8L356.6,797.3L357.4,797.7L358.1,798.2L359.0,798.6L360.1,799.1L361.4,799.6L362.8,800.1L364.3,800.7L365.6,801.4L366.6,802.0L367.3,802.6L367.9,803.0L368.7,802.1L369.5,801.3L370.3,800.4L371.1,799.7L371.9,799.0L372.7,798.5L373.5,798.0L374.3,797.6L375.0,797.1L374.8,795.8L374.6,794.5L374.2,793.2L373.6,792.0L372.7,790.9L371.7,789.8L370.8,788.7L370.3,787.6L370.1,786.5L370.1,785.5L370.3,784.7L370.3,784.1L370.0,783.6L369.5,783.1L368.8,782.3L367.7,782.5L366.3,782.5L364.7,782.4L363.1,782.2L361.6,782.1L360.3,782.3L359.1,782.6L358.1,783.2L357.7,784.1L357.4,785.1L357.0,786.1L356.5,787.0L355.7,787.8L354.8,788.5L353.7,789.1L352.5,789.7L351.3,790.2L350.3,790.7L349.5,791.3L349.2,792.1L349.9,793.0L350.6,793.9L351.4,794.6Z" fill="#e4592b" stroke="#fff" stroke-width="0.9" stroke-linejoin="round"/><path d="M308.0,646.2L306.9,646.0L305.7,646.0L304.5,646.1L303.3,646.4L302.3,646.8L301.3,647.4L300.3,648.0L299.4,648.8L298.3,649.5L297.2,650.1L296.0,650.6L294.9,651.0L293.8,651.3L293.8,652.4L294.0,653.4L294.4,654.1L295.0,654.8L295.2,655.5L295.3,656.4L295.4,657.4L295.3,658.5L295.2,659.7L295.1,660.9L295.2,662.0L295.1,662.9L295.0,663.8L295.1,664.6L295.0,665.6L294.8,666.9L293.6,667.1L292.4,667.5L291.6,668.6L291.0,669.6L290.6,670.7L289.9,671.8L289.3,672.8L288.7,673.7L288.1,674.6L287.3,675.3L286.2,675.5L284.9,675.7L283.5,675.8L282.1,676.1L280.9,676.4L280.0,676.9L279.3,677.4L278.6,677.9L277.8,678.3L276.9,678.7L275.9,679.0L274.7,679.4L273.4,679.7L272.1,680.1L271.0,681.0L270.1,682.2L269.5,683.5L269.2,684.8L269.0,686.1L270.2,686.6L271.6,686.9L273.1,687.0L274.5,686.9L273.7,687.5L272.9,688.0L272.0,688.6L271.0,689.1L270.1,689.4L268.9,689.4L267.9,689.3L266.9,689.3L265.9,689.4L264.8,689.6L263.6,689.6L262.5,689.6L261.4,689.7L260.4,689.6L259.4,689.4L258.6,689.0L257.7,688.5L256.6,687.9L255.4,687.3L253.9,686.9L252.4,686.6L251.1,686.9L250.0,687.3L249.0,687.7L248.5,686.6L248.1,685.7L247.9,684.9L247.9,684.3L248.1,683.6L248.9,682.7L249.7,681.5L250.2,680.0L249.0,680.1L247.8,680.1L246.4,680.0L244.8,680.0L243.2,680.0L241.9,679.5L240.6,679.1L239.6,678.8L238.7,678.4L237.9,678.1L238.3,679.1L238.5,680.2L238.5,681.4L238.5,682.7L238.5,683.8L238.7,684.9L239.1,685.9L239.6,687.0L240.3,688.1L240.8,689.4L241.2,690.9L241.5,692.4L241.8,693.8L242.2,694.8L242.7,695.6L243.1,696.1L243.1,696.7L243.0,697.4L242.8,698.3L242.5,699.3L242.4,700.4L243.0,701.1L243.8,701.8L244.8,702.5L245.9,703.2L246.8,704.3L246.1,704.5L245.2,705.1L243.8,705.1L242.3,705.5L240.7,705.8L239.3,705.8L238.1,705.4L237.4,705.4L236.7,705.3L236.1,705.2L235.4,704.7L234.5,704.4L233.4,704.4L232.1,704.7L230.5,705.0L229.3,705.9L228.1,706.7L227.2,707.1L226.4,707.3L225.9,707.5L225.5,707.6L224.9,707.8L224.2,708.1L223.0,707.0L221.8,706.1L220.7,705.2L220.0,704.2L219.5,703.3L219.2,702.6L219.0,702.0L218.6,701.5L217.4,701.7L216.3,701.4L215.2,700.7L214.1,699.9L213.0,699.2L211.8,698.7L211.1,699.6L210.3,700.5L209.4,701.5L208.3,702.1L207.3,702.6L206.6,702.8L205.9,702.7L205.1,702.1L204.0,701.3L202.8,700.9L201.4,700.7L200.0,700.8L198.6,701.3L197.4,702.0L196.4,702.8L195.6,703.8L194.8,704.4L194.1,704.7L193.3,704.8L192.5,705.1L191.7,705.3L190.8,705.5L189.9,705.8L189.8,706.6L189.7,707.3L189.7,708.1L189.5,709.0L190.8,709.0L192.1,709.2L193.3,709.4L194.4,709.5L195.3,709.5L196.2,710.1L197.0,710.9L197.8,711.6L196.7,711.6L195.6,711.6L194.6,711.5L193.5,711.3L192.6,711.8L191.6,712.3L192.2,712.9L192.7,713.5L193.2,714.0L193.9,714.5L194.5,715.0L195.2,715.5L195.9,716.0L195.1,716.1L194.4,716.1L193.8,716.2L193.0,716.2L191.9,716.5L190.6,716.9L189.0,717.4L190.8,717.5L192.4,717.7L193.7,718.1L194.6,718.7L195.3,719.4L195.4,721.0L195.2,722.6L194.8,723.9L194.4,724.9L195.5,724.8L196.7,724.6L198.2,724.2L199.7,723.8L200.9,723.7L202.1,723.5L203.0,723.4L203.8,723.8L204.5,724.2L205.1,724.6L205.9,725.1L206.8,725.7L207.9,726.3L209.1,727.1L210.3,728.1L211.5,729.0L212.5,729.8L213.3,730.5L214.0,731.0L214.6,731.4L215.3,731.6L215.3,732.3L215.4,733.0L215.4,733.9L216.2,733.0L217.1,732.3L218.1,731.8L219.1,732.2L220.1,732.9L221.0,733.6L221.9,734.4L223.0,735.3L223.9,736.0L224.9,736.4L225.8,736.5L225.4,737.4L225.0,738.2L224.5,738.9L224.2,739.8L225.2,739.3L226.3,738.8L227.6,738.6L228.9,738.8L230.2,739.5L230.8,740.7L231.5,742.1L232.2,743.4L232.7,744.6L233.3,745.5L233.8,746.2L234.1,746.8L233.2,747.2L232.4,747.5L231.4,747.7L230.2,748.0L230.7,749.1L231.0,750.3L231.4,751.4L231.8,752.3L232.2,753.0L232.8,753.5L233.5,753.9L234.1,754.5L234.9,755.3L235.8,756.4L236.6,757.8L237.4,759.3L237.9,760.8L238.5,762.0L238.8,762.9L239.1,763.6L239.4,764.0L239.9,764.3L240.5,764.5L241.6,764.3L242.8,764.2L244.2,764.4L245.6,764.8L246.9,765.4L248.0,766.2L248.1,767.4L248.3,768.6L248.3,769.6L248.1,770.4L248.2,771.3L248.0,771.9L248.0,772.6L248.2,773.3L248.8,774.4L248.3,775.0L247.8,775.8L247.4,776.8L246.8,777.8L246.7,778.8L246.6,779.7L246.3,780.5L247.5,780.9L248.3,781.4L248.9,782.2L249.2,783.0L249.3,784.0L249.6,785.1L250.2,786.1L251.0,786.9L252.1,787.6L253.2,788.2L254.4,788.7L255.1,789.4L255.8,790.3L256.4,791.4L256.9,792.8L257.2,794.4L257.4,795.9L257.3,797.4L257.3,796.1L257.2,794.7L256.9,793.3L256.5,791.9L255.9,790.8L254.8,789.9L253.6,789.2L252.3,788.8L251.2,788.3L250.2,787.7L249.5,786.9L249.0,785.8L248.7,784.5L248.5,785.8L248.2,787.1L247.8,788.3L247.3,789.5L246.7,790.6L246.2,791.7L246.2,792.8L246.4,794.1L246.7,795.5L246.9,797.0L247.0,798.5L246.8,799.8L246.4,800.8L246.0,801.5L245.7,802.1L245.7,802.6L245.7,803.2L245.9,804.0L245.9,805.1L245.8,806.3L245.4,807.6L246.3,807.8L247.0,807.8L247.6,807.7L246.8,808.6L246.0,809.4L245.2,810.1L244.5,810.6L244.2,811.5L244.2,812.4L244.3,813.3L244.4,814.3L244.3,815.5L244.1,816.7L243.7,817.9L243.4,819.1L243.0,820.1L242.8,821.1L242.7,822.1L242.5,823.2L242.3,824.4L242.1,825.7L241.8,827.0L241.6,828.2L241.6,829.2L241.6,830.1L241.8,831.0L241.7,831.8L241.5,832.7L240.6,833.8L239.4,835.1L238.2,836.5L237.0,837.5L236.1,838.4L235.3,838.6L234.6,838.8L234.1,839.2L233.6,839.8L234.0,840.5L234.6,841.3L235.5,841.8L236.7,842.5L238.2,843.2L239.9,843.6L241.6,843.8L241.9,844.6L242.0,845.6L241.9,846.7L241.8,847.8L241.6,848.8L242.6,849.0L243.4,849.1L244.1,849.3L244.9,849.4L246.0,849.6L247.4,849.8L248.9,849.9L250.0,850.4L251.0,851.0L251.8,851.7L252.4,852.6L252.8,853.6L253.5,854.0L254.1,854.4L254.9,854.7L255.9,854.9L257.2,854.9L258.7,854.8L260.3,854.6L261.9,854.8L263.3,855.1L264.5,855.6L265.5,856.2L266.3,856.9L267.1,857.6L267.9,858.2L268.9,858.2L270.0,858.0L271.1,857.8L272.2,857.7L273.3,857.9L274.6,858.3L276.0,858.8L277.6,859.3L279.2,859.6L279.7,858.6L279.9,857.4L279.8,856.2L279.4,855.1L281.1,855.5L282.7,855.7L283.9,855.8L284.7,855.9L285.4,856.2L285.9,856.9L286.4,857.7L287.0,858.6L287.8,859.4L288.7,860.1L289.8,860.5L290.8,860.8L291.8,861.0L292.7,861.1L293.7,861.3L294.6,861.7L295.7,862.4L296.8,863.3L298.1,864.3L299.4,865.1L300.6,865.8L301.7,866.2L302.5,866.4L303.3,866.5L304.0,866.3L304.8,866.2L305.8,866.2L306.9,866.5L308.1,866.9L309.3,867.5L310.4,868.1L311.3,868.6L312.2,868.9L313.0,868.4L313.8,867.8L314.9,867.0L316.1,866.3L317.4,865.8L318.7,865.4L320.0,865.1L320.9,865.6L321.7,866.1L322.4,866.4L323.1,866.4L323.9,866.2L323.4,865.2L323.1,864.1L322.9,863.0L322.9,861.9L322.7,860.9L322.4,859.8L322.1,858.7L321.8,857.5L321.8,856.1L322.0,854.8L322.2,853.7L322.3,852.7L322.5,852.0L322.6,851.3L322.5,850.4L322.4,849.4L322.6,848.3L322.9,847.2L323.4,846.1L323.9,845.0L324.7,844.9L325.6,844.8L326.8,844.7L328.1,844.5L329.5,843.9L330.9,843.2L332.2,842.3L333.4,841.4L334.3,840.5L335.1,839.5L335.7,838.7L336.2,838.0L336.8,837.5L337.4,837.0L338.4,837.0L339.5,836.9L340.6,836.7L341.7,837.0L342.9,837.1L343.9,837.3L345.0,837.5L345.9,837.9L346.9,838.6L347.8,839.3L348.7,840.2L349.6,841.2L350.7,841.5L351.7,841.7L352.6,841.7L353.4,841.7L354.1,841.5L354.6,841.4L355.3,841.3L356.1,841.2L357.2,841.2L358.8,841.1L360.5,841.1L362.1,841.2L363.6,841.3L364.0,841.8L364.3,842.3L364.5,842.8L365.1,843.2L365.6,843.6L366.3,844.0L367.2,844.4L368.5,845.0L370.1,845.6L371.8,846.3L373.4,847.0L374.8,847.2L376.0,847.2L377.0,847.6L377.7,847.8L378.4,847.9L379.1,848.0L380.0,847.5L380.9,847.1L381.8,846.8L382.5,846.5L383.3,846.5L384.1,846.4L384.9,846.4L385.7,846.2L386.8,845.9L386.7,844.9L386.8,843.6L387.1,842.1L387.5,840.6L388.0,839.1L389.1,838.2L390.2,837.5L391.4,836.9L392.5,836.4L393.0,836.0L393.6,835.7L394.1,835.4L394.7,834.8L395.2,834.0L395.7,833.0L396.3,832.3L396.9,831.4L397.4,830.5L398.3,829.6L399.2,828.8L400.2,828.3L401.3,827.7L402.4,827.2L402.9,826.3L403.4,825.6L403.8,825.0L404.2,824.5L404.7,824.1L404.8,823.5L405.0,822.8L405.3,822.0L404.1,821.5L402.9,821.0L401.7,820.6L400.7,820.4L399.8,820.4L399.0,820.5L398.3,820.3L397.4,819.9L396.3,819.4L394.7,818.8L393.0,818.2L391.2,817.7L390.2,817.0L389.4,816.4L389.0,815.7L389.0,814.7L389.3,813.6L390.3,811.9L391.1,810.3L391.4,808.8L391.1,807.6L390.5,806.7L391.0,806.4L391.5,806.0L392.1,805.6L390.8,805.0L389.6,804.3L388.8,803.3L388.2,802.3L387.9,801.3L387.8,800.3L387.7,799.6L387.4,798.9L387.0,798.2L386.3,797.5L385.3,796.6L384.2,795.6L385.7,795.3L387.2,795.1L388.4,794.9L389.4,794.4L390.2,793.7L390.9,792.8L391.0,791.6L391.2,790.4L391.3,789.2L391.6,788.1L392.1,787.1L391.5,786.6L391.2,786.1L391.0,785.5L390.9,784.4L390.7,783.1L390.2,781.7L389.4,780.6L388.6,779.6L387.6,778.7L386.5,778.0L385.5,777.4L386.5,776.8L387.5,776.2L388.4,775.6L389.2,775.1L390.0,774.6L389.7,773.4L389.2,772.2L388.4,771.3L387.5,770.6L386.4,770.1L385.7,769.5L385.1,768.8L384.6,768.0L384.1,766.8L383.7,765.5L382.8,764.6L382.1,763.6L381.5,762.7L380.9,761.9L380.1,761.2L378.9,761.4L377.5,761.7L376.1,762.3L374.7,763.0L373.5,763.7L373.3,764.7L373.1,765.7L372.9,766.7L372.6,767.7L372.2,768.5L371.7,769.3L371.1,769.9L370.5,770.5L370.9,769.6L371.4,768.6L371.7,767.5L371.8,766.3L371.8,765.2L371.8,764.2L371.8,763.3L372.0,762.3L372.3,761.3L372.7,760.1L373.4,758.7L374.0,757.3L374.4,755.9L374.6,754.6L374.8,753.4L375.1,752.4L375.5,751.4L376.2,750.5L377.1,749.5L378.1,748.4L379.3,747.8L380.4,747.3L381.4,746.8L382.3,746.3L383.0,745.8L383.6,745.2L383.9,744.4L384.1,743.6L384.4,742.9L384.7,742.2L385.1,741.5L385.6,740.8L385.9,739.9L386.1,738.9L386.2,737.7L386.3,736.4L387.2,735.9L388.2,735.4L389.3,734.7L390.7,734.7L391.9,734.5L392.9,734.3L393.7,734.3L394.4,734.5L394.8,733.6L395.2,732.7L395.4,731.8L395.7,731.1L395.5,729.8L395.3,728.8L395.1,727.9L394.7,727.0L394.4,726.1L394.3,725.1L394.4,723.9L394.9,722.6L395.5,721.4L396.2,720.4L396.7,719.6L396.8,719.0L396.7,718.5L396.2,717.8L395.7,716.8L395.3,715.6L395.3,714.1L395.6,712.6L396.2,711.0L396.9,709.6L397.6,708.5L398.1,707.5L398.4,706.5L398.7,705.6L399.0,704.6L399.4,703.8L399.9,702.9L400.5,702.0L401.0,701.2L401.6,700.3L402.2,699.6L402.7,698.9L403.3,698.3L403.9,697.7L404.6,697.1L403.3,696.5L401.9,695.7L400.4,694.8L399.1,694.0L398.0,693.4L397.0,693.5L396.1,693.9L395.3,694.4L394.5,694.8L393.6,694.8L393.0,694.0L392.2,693.0L391.3,692.0L390.2,691.0L389.1,691.0L388.2,691.3L387.2,692.0L386.2,692.9L385.0,693.9L383.7,694.0L382.4,693.8L381.3,693.4L380.2,692.7L379.3,691.5L378.6,690.1L378.0,688.7L377.6,687.6L377.1,686.7L376.6,686.0L375.9,685.5L374.8,685.6L373.5,685.7L372.4,685.6L371.2,685.7L370.3,685.6L369.6,685.4L369.0,685.1L368.6,684.7L368.1,684.4L367.2,684.2L366.1,684.1L364.8,684.0L363.3,684.7L361.9,685.2L360.6,685.5L359.4,685.7L358.4,685.6L357.7,684.3L356.9,683.1L356.2,682.0L355.6,681.2L355.1,680.5L354.5,679.9L353.3,679.8L352.0,679.6L350.8,679.2L349.7,678.8L348.7,678.3L347.8,677.9L347.7,676.7L347.5,675.5L347.4,674.4L347.3,673.5L347.4,672.7L347.9,672.0L348.2,671.2L348.4,670.3L348.5,669.3L347.8,670.0L347.0,670.7L346.0,671.2L345.1,671.9L344.1,672.4L343.0,672.8L341.8,673.2L340.6,673.7L339.7,673.4L338.9,673.1L338.1,673.1L337.4,673.2L336.5,673.4L337.0,672.4L337.4,671.4L337.5,670.2L337.3,668.8L337.1,667.4L336.9,666.1L337.1,664.9L336.1,664.9L335.0,665.0L333.8,664.9L332.6,664.8L331.5,665.0L330.5,665.1L329.5,665.2L328.6,665.3L328.9,664.6L329.2,663.7L329.4,662.7L329.2,661.5L328.2,661.0L327.0,660.7L325.7,660.4L324.3,660.2L323.0,660.1L321.8,660.0L321.2,659.0L320.8,658.1L320.5,657.3L320.4,656.5L320.3,655.4L320.2,654.3L319.9,653.0L319.2,653.5L318.5,653.8L317.5,654.2L316.3,654.8L315.2,653.9L314.1,653.0L313.0,652.4L312.0,652.0L311.2,651.7L311.1,650.7L311.0,650.0L310.9,649.2L310.8,648.3L310.6,647.2L310.2,646.0L309.5,646.1L308.8,646.2ZM427.4,844.9L427.1,845.7L427.0,846.5L427.2,847.4L427.5,848.6L427.7,850.1L426.4,850.5L425.3,851.0L424.2,851.8L423.2,852.6L422.3,853.3L421.2,853.9L420.2,854.6L419.1,855.1L418.1,855.4L417.1,855.8L416.3,856.2L415.5,856.6L415.3,857.5L415.0,858.4L414.7,859.2L414.2,860.2L413.6,861.3L414.0,862.0L414.2,862.6L414.5,863.2L415.1,863.9L414.7,865.3L414.6,866.5L414.7,867.6L415.0,868.6L415.2,869.4L415.3,870.3L416.4,870.6L417.5,871.2L418.5,872.2L419.3,873.4L420.0,874.6L418.9,874.5L417.7,874.4L416.5,874.5L415.3,874.7L415.9,875.8L416.5,876.9L417.1,878.0L417.7,878.9L418.3,879.8L418.9,880.7L419.2,881.8L419.5,883.0L420.1,884.1L420.7,884.9L421.7,885.0L422.6,885.1L423.3,885.5L424.0,886.0L424.7,886.7L425.5,887.4L426.4,888.1L427.3,888.7L428.3,889.0L429.2,889.2L429.9,888.0L430.5,886.8L431.0,885.7L431.5,884.7L431.8,883.6L432.1,882.4L432.3,881.4L432.4,880.2L432.3,879.1L432.2,878.1L431.9,877.2L431.7,876.4L431.5,875.6L431.8,874.8L432.4,873.8L433.2,872.7L434.1,871.3L434.9,869.9L435.3,868.5L435.5,867.3L434.9,866.3L434.3,865.6L433.8,864.9L433.4,864.2L433.2,863.4L433.2,862.4L433.2,861.2L433.2,859.9L432.9,858.7L432.7,857.7L432.5,856.8L432.5,855.9L432.5,855.0L432.5,853.9L432.3,852.7L432.3,851.3L432.0,849.9L431.6,848.7L431.0,847.6L430.2,846.7L429.5,845.9L429.2,845.0L429.0,844.0L428.9,842.9L428.8,841.7L428.4,842.9L427.9,844.0Z" fill="none" stroke="#4d4d4d" stroke-width="1.05" stroke-linejoin="round"/><line x1="386.4" y1="867" x2="425.4" y2="828" stroke="#e3e3e6" stroke-width="1"/><rect x="480" y="761.2" width="8" height="8.5" fill="#e4592b"/><rect x="480" y="779.3" width="8" height="8.5" fill="#ec8252"/><rect x="480" y="796.4" width="8" height="8.5" fill="#f2a37d"/><rect x="480" y="814.2" width="8" height="8.5" fill="#f8c4a2"/><rect x="480" y="831.6" width="8" height="8.5" fill="#fde6cd"/><rect x="480" y="849.1" width="8" height="8.5" fill="#e0e4ee"/></svg>
<div class="t" id="t0" style="left:45.40px;top:46.12px;font-size:14.97px;font-weight:bold;-webkit-text-stroke:0.30px #fff;color:#fff;transform:scaleX(0.8713)">ÉTÉ 2023</div>
<div class="t" id="t1" style="left:45.40px;top:64.25px;font-size:14.83px;font-weight:bold;-webkit-text-stroke:0.30px #fff;color:#fff;transform:scaleX(0.8785)">FRANCE HEXAGONALE</div>
<div class="t" id="t2" style="left:43.19px;top:84.40px;font-size:39.10px;font-weight:bold;-webkit-text-stroke:0.90px #fff;color:#fff;transform:scaleX(0.8705)">CANICULE ET SANTÉ</div>
<div class="t" id="t3" style="left:519.80px;top:49.47px;font-size:20.35px;font-weight:bold;-webkit-text-stroke:0.30px #fff;color:#fff;transform:scaleX(0.9600)">Santé</div>
<div class="t" id="t4" style="left:519.80px;top:67.70px;font-size:19.60px;font-weight:bold;-webkit-text-stroke:0.30px #fff;color:#fff;transform:scaleX(0.9671)">publique</div>
<div class="t" id="t5" style="left:519.80px;top:91.03px;font-size:19.33px;-webkit-text-stroke:0.15px #fff;color:#fff;transform:scaleX(0.8341)">France</div>
<div class="t" id="t6" style="left:529.00px;top:146.63px;font-size:9.88px;font-weight:bold;-webkit-text-stroke:0.25px #34478f;color:#34478f;transform:scaleX(0.8355)">Publié le 8 février 2024</div>
<div class="t" id="t7" style="left:23.60px;top:177.93px;font-size:13.66px;-webkit-text-stroke:0.15px #2f2f2f;color:#2f2f2f;transform:scaleX(0.8910)">Santé publique France surveille l’impact sanitaire</div>
<div class="t" id="t8" style="left:23.60px;top:193.73px;font-size:13.66px;-webkit-text-stroke:0.15px #2f2f2f;color:#2f2f2f;transform:scaleX(0.8875)">pendant les alertes météorologiques canicule</div>
<div class="t" id="t9" style="left:23.60px;top:209.63px;font-size:13.66px;-webkit-text-stroke:0.15px #2f2f2f;color:#2f2f2f;transform:scaleX(0.8298)">déclenchées par Météo France.</div>
<div class="t" id="t10" style="left:23.60px;top:230.83px;font-size:13.66px;-webkit-text-stroke:0.15px #2f2f2f;color:#2f2f2f;transform:scaleX(0.8808)">Ce dispositif vise à anticiper les canicules susceptibles</div>
<div class="t" id="t11" style="left:23.60px;top:246.93px;font-size:13.66px;-webkit-text-stroke:0.15px #2f2f2f;color:#2f2f2f;transform:scaleX(0.9005)">d’avoir un impact sanitaire majeur et permettre</div>
<div class="t" id="t12" style="left:23.60px;top:263.03px;font-size:13.66px;-webkit-text-stroke:0.15px #2f2f2f;color:#2f2f2f;transform:scaleX(0.8784)">la mise en place rapide de mesures de prévention</div>
<div class="t" id="t13" style="left:23.60px;top:279.13px;font-size:13.66px;-webkit-text-stroke:0.15px #2f2f2f;color:#2f2f2f;transform:scaleX(0.8703)">et de gestion.</div>
<div class="t" id="t14" style="left:375.00px;top:173.19px;font-size:14.53px;font-weight:bold;-webkit-text-stroke:0.30px #56abdf;color:#56abdf;transform:scaleX(0.8099)">Qu’appelle-t-on canicule ?</div>
<div class="t" id="t15" style="left:375.00px;top:190.74px;font-size:10.47px;-webkit-text-stroke:0.13px #2f2f2f;color:#2f2f2f;transform:scaleX(0.8953)">Les périodes de canicule sont définies <b>par département</b></div>
<div class="t" id="t16" style="left:375.00px;top:202.74px;font-size:10.47px;-webkit-text-stroke:0.13px #2f2f2f;color:#2f2f2f;transform:scaleX(0.9153)">lorsque les moyennes de 3 jours des températures</div>
<div class="t" id="t17" style="left:375.00px;top:214.74px;font-size:10.47px;-webkit-text-stroke:0.13px #2f2f2f;color:#2f2f2f;transform:scaleX(0.9619)">minimales et maximales dépassent les seuils d’alerte.</div>
<div class="t" id="t18" style="left:380.80px;top:249.63px;font-size:13.66px;font-weight:bold;-webkit-text-stroke:0.30px #231f1a;color:#231f1a;transform:scaleX(0.8454)">Au niveau</div>
<div class="t" id="t19" style="left:380.80px;top:264.83px;font-size:13.66px;font-weight:bold;-webkit-text-stroke:0.30px #231f1a;color:#231f1a;transform:scaleX(0.9209)">national</div>
<div class="t" id="t20" style="left:380.79px;top:279.79px;font-size:8.87px;-webkit-text-stroke:0.12px #231f1a;color:#231f1a;transform:scaleX(0.7667)">ÉTÉ 2023</div>
<div class="t" id="t21" style="left:453.88px;top:255.68px;font-size:26.60px;font-weight:bold;-webkit-text-stroke:1.00px #111;color:#111;transform:scaleX(0.8275)">4</div>
<div class="t" id="t22" style="left:467.61px;top:256.41px;font-size:17.00px;font-weight:bold;-webkit-text-stroke:0.70px #111;color:#111;transform:scaleX(0.9890)">e</div>
<div class="t" id="t23" style="left:496.80px;top:254.68px;font-size:9.59px;font-weight:bold;-webkit-text-stroke:0.24px #231f1a;color:#231f1a;transform:scaleX(0.8182)">été le plus chaud</div>
<div class="t" id="t24" style="left:496.80px;top:264.88px;font-size:9.59px;-webkit-text-stroke:0.12px #3b3024;color:#3b3024;transform:scaleX(0.8533)">observé dans l’Hexagone</div>
<div class="t" id="t25" style="left:496.80px;top:275.38px;font-size:9.59px;-webkit-text-stroke:0.12px #3b3024;color:#3b3024;transform:scaleX(0.8613)">depuis le début du XX<sup>e</sup> siècle.</div>
<div class="t" id="t26" style="left:24.80px;top:332.13px;font-size:13.66px;font-weight:bold;-webkit-text-stroke:0.30px #2d4191;color:#2d4191;transform:scaleX(0.9001)">QUATRE VAGUES DE CANICULE AU COURS DE L’ÉTÉ 2023</div>
<div class="t" id="t27" style="left:82.00px;top:393.49px;font-size:14.53px;-webkit-text-stroke:0.15px #c9cbd9;color:#c9cbd9;transform:scaleX(0.9244)">JUIN</div>
<div class="t" id="t28" style="left:233.00px;top:393.49px;font-size:14.53px;-webkit-text-stroke:0.15px #c9cbd9;color:#c9cbd9;transform:scaleX(0.8820)">JUILLET</div>
<div class="t" id="t29" style="left:409.59px;top:393.49px;font-size:14.53px;-webkit-text-stroke:0.15px #c9cbd9;color:#c9cbd9;transform:scaleX(0.8083)">AOÛT</div>
<div class="t" id="t30" style="left:522.20px;top:393.49px;font-size:14.53px;-webkit-text-stroke:0.15px #c9cbd9;color:#c9cbd9;transform:scaleX(0.8715)">SEPTEMBRE</div>
<div class="t" id="t31" style="left:64.60px;top:445.69px;font-size:10.76px;font-weight:bold;-webkit-text-stroke:0.27px #1d1d1b;color:#1d1d1b;transform:scaleX(0.9335)">7 au 13 juillet</div>
<div class="t" id="t32" style="left:47.21px;top:491.00px;font-size:9.45px;font-weight:bold;-webkit-text-stroke:0.24px #ef8a2c;color:#ef8a2c;transform:scaleX(1.0176)">20%</div>
<div class="t" id="t33" style="left:48.70px;top:519.63px;font-size:8.00px;-webkit-text-stroke:0.12px #3d3d45;color:#3d3d45;transform:scaleX(0.9200)">de la</div>
<div class="t" id="t34" style="left:37.50px;top:528.43px;font-size:8.00px;-webkit-text-stroke:0.12px #3d3d45;color:#3d3d45;transform:scaleX(1.0409)">population</div>
<div class="t" id="t35" style="left:35.90px;top:537.23px;font-size:8.00px;-webkit-text-stroke:0.12px #3d3d45;color:#3d3d45;transform:scaleX(1.0291)">hexagonale</div>
<div class="t" id="t36" style="left:42.30px;top:546.53px;font-size:8.00px;-webkit-text-stroke:0.12px #3d3d45;color:#3d3d45;transform:scaleX(1.0107)">touchée</div>
<div class="t" id="t37" style="left:99.20px;top:538.03px;font-size:8.00px;-webkit-text-stroke:0.12px #3d3d45;color:#3d3d45;transform:scaleX(1.0757)">départements</div>
<div class="t" id="t38" style="left:106.40px;top:546.83px;font-size:8.00px;-webkit-text-stroke:0.12px #3d3d45;color:#3d3d45;transform:scaleX(1.0351)">concernés</div>
<div class="t" id="t39" style="left:132.41px;top:495.70px;font-size:11.34px;font-weight:bold;-webkit-text-stroke:0.28px #fff;color:#fff;transform:scaleX(0.9024)">21</div>
<div class="t" id="t40" style="left:52.60px;top:571.76px;font-size:8.43px;-webkit-text-stroke:0.12px #55565e;color:#55565e;transform:scaleX(1.0077)">Durée par département</div>
<div class="t" id="t41" style="left:70.03px;top:586.28px;font-size:7.70px;font-weight:bold;-webkit-text-stroke:0.20px #ec7d12;color:#ec7d12;transform:scaleX(0.8839)">MIN</div>
<div class="t" id="t42" style="left:102.00px;top:586.28px;font-size:7.70px;font-weight:bold;-webkit-text-stroke:0.20px #ec7d12;color:#ec7d12;transform:scaleX(0.9534)">3 jours</div>
<div class="t" id="t43" style="left:60.20px;top:596.88px;font-size:7.70px;font-weight:bold;-webkit-text-stroke:0.20px #ec7d12;color:#ec7d12;transform:scaleX(0.8664)">MAX</div>
<div class="t" id="t44" style="left:112.00px;top:596.88px;font-size:7.70px;font-weight:bold;-webkit-text-stroke:0.20px #ec7d12;color:#ec7d12;transform:scaleX(0.9219)">6 jours</div>
<div class="t" id="t45" style="left:47.40px;top:608.38px;font-size:7.70px;font-weight:bold;-webkit-text-stroke:0.20px #1d1d1b;color:#1d1d1b;transform:scaleX(0.8654)">MOYENNE</div>
<div class="t" id="t46" style="left:106.00px;top:608.38px;font-size:7.70px;font-weight:bold;-webkit-text-stroke:0.20px #1d1d1b;color:#1d1d1b;transform:scaleX(0.9667)">3,8 jours</div>
<div class="t" id="t47" style="left:208.80px;top:445.69px;font-size:10.76px;font-weight:bold;-webkit-text-stroke:0.27px #1d1d1b;color:#1d1d1b;transform:scaleX(0.9175)">17 au 26 juillet</div>
<div class="t" id="t48" style="left:197.20px;top:491.00px;font-size:9.45px;font-weight:bold;-webkit-text-stroke:0.24px #ef8a2c;color:#ef8a2c;transform:scaleX(1.0172)">12%</div>
<div class="t" id="t49" style="left:198.65px;top:519.63px;font-size:8.00px;-webkit-text-stroke:0.12px #3d3d45;color:#3d3d45;transform:scaleX(0.9200)">de la</div>
<div class="t" id="t50" style="left:187.44px;top:528.43px;font-size:8.00px;-webkit-text-stroke:0.12px #3d3d45;color:#3d3d45;transform:scaleX(1.0409)">population</div>
<div class="t" id="t51" style="left:185.84px;top:537.23px;font-size:8.00px;-webkit-text-stroke:0.12px #3d3d45;color:#3d3d45;transform:scaleX(1.0291)">hexagonale</div>
<div class="t" id="t52" style="left:192.24px;top:546.53px;font-size:8.00px;-webkit-text-stroke:0.12px #3d3d45;color:#3d3d45;transform:scaleX(1.0107)">touchée</div>
<div class="t" id="t53" style="left:249.20px;top:538.03px;font-size:8.00px;-webkit-text-stroke:0.12px #3d3d45;color:#3d3d45;transform:scaleX(1.0757)">départements</div>
<div class="t" id="t54" style="left:256.40px;top:546.83px;font-size:8.00px;-webkit-text-stroke:0.12px #3d3d45;color:#3d3d45;transform:scaleX(1.0351)">concernés</div>
<div class="t" id="t55" style="left:275.58px;top:494.40px;font-size:11.34px;font-weight:bold;-webkit-text-stroke:0.28px #ec7d12;color:#ec7d12;transform:scaleX(0.9207)">10</div>
<div class="t" id="t56" style="left:204.60px;top:571.76px;font-size:8.43px;-webkit-text-stroke:0.12px #55565e;color:#55565e;transform:scaleX(1.0032)">Durée par département</div>
<div class="t" id="t57" style="left:221.80px;top:586.28px;font-size:7.70px;font-weight:bold;-webkit-text-stroke:0.20px #ec7d12;color:#ec7d12;transform:scaleX(0.9092)">MIN</div>
<div class="t" id="t58" style="left:254.00px;top:586.28px;font-size:7.70px;font-weight:bold;-webkit-text-stroke:0.20px #ec7d12;color:#ec7d12;transform:scaleX(0.9064)">3 jours</div>
<div class="t" id="t59" style="left:208.40px;top:596.88px;font-size:7.70px;font-weight:bold;-webkit-text-stroke:0.20px #ec7d12;color:#ec7d12;transform:scaleX(0.8664)">MAX</div>
<div class="t" id="t60" style="left:266.00px;top:596.88px;font-size:7.70px;font-weight:bold;-webkit-text-stroke:0.20px #ec7d12;color:#ec7d12;transform:scaleX(0.9064)">7 jours</div>
<div class="t" id="t61" style="left:198.20px;top:608.38px;font-size:7.70px;font-weight:bold;-webkit-text-stroke:0.20px #1d1d1b;color:#1d1d1b;transform:scaleX(0.8549)">MOYENNE</div>
<div class="t" id="t62" style="left:256.80px;top:608.38px;font-size:7.70px;font-weight:bold;-webkit-text-stroke:0.20px #1d1d1b;color:#1d1d1b;transform:scaleX(0.9667)">3,9 jours</div>
<div class="t" id="t63" style="left:362.40px;top:445.69px;font-size:10.76px;font-weight:bold;-webkit-text-stroke:0.27px #1d1d1b;color:#1d1d1b;transform:scaleX(0.9008)">11 au 26 août</div>
<div class="t" id="t64" style="left:345.01px;top:491.00px;font-size:9.45px;font-weight:bold;-webkit-text-stroke:0.24px #ef8a2c;color:#ef8a2c;transform:scaleX(1.0601)">46%</div>
<div class="t" id="t65" style="left:348.59px;top:519.63px;font-size:8.00px;-webkit-text-stroke:0.12px #3d3d45;color:#3d3d45;transform:scaleX(0.9200)">de la</div>
<div class="t" id="t66" style="left:337.38px;top:528.43px;font-size:8.00px;-webkit-text-stroke:0.12px #3d3d45;color:#3d3d45;transform:scaleX(1.0409)">population</div>
<div class="t" id="t67" style="left:335.78px;top:537.23px;font-size:8.00px;-webkit-text-stroke:0.12px #3d3d45;color:#3d3d45;transform:scaleX(1.0291)">hexagonale</div>
<div class="t" id="t68" style="left:342.18px;top:546.53px;font-size:8.00px;-webkit-text-stroke:0.12px #3d3d45;color:#3d3d45;transform:scaleX(1.0107)">touchée</div>
<div class="t" id="t69" style="left:399.20px;top:538.03px;font-size:8.00px;-webkit-text-stroke:0.12px #3d3d45;color:#3d3d45;transform:scaleX(1.0757)">départements</div>
<div class="t" id="t70" style="left:406.40px;top:546.83px;font-size:8.00px;-webkit-text-stroke:0.12px #3d3d45;color:#3d3d45;transform:scaleX(1.0351)">concernés</div>
<div class="t" id="t71" style="left:427.00px;top:498.00px;font-size:11.34px;font-weight:bold;-webkit-text-stroke:0.28px #fff;color:#fff;transform:scaleX(0.9996)">52</div>
<div class="t" id="t72" style="left:351.40px;top:571.76px;font-size:8.43px;-webkit-text-stroke:0.12px #55565e;color:#55565e;transform:scaleX(1.0009)">Durée par département</div>
<div class="t" id="t73" style="left:364.03px;top:586.28px;font-size:7.70px;font-weight:bold;-webkit-text-stroke:0.20px #ec7d12;color:#ec7d12;transform:scaleX(0.8706)">MIN</div>
<div class="t" id="t74" style="left:397.40px;top:586.28px;font-size:7.70px;font-weight:bold;-webkit-text-stroke:0.20px #ec7d12;color:#ec7d12;transform:scaleX(0.9773)">3 jours</div>
<div class="t" id="t75" style="left:326.40px;top:596.88px;font-size:7.70px;font-weight:bold;-webkit-text-stroke:0.20px #ec7d12;color:#ec7d12;transform:scaleX(0.9018)">MAX</div>
<div class="t" id="t76" style="left:433.40px;top:596.88px;font-size:7.70px;font-weight:bold;-webkit-text-stroke:0.20px #ec7d12;color:#ec7d12;transform:scaleX(0.9506)">16 jours</div>
<div class="t" id="t77" style="left:334.20px;top:608.38px;font-size:7.70px;font-weight:bold;-webkit-text-stroke:0.20px #1d1d1b;color:#1d1d1b;transform:scaleX(0.8604)">MOYENNE</div>
<div class="t" id="t78" style="left:406.21px;top:608.38px;font-size:7.70px;font-weight:bold;-webkit-text-stroke:0.20px #1d1d1b;color:#1d1d1b;transform:scaleX(0.9417)">6,1 jours</div>
<div class="t" id="t79" style="left:494.80px;top:445.69px;font-size:10.76px;font-weight:bold;-webkit-text-stroke:0.27px #1d1d1b;color:#1d1d1b;transform:scaleX(0.9317)">3 au 11 septembre</div>
<div class="t" id="t80" style="left:496.00px;top:491.00px;font-size:9.45px;font-weight:bold;-webkit-text-stroke:0.24px #ef8a2c;color:#ef8a2c;transform:scaleX(1.1131)">29%</div>
<div class="t" id="t81" style="left:498.53px;top:519.63px;font-size:8.00px;-webkit-text-stroke:0.12px #3d3d45;color:#3d3d45;transform:scaleX(0.9200)">de la</div>
<div class="t" id="t82" style="left:487.32px;top:528.43px;font-size:8.00px;-webkit-text-stroke:0.12px #3d3d45;color:#3d3d45;transform:scaleX(1.0409)">population</div>
<div class="t" id="t83" style="left:485.72px;top:537.23px;font-size:8.00px;-webkit-text-stroke:0.12px #3d3d45;color:#3d3d45;transform:scaleX(1.0291)">hexagonale</div>
<div class="t" id="t84" style="left:492.12px;top:546.53px;font-size:8.00px;-webkit-text-stroke:0.12px #3d3d45;color:#3d3d45;transform:scaleX(1.0107)">touchée</div>
<div class="t" id="t85" style="left:549.20px;top:538.03px;font-size:8.00px;-webkit-text-stroke:0.12px #3d3d45;color:#3d3d45;transform:scaleX(1.0757)">départements</div>
<div class="t" id="t86" style="left:556.40px;top:546.83px;font-size:8.00px;-webkit-text-stroke:0.12px #3d3d45;color:#3d3d45;transform:scaleX(1.0351)">concernés</div>
<div class="t" id="t87" style="left:568.00px;top:487.00px;font-size:11.34px;font-weight:bold;-webkit-text-stroke:0.28px #ec7d12;color:#ec7d12;transform:scaleX(0.8702)">17</div>
<div class="t" id="t88" style="left:502.00px;top:571.76px;font-size:8.43px;-webkit-text-stroke:0.12px #55565e;color:#55565e;transform:scaleX(1.0032)">Durée par département</div>
<div class="t" id="t89" style="left:519.19px;top:586.28px;font-size:7.70px;font-weight:bold;-webkit-text-stroke:0.20px #ec7d12;color:#ec7d12;transform:scaleX(0.8839)">MIN</div>
<div class="t" id="t90" style="left:552.00px;top:586.28px;font-size:7.70px;font-weight:bold;-webkit-text-stroke:0.20px #ec7d12;color:#ec7d12;transform:scaleX(0.9534)">3 jours</div>
<div class="t" id="t91" style="left:506.61px;top:596.88px;font-size:7.70px;font-weight:bold;-webkit-text-stroke:0.20px #ec7d12;color:#ec7d12;transform:scaleX(0.8319)">MAX</div>
<div class="t" id="t92" style="left:563.40px;top:596.88px;font-size:7.70px;font-weight:bold;-webkit-text-stroke:0.20px #ec7d12;color:#ec7d12;transform:scaleX(0.9534)">7 jours</div>
<div class="t" id="t93" style="left:493.79px;top:608.38px;font-size:7.70px;font-weight:bold;-webkit-text-stroke:0.20px #1d1d1b;color:#1d1d1b;transform:scaleX(0.8654)">MOYENNE</div>
<div class="t" id="t94" style="left:556.00px;top:608.38px;font-size:7.70px;font-weight:bold;-webkit-text-stroke:0.20px #1d1d1b;color:#1d1d1b;transform:scaleX(0.9477)">4,4 jours</div>
<div class="t" id="t95" style="left:24.40px;top:720.92px;font-size:13.08px;font-weight:bold;-webkit-text-stroke:0.30px #56abdf;color:#56abdf;transform:scaleX(0.8905)">Qu’est-ce qu’un seuil</div>
<div class="t" id="t96" style="left:24.40px;top:734.32px;font-size:13.08px;font-weight:bold;-webkit-text-stroke:0.30px #56abdf;color:#56abdf;transform:scaleX(0.9154)">d’alerte ?</div>
<div class="t" id="t97" style="left:24.40px;top:753.54px;font-size:10.47px;-webkit-text-stroke:0.13px #2a2a2a;color:#2a2a2a;transform:scaleX(0.8669)">Les seuils d’alerte correspondent</div>
<div class="t" id="t98" style="left:24.40px;top:765.24px;font-size:10.47px;-webkit-text-stroke:0.13px #2a2a2a;color:#2a2a2a;transform:scaleX(0.8542)">à des températures associées à une</div>
<div class="t" id="t99" style="left:24.40px;top:776.84px;font-size:10.47px;-webkit-text-stroke:0.13px #2a2a2a;color:#2a2a2a;transform:scaleX(0.8725)">augmentation importante du risque</div>
<div class="t" id="t100" style="left:24.40px;top:788.54px;font-size:10.47px;-webkit-text-stroke:0.13px #2a2a2a;color:#2a2a2a;transform:scaleX(0.8699)">de mortalité de la population</div>
<div class="t" id="t101" style="left:24.40px;top:800.24px;font-size:10.47px;-webkit-text-stroke:0.13px #2a2a2a;color:#2a2a2a;transform:scaleX(0.8474)">exposée à la chaleur. Ils ont été</div>
<div class="t" id="t102" style="left:24.40px;top:811.94px;font-size:10.47px;-webkit-text-stroke:0.13px #2a2a2a;color:#2a2a2a;transform:scaleX(0.8656)">définis pour chaque département sur</div>
<div class="t" id="t103" style="left:24.40px;top:823.54px;font-size:10.47px;-webkit-text-stroke:0.13px #2a2a2a;color:#2a2a2a;transform:scaleX(0.8414)">une période historique de 30 ans.</div>
<div class="t" id="t104" style="left:23.80px;top:873.18px;font-size:9.59px;-webkit-text-stroke:0.12px #34478f;color:#34478f;transform:scaleX(0.8954)">Source : BSP Canicule et santé.</div>
<div class="t" id="t105" style="left:23.80px;top:884.48px;font-size:9.59px;-webkit-text-stroke:0.12px #34478f;color:#34478f;transform:scaleX(0.9204)">Édition nationale</div>
<div class="t" id="t106" style="left:480.40px;top:723.91px;font-size:8.14px;font-weight:bold;-webkit-text-stroke:0.20px #1f1f1f;color:#1f1f1f;transform:scaleX(0.9783)">Nombre de jours</div>
<div class="t" id="t107" style="left:480.40px;top:731.91px;font-size:8.14px;font-weight:bold;-webkit-text-stroke:0.20px #1f1f1f;color:#1f1f1f;transform:scaleX(0.9767)">de dépassement</div>
<div class="t" id="t108" style="left:480.40px;top:740.11px;font-size:8.14px;font-weight:bold;-webkit-text-stroke:0.20px #1f1f1f;color:#1f1f1f;transform:scaleX(1.0054)">des seuils d’alerte</div>
<div class="t" id="t109" style="left:494.00px;top:761.55px;font-size:7.27px;font-weight:bold;-webkit-text-stroke:0.20px #262626;color:#262626;transform:scaleX(0.8934)">Plus de 20 jours</div>
<div class="t" id="t110" style="left:494.00px;top:779.35px;font-size:7.27px;font-weight:bold;-webkit-text-stroke:0.20px #262626;color:#262626;transform:scaleX(0.9047)">15 à 19 jours</div>
<div class="t" id="t111" style="left:494.00px;top:796.75px;font-size:7.27px;font-weight:bold;-webkit-text-stroke:0.20px #262626;color:#262626;transform:scaleX(0.8909)">10 à 14 jours</div>
<div class="t" id="t112" style="left:493.59px;top:814.25px;font-size:7.27px;font-weight:bold;-webkit-text-stroke:0.20px #262626;color:#262626;transform:scaleX(0.8850)">6 à 9 jours</div>
<div class="t" id="t113" style="left:491.60px;top:831.65px;font-size:7.27px;font-weight:bold;-webkit-text-stroke:0.20px #262626;color:#262626;transform:scaleX(0.9181)">3 à 5 jours</div>
<div class="t" id="t114" style="left:491.00px;top:849.15px;font-size:7.27px;font-weight:bold;-webkit-text-stroke:0.20px #262626;color:#262626;transform:scaleX(0.8870)">Aucun</div>
</body></html>
